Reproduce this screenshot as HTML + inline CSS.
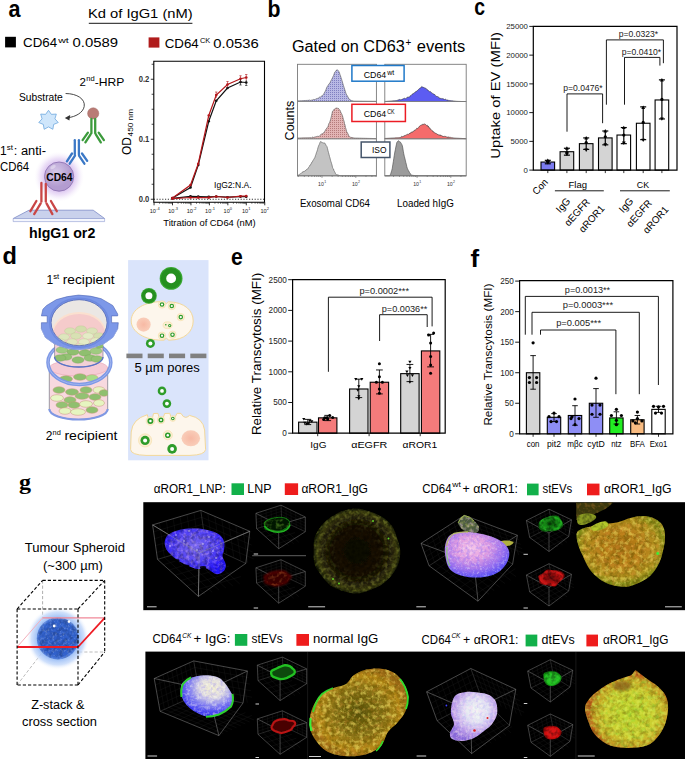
<!DOCTYPE html>
<html><head><meta charset="utf-8"><style>
html,body{margin:0;padding:0;background:#fff;}
svg{display:block;font-family:"Liberation Sans",sans-serif;}
</style></head><body>
<svg width="685" height="759" viewBox="0 0 685 759">
<defs>
<radialGradient id="glow"><stop offset="0.45" stop-color="#c7a2e6" stop-opacity="0.9"/><stop offset="0.75" stop-color="#d9c0f0" stop-opacity="0.45"/><stop offset="1" stop-color="#f4ecfb" stop-opacity="0"/></radialGradient>
<radialGradient id="cd64" cx="0.4" cy="0.35"><stop offset="0" stop-color="#d6c8e8"/><stop offset="1" stop-color="#b39cd0"/></radialGradient>
<pattern id="dotB" width="2" height="2" patternUnits="userSpaceOnUse"><rect width="2" height="2" fill="#b9b9e4"/><rect width="1" height="1" fill="#8080c0"/></pattern>
<pattern id="dotR" width="2" height="2" patternUnits="userSpaceOnUse"><rect width="2" height="2" fill="#e2b4b4"/><rect width="1" height="1" fill="#b57c7c"/></pattern>
<filter id="nzW" x="-5%" y="-5%" width="110%" height="110%"><feTurbulence type="fractalNoise" baseFrequency="0.4" numOctaves="3" seed="3" result="n"/><feColorMatrix in="n" type="matrix" values="0 0 0 0 1  0 0 0 0 1  0 0 0 0 1  0 0 0 3.0 -1.45" result="c"/><feGaussianBlur in="c" stdDeviation="0.35" result="cb"/><feComposite in="cb" in2="SourceAlpha" operator="in"/></filter><filter id="nzW2" x="-5%" y="-5%" width="110%" height="110%"><feTurbulence type="fractalNoise" baseFrequency="0.3" numOctaves="3" seed="8" result="n"/><feColorMatrix in="n" type="matrix" values="0 0 0 0 1  0 0 0 0 1  0 0 0 0 0.9  0 0 0 3.0 -1.3" result="c"/><feGaussianBlur in="c" stdDeviation="0.35" result="cb"/><feComposite in="cb" in2="SourceAlpha" operator="in"/></filter><filter id="nzK" x="-5%" y="-5%" width="110%" height="110%"><feTurbulence type="fractalNoise" baseFrequency="0.25" numOctaves="3" seed="5" result="n"/><feColorMatrix in="n" type="matrix" values="0 0 0 0 0  0 0 0 0 0  0 0 0 0 0  0 0 0 3.0 -1.2" result="c"/><feGaussianBlur in="c" stdDeviation="0.35" result="cb"/><feComposite in="cb" in2="SourceAlpha" operator="in"/></filter><filter id="nzK2" x="-5%" y="-5%" width="110%" height="110%"><feTurbulence type="fractalNoise" baseFrequency="0.2" numOctaves="3" seed="9" result="n"/><feColorMatrix in="n" type="matrix" values="0 0 0 0 0.12  0 0 0 0 0.08  0 0 0 0 0  0 0 0 3.0 -1.2" result="c"/><feGaussianBlur in="c" stdDeviation="0.35" result="cb"/><feComposite in="cb" in2="SourceAlpha" operator="in"/></filter><filter id="nzY" x="-5%" y="-5%" width="110%" height="110%"><feTurbulence type="fractalNoise" baseFrequency="0.22" numOctaves="3" seed="4" result="n"/><feColorMatrix in="n" type="matrix" values="0 0 0 0 0.95  0 0 0 0 0.82  0 0 0 0 0.15  0 0 0 3.4 -1.55" result="c"/><feGaussianBlur in="c" stdDeviation="0.35" result="cb"/><feComposite in="cb" in2="SourceAlpha" operator="in"/></filter><filter id="nzYG" x="-5%" y="-5%" width="110%" height="110%"><feTurbulence type="fractalNoise" baseFrequency="0.25" numOctaves="3" seed="14" result="n"/><feColorMatrix in="n" type="matrix" values="0 0 0 0 0.75  0 0 0 0 0.85  0 0 0 0 0.1  0 0 0 3.4 -1.5" result="c"/><feGaussianBlur in="c" stdDeviation="0.35" result="cb"/><feComposite in="cb" in2="SourceAlpha" operator="in"/></filter><filter id="nzG" x="-5%" y="-5%" width="110%" height="110%"><feTurbulence type="fractalNoise" baseFrequency="0.25" numOctaves="3" seed="12" result="n"/><feColorMatrix in="n" type="matrix" values="0 0 0 0 0.3  0 0 0 0 0.75  0 0 0 0 0.05  0 0 0 3.0 -1.35" result="c"/><feGaussianBlur in="c" stdDeviation="0.35" result="cb"/><feComposite in="cb" in2="SourceAlpha" operator="in"/></filter><filter id="nzR" x="-5%" y="-5%" width="110%" height="110%"><feTurbulence type="fractalNoise" baseFrequency="0.25" numOctaves="3" seed="15" result="n"/><feColorMatrix in="n" type="matrix" values="0 0 0 0 0.85  0 0 0 0 0.3  0 0 0 0 0.05  0 0 0 3.0 -1.45" result="c"/><feGaussianBlur in="c" stdDeviation="0.35" result="cb"/><feComposite in="cb" in2="SourceAlpha" operator="in"/></filter><filter id="nzB" x="-5%" y="-5%" width="110%" height="110%"><feTurbulence type="fractalNoise" baseFrequency="0.3" numOctaves="3" seed="21" result="n"/><feColorMatrix in="n" type="matrix" values="0 0 0 0 0.15  0 0 0 0 0.1  0 0 0 0 1.0  0 0 0 3.0 -1.3" result="c"/><feGaussianBlur in="c" stdDeviation="0.35" result="cb"/><feComposite in="cb" in2="SourceAlpha" operator="in"/></filter><filter id="nzP" x="-5%" y="-5%" width="110%" height="110%"><feTurbulence type="fractalNoise" baseFrequency="0.3" numOctaves="3" seed="23" result="n"/><feColorMatrix in="n" type="matrix" values="0 0 0 0 0.95  0 0 0 0 0.6  0 0 0 0 0.95  0 0 0 3.0 -1.3" result="c"/><feGaussianBlur in="c" stdDeviation="0.35" result="cb"/><feComposite in="cb" in2="SourceAlpha" operator="in"/></filter><filter id="blur1" x="-20%" y="-20%" width="140%" height="140%"><feGaussianBlur stdDeviation="1.0"/></filter><filter id="blur2" x="-30%" y="-30%" width="160%" height="160%"><feGaussianBlur stdDeviation="2.0"/></filter><filter id="blur05" x="-20%" y="-20%" width="140%" height="140%"><feGaussianBlur stdDeviation="0.5"/></filter><radialGradient id="rimG"><stop offset="0" stop-color="#000"/><stop offset="0.45" stop-color="#222"/><stop offset="0.8" stop-color="#fff"/><stop offset="1" stop-color="#fff"/></radialGradient><mask id="rimMask" maskUnits="userSpaceOnUse" x="300" y="500" width="115" height="110"><circle cx="356.4" cy="551" r="44" fill="url(#rimG)"/></mask>
<radialGradient id="lnpB" cx="0.5" cy="0.4" r="0.6"><stop offset="0" stop-color="#7868ee"/><stop offset="0.5" stop-color="#5444f2"/><stop offset="0.85" stop-color="#3020fa"/><stop offset="1" stop-color="#2414fc"/></radialGradient>
<radialGradient id="dimY" cx="0.5" cy="0.5"><stop offset="0" stop-color="#0e0902"/><stop offset="0.6" stop-color="#151004"/><stop offset="0.82" stop-color="#2a2608"/><stop offset="0.93" stop-color="#3a3c0e"/><stop offset="1" stop-color="#181c05"/></radialGradient>
<radialGradient id="pinkB" cx="0.42" cy="0.35" r="0.7"><stop offset="0" stop-color="#f4c2e8"/><stop offset="0.35" stop-color="#e29ee0"/><stop offset="0.7" stop-color="#9e72ec"/><stop offset="1" stop-color="#4444f4"/></radialGradient>
<radialGradient id="gB"><stop offset="0" stop-color="#0c500c"/><stop offset="0.55" stop-color="#148a14"/><stop offset="0.85" stop-color="#22b422"/><stop offset="1" stop-color="#0e6a0e"/></radialGradient>
<radialGradient id="rB"><stop offset="0" stop-color="#700808"/><stop offset="0.55" stop-color="#b01010"/><stop offset="0.85" stop-color="#d41616"/><stop offset="1" stop-color="#7a0808"/></radialGradient>
<radialGradient id="gB2"><stop offset="0" stop-color="#30d030"/><stop offset="0.8" stop-color="#22c022"/><stop offset="1" stop-color="#109010"/></radialGradient>
<radialGradient id="rB2"><stop offset="0" stop-color="#e01818"/><stop offset="0.8" stop-color="#d01010"/><stop offset="1" stop-color="#900808"/></radialGradient>
<radialGradient id="orB" cx="0.5" cy="0.45"><stop offset="0" stop-color="#a87014"/><stop offset="0.5" stop-color="#b8801a"/><stop offset="0.85" stop-color="#ac901c"/><stop offset="1" stop-color="#808a16"/></radialGradient>
<radialGradient id="orB2" cx="0.5" cy="0.5"><stop offset="0" stop-color="#545010"/><stop offset="0.5" stop-color="#847012"/><stop offset="0.85" stop-color="#b48816"/><stop offset="1" stop-color="#9c6a12"/></radialGradient>
<radialGradient id="ygB" cx="0.55" cy="0.55"><stop offset="0" stop-color="#bcd62e"/><stop offset="0.6" stop-color="#cece30"/><stop offset="0.88" stop-color="#c89c24"/><stop offset="1" stop-color="#bc581a"/></radialGradient>
<radialGradient id="wbB" cx="0.6" cy="0.3" r="0.78"><stop offset="0" stop-color="#f4f0d0"/><stop offset="0.3" stop-color="#e2dee0"/><stop offset="0.55" stop-color="#8886ee"/><stop offset="0.8" stop-color="#3c3af0"/><stop offset="1" stop-color="#2a2ae8"/></radialGradient>
<radialGradient id="wbB2" cx="0.55" cy="0.38" r="0.62"><stop offset="0" stop-color="#f2f8f2"/><stop offset="0.4" stop-color="#e0e2f2"/><stop offset="0.75" stop-color="#b89ae6"/><stop offset="1" stop-color="#8a6ad6"/></radialGradient>

<radialGradient id="nuc"><stop offset="0" stop-color="#f7b9a4"/><stop offset="1" stop-color="#f9cdb9"/></radialGradient>
<radialGradient id="sglow"><stop offset="0" stop-color="#9ec0f6"/><stop offset="0.66" stop-color="#9ec0f6"/><stop offset="0.84" stop-color="#c0d6fa" stop-opacity="0.75"/><stop offset="1" stop-color="#ffffff" stop-opacity="0"/></radialGradient>
<radialGradient id="sph" cx="0.5" cy="0.5"><stop offset="0" stop-color="#2e5cc8"/><stop offset="0.85" stop-color="#3262cc"/><stop offset="1" stop-color="#5a86e0"/></radialGradient>
<radialGradient id="blueblob"><stop offset="0" stop-color="#3b2cf2"/><stop offset="0.8" stop-color="#2a1fe0"/><stop offset="1" stop-color="#1a12a0" stop-opacity="0"/></radialGradient>
<radialGradient id="dimY"><stop offset="0" stop-color="#1c1a06"/><stop offset="0.75" stop-color="#2a2808"/><stop offset="0.92" stop-color="#4b4a12"/><stop offset="1" stop-color="#000" stop-opacity="0"/></radialGradient>
<radialGradient id="pinkblob" cx="0.45" cy="0.45"><stop offset="0" stop-color="#e4b8e8"/><stop offset="0.6" stop-color="#b48ae8"/><stop offset="0.95" stop-color="#6b58e8"/><stop offset="1" stop-color="#000" stop-opacity="0"/></radialGradient>
<radialGradient id="gblob"><stop offset="0" stop-color="#2a9a2a"/><stop offset="0.7" stop-color="#23b023"/><stop offset="1" stop-color="#000" stop-opacity="0"/></radialGradient>
<radialGradient id="rblob"><stop offset="0" stop-color="#a01010"/><stop offset="0.7" stop-color="#cc1818"/><stop offset="1" stop-color="#000" stop-opacity="0"/></radialGradient>
<radialGradient id="gblob2"><stop offset="0" stop-color="#2ccc2c"/><stop offset="0.8" stop-color="#20b020"/><stop offset="1" stop-color="#000" stop-opacity="0"/></radialGradient>
<radialGradient id="rblob2"><stop offset="0" stop-color="#c81818"/><stop offset="0.8" stop-color="#b01010"/><stop offset="1" stop-color="#000" stop-opacity="0"/></radialGradient>
<radialGradient id="orY" cx="0.5" cy="0.5"><stop offset="0" stop-color="#a27a18"/><stop offset="0.7" stop-color="#c49a1c"/><stop offset="1" stop-color="#8a8a10"/></radialGradient>
<radialGradient id="orY2" cx="0.5" cy="0.5"><stop offset="0" stop-color="#7a6a10"/><stop offset="0.6" stop-color="#b08c14"/><stop offset="1" stop-color="#c89a18"/></radialGradient>
<radialGradient id="yg" cx="0.5" cy="0.55"><stop offset="0" stop-color="#b8c428"/><stop offset="0.7" stop-color="#c8c030"/><stop offset="1" stop-color="#c88a20"/></radialGradient>
<radialGradient id="wblob" cx="0.5" cy="0.45"><stop offset="0" stop-color="#e8e8d8"/><stop offset="0.55" stop-color="#b8b8e8"/><stop offset="0.9" stop-color="#3535e0"/><stop offset="1" stop-color="#2d9a3a"/></radialGradient>
<radialGradient id="wblob2" cx="0.5" cy="0.45"><stop offset="0" stop-color="#e8eef0"/><stop offset="0.6" stop-color="#d0c8ec"/><stop offset="0.9" stop-color="#a890d8"/><stop offset="1" stop-color="#7060c0" stop-opacity="0.5"/></radialGradient>
</defs>
<text x="8.40" y="16.70" font-size="24" text-anchor="start" fill="#000" font-weight="bold" textLength="12.0" lengthAdjust="spacingAndGlyphs" >a</text>
<text x="87.90" y="18.10" font-size="13" text-anchor="start" fill="#000" textLength="104.8" lengthAdjust="spacingAndGlyphs" >Kd of IgG1 (nM)</text>
<line x1="88.80" y1="23.40" x2="192.40" y2="23.40" stroke="#444" stroke-width="1.2" />
<rect x="5.10" y="36.80" width="10.80" height="10.60" fill="#000" stroke="none" stroke-width="1" />
<text x="23.10" y="47.00" font-size="13.6" text-anchor="start" fill="#000" textLength="34.1" lengthAdjust="spacingAndGlyphs" >CD64</text>
<text x="58.20" y="42.60" font-size="7.8" text-anchor="start" fill="#000" textLength="10.6" lengthAdjust="spacingAndGlyphs" >wt</text>
<text x="72.60" y="47.00" font-size="13.6" text-anchor="start" fill="#000" textLength="45.5" lengthAdjust="spacingAndGlyphs" >0.0589</text>
<rect x="148.60" y="37.40" width="10.80" height="10.20" fill="#b01c1c" stroke="none" stroke-width="1" />
<text x="164.70" y="47.60" font-size="13.6" text-anchor="start" fill="#000" textLength="34.1" lengthAdjust="spacingAndGlyphs" >CD64</text>
<text x="200.00" y="43.20" font-size="7.6" text-anchor="start" fill="#000" textLength="10.3" lengthAdjust="spacingAndGlyphs" >CK</text>
<text x="213.30" y="47.60" font-size="13.6" text-anchor="start" fill="#000" textLength="45.4" lengthAdjust="spacingAndGlyphs" >0.0536</text>
<text x="79.60" y="86.10" font-size="11.5" text-anchor="start" fill="#000" >2</text>
<text x="86.20" y="81.30" font-size="7.5" text-anchor="start" fill="#000" textLength="8.4" lengthAdjust="spacingAndGlyphs" >nd</text>
<text x="94.80" y="86.10" font-size="11.5" text-anchor="start" fill="#000" textLength="29.6" lengthAdjust="spacingAndGlyphs" >-HRP</text>
<text x="19.00" y="101.40" font-size="10" text-anchor="start" fill="#000" textLength="43.8" lengthAdjust="spacingAndGlyphs" >Substrate</text>
<path d="M65.6 93.5 C77 93.6 85.5 99 84.2 106.5 C83 113 75 116.8 68.5 117.6" fill="none" stroke="#333" stroke-width="0.9" />
<path d="M64.8 117.9 L70.2 114.9 L69.4 120.4 Z" fill="#333" stroke="none" stroke-width="1" />
<polygon points="48.50,110.30 51.36,114.35 56.32,114.07 54.93,118.83 58.25,122.53 53.66,124.42 52.84,129.31 48.50,126.90 44.16,129.31 43.34,124.42 38.75,122.53 42.07,118.83 40.68,114.07 45.64,114.35" fill="#cfe6fb" stroke="#6fa8de" stroke-width="0.8"/>
<circle cx="59.10" cy="176.60" r="25.00" fill="url(#glow)" stroke="none" stroke-width="1" />
<circle cx="59.10" cy="176.60" r="14.60" fill="url(#cd64)" stroke="#8a6fb0" stroke-width="0.8" />
<ellipse cx="53" cy="167" rx="3" ry="1.6" fill="#fff" opacity="0.35" transform="rotate(-30 53 167)"/>
<text x="59.40" y="181.00" font-size="10.5" text-anchor="middle" fill="#000" font-weight="bold" textLength="26.3" lengthAdjust="spacingAndGlyphs" >CD64</text>
<circle cx="93.20" cy="113.40" r="5.60" fill="#b97b75" stroke="#a06862" stroke-width="0.5" />
<line x1="91.40" y1="119.00" x2="91.40" y2="133.20" stroke="#3c9b3c" stroke-width="2.3" stroke-linecap="round"/>
<line x1="95.20" y1="119.00" x2="95.20" y2="133.20" stroke="#3c9b3c" stroke-width="2.3" stroke-linecap="round"/>
<line x1="87.90" y1="132.70" x2="82.60" y2="140.10" stroke="#3c9b3c" stroke-width="2.3" stroke-linecap="round"/>
<line x1="90.60" y1="134.30" x2="85.40" y2="142.40" stroke="#3c9b3c" stroke-width="2.3" stroke-linecap="round"/>
<line x1="98.70" y1="132.70" x2="103.90" y2="140.10" stroke="#3c9b3c" stroke-width="2.3" stroke-linecap="round"/>
<line x1="95.80" y1="134.30" x2="100.80" y2="142.40" stroke="#3c9b3c" stroke-width="2.3" stroke-linecap="round"/>
<line x1="74.80" y1="140.20" x2="74.80" y2="154.40" stroke="#3b78c6" stroke-width="2.3" stroke-linecap="round"/>
<line x1="78.90" y1="140.20" x2="78.90" y2="154.40" stroke="#3b78c6" stroke-width="2.3" stroke-linecap="round"/>
<line x1="72.00" y1="153.50" x2="66.90" y2="161.30" stroke="#3b78c6" stroke-width="2.3" stroke-linecap="round"/>
<line x1="75.00" y1="155.60" x2="69.70" y2="163.70" stroke="#3b78c6" stroke-width="2.3" stroke-linecap="round"/>
<line x1="82.00" y1="153.50" x2="87.20" y2="160.90" stroke="#3b78c6" stroke-width="2.3" stroke-linecap="round"/>
<line x1="79.00" y1="155.60" x2="84.40" y2="163.70" stroke="#3b78c6" stroke-width="2.3" stroke-linecap="round"/>
<path d="M29.0 210.2 L93.2 210.2 L104.6 218.5 L13.2 218.5 Z" fill="#c9d1ec" stroke="#7d8cc6" stroke-width="0.8" />
<path d="M13.2 218.5 L104.6 218.5 L104.6 221.6 L13.2 221.6 Z" fill="#f4f6fd" stroke="#8d9bd0" stroke-width="0.6" />
<line x1="41.40" y1="183.00" x2="41.40" y2="201.70" stroke="#c94646" stroke-width="2.3" stroke-linecap="round"/>
<line x1="45.80" y1="184.00" x2="45.80" y2="201.70" stroke="#c94646" stroke-width="2.3" stroke-linecap="round"/>
<line x1="36.40" y1="201.00" x2="30.40" y2="211.20" stroke="#c94646" stroke-width="2.3" stroke-linecap="round"/>
<line x1="40.70" y1="203.40" x2="34.20" y2="214.10" stroke="#c94646" stroke-width="2.3" stroke-linecap="round"/>
<line x1="50.90" y1="201.00" x2="56.80" y2="211.20" stroke="#c94646" stroke-width="2.3" stroke-linecap="round"/>
<line x1="46.50" y1="203.40" x2="52.40" y2="214.10" stroke="#c94646" stroke-width="2.3" stroke-linecap="round"/>
<text x="0.00" y="154.70" font-size="12" text-anchor="start" fill="#000" >1</text>
<text x="6.80" y="149.60" font-size="7.5" text-anchor="start" fill="#000" textLength="6.2" lengthAdjust="spacingAndGlyphs" >st</text>
<text x="13.80" y="154.70" font-size="12" text-anchor="start" fill="#000" textLength="32.2" lengthAdjust="spacingAndGlyphs" >: anti-</text>
<text x="0.00" y="171.30" font-size="12" text-anchor="start" fill="#000" textLength="29.1" lengthAdjust="spacingAndGlyphs" >CD64</text>
<text x="29.10" y="238.10" font-size="14" text-anchor="start" fill="#000" font-weight="bold" textLength="66.2" lengthAdjust="spacingAndGlyphs" >hIgG1 or2</text>
<path d="M153.8 61.3 L264.5 61.3 L264.5 202.3 L153.8 202.3 Z" fill="none" stroke="#000" stroke-width="1.1" />
<line x1="150.80" y1="199.25" x2="153.80" y2="199.25" stroke="#000" stroke-width="0.8" />
<text x="149.30" y="202.15" font-size="8.2" text-anchor="end" fill="#333" font-weight="bold" textLength="10.6" lengthAdjust="spacingAndGlyphs" >0.0</text>
<line x1="150.80" y1="139.25" x2="153.80" y2="139.25" stroke="#000" stroke-width="0.8" />
<text x="149.30" y="142.15" font-size="8.2" text-anchor="end" fill="#333" font-weight="bold" textLength="10.6" lengthAdjust="spacingAndGlyphs" >0.1</text>
<line x1="150.80" y1="79.25" x2="153.80" y2="79.25" stroke="#000" stroke-width="0.8" />
<text x="149.30" y="82.15" font-size="8.2" text-anchor="end" fill="#333" font-weight="bold" textLength="10.6" lengthAdjust="spacingAndGlyphs" >0.2</text>
<line x1="151.60" y1="184.25" x2="153.80" y2="184.25" stroke="#000" stroke-width="0.7" />
<line x1="151.60" y1="169.25" x2="153.80" y2="169.25" stroke="#000" stroke-width="0.7" />
<line x1="151.60" y1="154.25" x2="153.80" y2="154.25" stroke="#000" stroke-width="0.7" />
<line x1="151.60" y1="124.25" x2="153.80" y2="124.25" stroke="#000" stroke-width="0.7" />
<line x1="151.60" y1="109.25" x2="153.80" y2="109.25" stroke="#000" stroke-width="0.7" />
<line x1="151.60" y1="94.25" x2="153.80" y2="94.25" stroke="#000" stroke-width="0.7" />
<line x1="151.60" y1="64.25" x2="153.80" y2="64.25" stroke="#000" stroke-width="0.7" />
<line x1="154.05" y1="202.30" x2="154.05" y2="205.30" stroke="#000" stroke-width="0.8" />
<text x="152.85" y="212.80" font-size="5.6" text-anchor="middle" fill="#222" >10</text>
<text x="156.05" y="209.80" font-size="4.0" text-anchor="start" fill="#222" >-4</text>
<line x1="159.60" y1="202.30" x2="159.60" y2="203.90" stroke="#000" stroke-width="0.5" />
<line x1="162.85" y1="202.30" x2="162.85" y2="203.90" stroke="#000" stroke-width="0.5" />
<line x1="165.16" y1="202.30" x2="165.16" y2="203.90" stroke="#000" stroke-width="0.5" />
<line x1="166.95" y1="202.30" x2="166.95" y2="203.90" stroke="#000" stroke-width="0.5" />
<line x1="168.41" y1="202.30" x2="168.41" y2="203.90" stroke="#000" stroke-width="0.5" />
<line x1="169.64" y1="202.30" x2="169.64" y2="203.90" stroke="#000" stroke-width="0.5" />
<line x1="170.71" y1="202.30" x2="170.71" y2="203.90" stroke="#000" stroke-width="0.5" />
<line x1="171.66" y1="202.30" x2="171.66" y2="203.90" stroke="#000" stroke-width="0.5" />
<line x1="172.50" y1="202.30" x2="172.50" y2="205.30" stroke="#000" stroke-width="0.8" />
<text x="171.30" y="212.80" font-size="5.6" text-anchor="middle" fill="#222" >10</text>
<text x="174.50" y="209.80" font-size="4.0" text-anchor="start" fill="#222" >-3</text>
<line x1="178.05" y1="202.30" x2="178.05" y2="203.90" stroke="#000" stroke-width="0.5" />
<line x1="181.30" y1="202.30" x2="181.30" y2="203.90" stroke="#000" stroke-width="0.5" />
<line x1="183.61" y1="202.30" x2="183.61" y2="203.90" stroke="#000" stroke-width="0.5" />
<line x1="185.40" y1="202.30" x2="185.40" y2="203.90" stroke="#000" stroke-width="0.5" />
<line x1="186.86" y1="202.30" x2="186.86" y2="203.90" stroke="#000" stroke-width="0.5" />
<line x1="188.09" y1="202.30" x2="188.09" y2="203.90" stroke="#000" stroke-width="0.5" />
<line x1="189.16" y1="202.30" x2="189.16" y2="203.90" stroke="#000" stroke-width="0.5" />
<line x1="190.11" y1="202.30" x2="190.11" y2="203.90" stroke="#000" stroke-width="0.5" />
<line x1="190.95" y1="202.30" x2="190.95" y2="205.30" stroke="#000" stroke-width="0.8" />
<text x="189.75" y="212.80" font-size="5.6" text-anchor="middle" fill="#222" >10</text>
<text x="192.95" y="209.80" font-size="4.0" text-anchor="start" fill="#222" >-2</text>
<line x1="196.50" y1="202.30" x2="196.50" y2="203.90" stroke="#000" stroke-width="0.5" />
<line x1="199.75" y1="202.30" x2="199.75" y2="203.90" stroke="#000" stroke-width="0.5" />
<line x1="202.06" y1="202.30" x2="202.06" y2="203.90" stroke="#000" stroke-width="0.5" />
<line x1="203.85" y1="202.30" x2="203.85" y2="203.90" stroke="#000" stroke-width="0.5" />
<line x1="205.31" y1="202.30" x2="205.31" y2="203.90" stroke="#000" stroke-width="0.5" />
<line x1="206.54" y1="202.30" x2="206.54" y2="203.90" stroke="#000" stroke-width="0.5" />
<line x1="207.61" y1="202.30" x2="207.61" y2="203.90" stroke="#000" stroke-width="0.5" />
<line x1="208.56" y1="202.30" x2="208.56" y2="203.90" stroke="#000" stroke-width="0.5" />
<line x1="209.40" y1="202.30" x2="209.40" y2="205.30" stroke="#000" stroke-width="0.8" />
<text x="208.20" y="212.80" font-size="5.6" text-anchor="middle" fill="#222" >10</text>
<text x="211.40" y="209.80" font-size="4.0" text-anchor="start" fill="#222" >-1</text>
<line x1="214.95" y1="202.30" x2="214.95" y2="203.90" stroke="#000" stroke-width="0.5" />
<line x1="218.20" y1="202.30" x2="218.20" y2="203.90" stroke="#000" stroke-width="0.5" />
<line x1="220.51" y1="202.30" x2="220.51" y2="203.90" stroke="#000" stroke-width="0.5" />
<line x1="222.30" y1="202.30" x2="222.30" y2="203.90" stroke="#000" stroke-width="0.5" />
<line x1="223.76" y1="202.30" x2="223.76" y2="203.90" stroke="#000" stroke-width="0.5" />
<line x1="224.99" y1="202.30" x2="224.99" y2="203.90" stroke="#000" stroke-width="0.5" />
<line x1="226.06" y1="202.30" x2="226.06" y2="203.90" stroke="#000" stroke-width="0.5" />
<line x1="227.01" y1="202.30" x2="227.01" y2="203.90" stroke="#000" stroke-width="0.5" />
<line x1="227.85" y1="202.30" x2="227.85" y2="205.30" stroke="#000" stroke-width="0.8" />
<text x="226.65" y="212.80" font-size="5.6" text-anchor="middle" fill="#222" >10</text>
<text x="229.85" y="209.80" font-size="4.0" text-anchor="start" fill="#222" >0</text>
<line x1="233.40" y1="202.30" x2="233.40" y2="203.90" stroke="#000" stroke-width="0.5" />
<line x1="236.65" y1="202.30" x2="236.65" y2="203.90" stroke="#000" stroke-width="0.5" />
<line x1="238.96" y1="202.30" x2="238.96" y2="203.90" stroke="#000" stroke-width="0.5" />
<line x1="240.75" y1="202.30" x2="240.75" y2="203.90" stroke="#000" stroke-width="0.5" />
<line x1="242.21" y1="202.30" x2="242.21" y2="203.90" stroke="#000" stroke-width="0.5" />
<line x1="243.44" y1="202.30" x2="243.44" y2="203.90" stroke="#000" stroke-width="0.5" />
<line x1="244.51" y1="202.30" x2="244.51" y2="203.90" stroke="#000" stroke-width="0.5" />
<line x1="245.46" y1="202.30" x2="245.46" y2="203.90" stroke="#000" stroke-width="0.5" />
<line x1="246.30" y1="202.30" x2="246.30" y2="205.30" stroke="#000" stroke-width="0.8" />
<text x="245.10" y="212.80" font-size="5.6" text-anchor="middle" fill="#222" >10</text>
<text x="248.30" y="209.80" font-size="4.0" text-anchor="start" fill="#222" >1</text>
<line x1="251.85" y1="202.30" x2="251.85" y2="203.90" stroke="#000" stroke-width="0.5" />
<line x1="255.10" y1="202.30" x2="255.10" y2="203.90" stroke="#000" stroke-width="0.5" />
<line x1="257.41" y1="202.30" x2="257.41" y2="203.90" stroke="#000" stroke-width="0.5" />
<line x1="259.20" y1="202.30" x2="259.20" y2="203.90" stroke="#000" stroke-width="0.5" />
<line x1="260.66" y1="202.30" x2="260.66" y2="203.90" stroke="#000" stroke-width="0.5" />
<line x1="261.89" y1="202.30" x2="261.89" y2="203.90" stroke="#000" stroke-width="0.5" />
<line x1="262.96" y1="202.30" x2="262.96" y2="203.90" stroke="#000" stroke-width="0.5" />
<line x1="263.91" y1="202.30" x2="263.91" y2="203.90" stroke="#000" stroke-width="0.5" />
<line x1="264.75" y1="202.30" x2="264.75" y2="205.30" stroke="#000" stroke-width="0.8" />
<text x="263.55" y="212.80" font-size="5.6" text-anchor="middle" fill="#222" >10</text>
<text x="266.75" y="209.80" font-size="4.0" text-anchor="start" fill="#222" >2</text>
<text x="209.50" y="226.30" font-size="8.8" text-anchor="middle" fill="#000" textLength="92.5" lengthAdjust="spacingAndGlyphs" >Titration of CD64 (nM)</text>
<text x="131.00" y="155.00" font-size="12" text-anchor="start" fill="#000" textLength="18" lengthAdjust="spacingAndGlyphs" transform="rotate(-90 131.00 155.00)" >OD</text>
<text x="132.90" y="136.40" font-size="8.0" text-anchor="start" fill="#000" textLength="27.4" lengthAdjust="spacingAndGlyphs" transform="rotate(-90 132.90 136.40)" >450 nm</text>
<line x1="153.80" y1="199.25" x2="264.50" y2="199.25" stroke="#000" stroke-width="0.8" stroke-dasharray="1.2 1.6"/>
<path d="M172.50 198.00 L190.50 187.50 L198.25 165.00 L208.75 121.25 L216.25 100.75 L227.50 88.00 L240.50 82.00 L246.25 82.50" fill="none" stroke="#111" stroke-width="1.2" />
<circle cx="172.50" cy="198.00" r="1.30" fill="#111" stroke="none" stroke-width="1" />
<circle cx="190.50" cy="187.50" r="1.30" fill="#111" stroke="none" stroke-width="1" />
<circle cx="198.25" cy="165.00" r="1.30" fill="#111" stroke="none" stroke-width="1" />
<circle cx="208.75" cy="121.25" r="1.30" fill="#111" stroke="none" stroke-width="1" />
<circle cx="216.25" cy="100.75" r="1.30" fill="#111" stroke="none" stroke-width="1" />
<circle cx="227.50" cy="88.00" r="1.30" fill="#111" stroke="none" stroke-width="1" />
<circle cx="240.50" cy="82.00" r="1.30" fill="#111" stroke="none" stroke-width="1" />
<circle cx="246.25" cy="82.50" r="1.30" fill="#111" stroke="none" stroke-width="1" />
<path d="M172.50 198.40 L190.50 196.40 L198.25 196.60 L208.75 196.90 L216.25 196.50 L227.50 197.20 L240.50 196.60 L246.25 196.70" fill="none" stroke="#111" stroke-width="1.2" />
<circle cx="172.50" cy="198.40" r="1.30" fill="#111" stroke="none" stroke-width="1" />
<circle cx="190.50" cy="196.40" r="1.30" fill="#111" stroke="none" stroke-width="1" />
<circle cx="198.25" cy="196.60" r="1.30" fill="#111" stroke="none" stroke-width="1" />
<circle cx="208.75" cy="196.90" r="1.30" fill="#111" stroke="none" stroke-width="1" />
<circle cx="216.25" cy="196.50" r="1.30" fill="#111" stroke="none" stroke-width="1" />
<circle cx="227.50" cy="197.20" r="1.30" fill="#111" stroke="none" stroke-width="1" />
<circle cx="240.50" cy="196.60" r="1.30" fill="#111" stroke="none" stroke-width="1" />
<circle cx="246.25" cy="196.70" r="1.30" fill="#111" stroke="none" stroke-width="1" />
<path d="M172.50 198.00 L190.50 185.00 L198.25 163.75 L208.75 115.50 L216.25 95.00 L227.50 84.50 L240.50 78.75 L246.25 77.50" fill="none" stroke="#b3161a" stroke-width="1.2" />
<circle cx="172.50" cy="198.00" r="1.30" fill="#b3161a" stroke="none" stroke-width="1" />
<circle cx="190.50" cy="185.00" r="1.30" fill="#b3161a" stroke="none" stroke-width="1" />
<circle cx="198.25" cy="163.75" r="1.30" fill="#b3161a" stroke="none" stroke-width="1" />
<circle cx="208.75" cy="115.50" r="1.30" fill="#b3161a" stroke="none" stroke-width="1" />
<circle cx="216.25" cy="95.00" r="1.30" fill="#b3161a" stroke="none" stroke-width="1" />
<circle cx="227.50" cy="84.50" r="1.30" fill="#b3161a" stroke="none" stroke-width="1" />
<circle cx="240.50" cy="78.75" r="1.30" fill="#b3161a" stroke="none" stroke-width="1" />
<circle cx="246.25" cy="77.50" r="1.30" fill="#b3161a" stroke="none" stroke-width="1" />
<path d="M172.50 198.60 L190.50 197.50 L198.25 197.60 L208.75 197.60 L216.25 196.50 L227.50 197.50 L240.50 196.20 L246.25 196.00" fill="none" stroke="#b3161a" stroke-width="1.2" />
<circle cx="172.50" cy="198.60" r="1.30" fill="#b3161a" stroke="none" stroke-width="1" />
<circle cx="190.50" cy="197.50" r="1.30" fill="#b3161a" stroke="none" stroke-width="1" />
<circle cx="198.25" cy="197.60" r="1.30" fill="#b3161a" stroke="none" stroke-width="1" />
<circle cx="208.75" cy="197.60" r="1.30" fill="#b3161a" stroke="none" stroke-width="1" />
<circle cx="216.25" cy="196.50" r="1.30" fill="#b3161a" stroke="none" stroke-width="1" />
<circle cx="227.50" cy="197.50" r="1.30" fill="#b3161a" stroke="none" stroke-width="1" />
<circle cx="240.50" cy="196.20" r="1.30" fill="#b3161a" stroke="none" stroke-width="1" />
<circle cx="246.25" cy="196.00" r="1.30" fill="#b3161a" stroke="none" stroke-width="1" />
<line x1="216.25" y1="92.00" x2="216.25" y2="98.00" stroke="#b3161a" stroke-width="0.6" />
<line x1="215.05" y1="92.00" x2="217.45" y2="92.00" stroke="#b3161a" stroke-width="0.6" />
<line x1="227.50" y1="81.50" x2="227.50" y2="87.50" stroke="#b3161a" stroke-width="0.6" />
<line x1="226.30" y1="81.50" x2="228.70" y2="81.50" stroke="#b3161a" stroke-width="0.6" />
<line x1="240.50" y1="75.75" x2="240.50" y2="81.75" stroke="#b3161a" stroke-width="0.6" />
<line x1="239.30" y1="75.75" x2="241.70" y2="75.75" stroke="#b3161a" stroke-width="0.6" />
<line x1="246.25" y1="74.50" x2="246.25" y2="80.50" stroke="#b3161a" stroke-width="0.6" />
<line x1="245.05" y1="74.50" x2="247.45" y2="74.50" stroke="#b3161a" stroke-width="0.6" />
<line x1="240.50" y1="79.50" x2="240.50" y2="85.00" stroke="#111" stroke-width="0.6" />
<line x1="239.30" y1="85.00" x2="241.70" y2="85.00" stroke="#111" stroke-width="0.6" />
<line x1="246.25" y1="80.00" x2="246.25" y2="85.50" stroke="#111" stroke-width="0.6" />
<line x1="245.05" y1="85.50" x2="247.45" y2="85.50" stroke="#111" stroke-width="0.6" />
<text x="214.00" y="188.00" font-size="9.2" text-anchor="start" fill="#000" textLength="37.6" lengthAdjust="spacingAndGlyphs" >IgG2:N.A.</text>
<text x="267.50" y="16.70" font-size="24" text-anchor="start" fill="#000" font-weight="bold" textLength="13.0" lengthAdjust="spacingAndGlyphs" >b</text>
<text x="291.90" y="51.60" font-size="15.6" text-anchor="start" fill="#000" textLength="112.9" lengthAdjust="spacingAndGlyphs" >Gated on CD63</text>
<text x="405.60" y="46.00" font-size="10" text-anchor="start" fill="#000" textLength="5.8" lengthAdjust="spacingAndGlyphs" >+</text>
<text x="416.80" y="51.60" font-size="15.6" text-anchor="start" fill="#000" textLength="48.5" lengthAdjust="spacingAndGlyphs" >events</text>
<path d="M297.50 101.50 L297.50 100.90 L298.00 100.87 L298.50 100.85 L299.00 100.82 L299.50 100.80 L300.00 100.77 L300.50 100.75 L301.00 100.72 L301.50 100.70 L302.00 100.67 L302.50 100.65 L303.00 100.62 L303.50 100.60 L304.00 100.57 L304.50 100.54 L305.00 100.52 L305.50 100.49 L306.00 100.47 L306.50 100.44 L307.00 100.42 L307.50 100.39 L308.00 100.37 L308.50 100.34 L309.00 100.32 L309.50 100.07 L310.00 100.47 L310.50 100.40 L311.00 100.07 L311.50 100.14 L312.00 99.99 L312.50 99.98 L313.00 99.93 L313.50 99.38 L314.00 99.21 L314.50 99.56 L315.00 99.19 L315.50 99.26 L316.00 98.67 L316.50 98.80 L317.00 98.84 L317.50 98.38 L318.00 98.53 L318.50 98.22 L319.00 97.41 L319.50 97.13 L320.00 97.15 L320.50 97.11 L321.00 96.49 L321.50 96.11 L322.00 95.95 L322.50 95.43 L323.00 94.94 L323.50 94.24 L324.00 93.45 L324.50 92.47 L325.00 91.64 L325.50 90.46 L326.00 89.43 L326.50 88.15 L327.00 86.82 L327.50 86.31 L328.00 85.42 L328.50 84.74 L329.00 83.74 L329.50 83.50 L330.00 82.70 L330.50 81.47 L331.00 80.56 L331.50 79.76 L332.00 78.72 L332.50 77.82 L333.00 76.48 L333.50 75.64 L334.00 74.28 L334.50 72.80 L335.00 71.84 L335.50 71.44 L336.00 70.84 L336.50 70.06 L337.00 69.74 L337.50 69.83 L338.00 70.37 L338.50 71.13 L339.00 71.70 L339.50 72.94 L340.00 74.56 L340.50 76.04 L341.00 77.40 L341.50 78.88 L342.00 80.57 L342.50 82.26 L343.00 84.08 L343.50 85.57 L344.00 87.15 L344.50 88.86 L345.00 90.24 L345.50 91.90 L346.00 93.41 L346.50 94.56 L347.00 95.31 L347.50 96.17 L348.00 97.02 L348.50 98.21 L349.00 99.09 L349.50 99.30 L350.00 99.49 L350.50 100.02 L351.00 99.97 L351.50 100.47 L352.00 100.67 L352.50 100.77 L353.00 100.88 L353.50 100.99 L354.00 101.10 L354.50 101.10 L355.00 101.11 L355.50 101.11 L356.00 101.12 L356.50 101.12 L357.00 101.13 L357.50 101.13 L358.00 101.14 L358.50 101.14 L359.00 101.14 L359.50 101.15 L360.00 101.15 L360.50 101.16 L361.00 101.16 L361.50 101.17 L362.00 101.17 L362.50 101.18 L363.00 101.18 L363.50 101.18 L364.00 101.19 L364.50 101.19 L365.00 101.20 L365.50 101.20 L366.00 101.21 L366.50 101.21 L367.00 101.22 L367.50 101.22 L368.00 101.22 L368.50 101.23 L369.00 101.23 L369.50 101.24 L370.00 101.24 L370.50 101.25 L371.00 101.25 L371.50 101.26 L372.00 101.26 L372.50 101.27 L373.00 101.27 L373.50 101.27 L374.00 101.28 L374.50 101.28 L375.00 101.29 L375.50 101.29 L376.00 101.30 L376.40 101.50 Z" fill="url(#dotB)" stroke="#555" stroke-width="0.6" />
<path d="M297.50 138.80 L297.50 138.00 L298.00 137.99 L298.50 137.97 L299.00 137.96 L299.50 137.94 L300.00 137.93 L300.50 137.91 L301.00 137.90 L301.50 137.88 L302.00 137.87 L302.50 137.86 L303.00 137.84 L303.50 137.83 L304.00 137.81 L304.50 137.80 L305.00 137.78 L305.50 137.77 L306.00 137.75 L306.50 137.74 L307.00 137.72 L307.50 137.71 L308.00 137.70 L308.50 137.68 L309.00 137.67 L309.50 137.65 L310.00 137.64 L310.50 137.62 L311.00 137.61 L311.50 137.97 L312.00 137.86 L312.50 136.96 L313.00 136.89 L313.50 137.47 L314.00 137.28 L314.50 137.12 L315.00 136.70 L315.50 136.87 L316.00 136.77 L316.50 136.65 L317.00 136.17 L317.50 136.31 L318.00 136.18 L318.50 136.38 L319.00 136.48 L319.50 136.10 L320.00 135.40 L320.50 134.97 L321.00 134.48 L321.50 133.93 L322.00 133.59 L322.50 133.64 L323.00 133.17 L323.50 132.89 L324.00 132.66 L324.50 131.63 L325.00 130.96 L325.50 129.97 L326.00 129.08 L326.50 128.66 L327.00 127.79 L327.50 127.21 L328.00 126.41 L328.50 124.88 L329.00 123.19 L329.50 122.59 L330.00 121.26 L330.50 119.80 L331.00 117.88 L331.50 115.69 L332.00 113.64 L332.50 111.18 L333.00 110.93 L333.50 110.42 L334.00 109.20 L334.50 109.23 L335.00 108.76 L335.50 108.36 L336.00 108.24 L336.50 108.03 L337.00 108.25 L337.50 108.00 L338.00 108.62 L338.50 108.52 L339.00 109.32 L339.50 109.66 L340.00 110.26 L340.50 111.36 L341.00 112.68 L341.50 113.50 L342.00 114.56 L342.50 115.99 L343.00 117.76 L343.50 119.77 L344.00 120.96 L344.50 123.55 L345.00 124.95 L345.50 127.51 L346.00 128.95 L346.50 131.31 L347.00 132.11 L347.50 132.94 L348.00 133.97 L348.50 135.11 L349.00 136.07 L349.50 136.66 L350.00 136.69 L350.50 137.10 L351.00 137.61 L351.50 137.46 L352.00 137.10 L352.50 137.61 L353.00 137.74 L353.50 137.87 L354.00 138.00 L354.50 138.01 L355.00 138.03 L355.50 138.04 L356.00 138.05 L356.50 138.07 L357.00 138.08 L357.50 138.09 L358.00 138.11 L358.50 138.12 L359.00 138.13 L359.50 138.15 L360.00 138.16 L360.50 138.17 L361.00 138.19 L361.50 138.20 L362.00 138.21 L362.50 138.23 L363.00 138.24 L363.50 138.25 L364.00 138.27 L364.50 138.28 L365.00 138.29 L365.50 138.31 L366.00 138.32 L366.50 138.33 L367.00 138.35 L367.50 138.36 L368.00 138.38 L368.50 138.39 L369.00 138.40 L369.50 138.42 L370.00 138.43 L370.50 138.44 L371.00 138.46 L371.50 138.47 L372.00 138.48 L372.50 138.50 L373.00 138.51 L373.50 138.52 L374.00 138.54 L374.50 138.55 L375.00 138.56 L375.50 138.58 L376.00 138.59 L376.40 138.80 Z" fill="url(#dotR)" stroke="#555" stroke-width="0.6" />
<path d="M297.50 175.80 L297.50 175.80 L298.00 175.46 L298.50 175.13 L299.00 174.79 L299.50 174.24 L300.00 174.15 L300.50 173.67 L301.00 173.52 L301.50 173.20 L302.00 172.42 L302.50 172.03 L303.00 172.34 L303.50 171.52 L304.00 171.15 L304.50 171.41 L305.00 170.64 L305.50 170.58 L306.00 169.94 L306.50 169.71 L307.00 168.97 L307.50 169.01 L308.00 168.48 L308.50 167.50 L309.00 166.96 L309.50 166.20 L310.00 165.00 L310.50 164.84 L311.00 164.00 L311.50 162.98 L312.00 161.87 L312.50 161.65 L313.00 160.44 L313.50 159.74 L314.00 158.97 L314.50 157.94 L315.00 157.22 L315.50 155.39 L316.00 154.18 L316.50 152.36 L317.00 151.22 L317.50 149.64 L318.00 147.48 L318.50 146.15 L319.00 144.89 L319.50 144.16 L320.00 142.41 L320.50 141.57 L321.00 141.63 L321.50 142.12 L322.00 142.35 L322.50 142.65 L323.00 142.97 L323.50 142.97 L324.00 143.22 L324.50 143.05 L325.00 143.24 L325.50 144.19 L326.00 145.29 L326.50 146.04 L327.00 146.63 L327.50 148.59 L328.00 150.67 L328.50 152.62 L329.00 154.36 L329.50 156.47 L330.00 157.90 L330.50 160.18 L331.00 161.75 L331.50 163.30 L332.00 164.91 L332.50 167.33 L333.00 168.67 L333.50 169.05 L334.00 170.71 L334.50 171.50 L335.00 172.39 L335.50 173.60 L336.00 174.52 L336.50 174.78 L337.00 174.65 L337.50 174.83 L338.00 175.00 L338.50 175.17 L339.00 175.35 L339.50 175.52 L340.00 175.70 L340.50 175.80 L341.00 175.80 L341.50 175.80 L342.00 175.80 L342.50 175.80 L343.00 175.80 L343.50 175.80 L344.00 175.80 L344.50 175.80 L345.00 175.80 L345.50 175.80 L346.00 175.80 L346.50 175.80 L347.00 175.80 L347.50 175.80 L348.00 175.80 L348.50 175.80 L349.00 175.80 L349.50 175.80 L350.00 175.80 L350.50 175.80 L351.00 175.80 L351.50 175.80 L352.00 175.80 L352.50 175.80 L353.00 175.80 L353.50 175.80 L354.00 175.80 L354.50 175.80 L355.00 175.80 L355.50 175.80 L356.00 175.80 L356.50 175.80 L357.00 175.80 L357.50 175.80 L358.00 175.80 L358.50 175.80 L359.00 175.80 L359.50 175.80 L360.00 175.80 L360.50 175.80 L361.00 175.80 L361.50 175.80 L362.00 175.80 L362.50 175.80 L363.00 175.80 L363.50 175.80 L364.00 175.80 L364.50 175.80 L365.00 175.80 L365.50 175.80 L366.00 175.80 L366.50 175.80 L367.00 175.80 L367.50 175.80 L368.00 175.80 L368.50 175.80 L369.00 175.80 L369.50 175.80 L370.00 175.80 L370.50 175.80 L371.00 175.80 L371.50 175.80 L372.00 175.80 L372.50 175.80 L373.00 175.80 L373.50 175.80 L374.00 175.80 L374.50 175.80 L375.00 175.80 L375.50 175.80 L376.00 175.80 L376.40 175.80 Z" fill="#c3c3c3" stroke="#555" stroke-width="0.6" />
<path d="M384.80 101.50 L384.80 101.40 L385.30 101.40 L385.80 101.40 L386.30 101.38 L386.80 101.34 L387.30 101.30 L387.80 101.26 L388.30 101.21 L388.80 101.17 L389.30 101.13 L389.80 101.09 L390.30 101.05 L390.80 101.00 L391.30 100.96 L391.80 100.92 L392.30 100.88 L392.80 100.84 L393.30 100.79 L393.80 100.75 L394.30 100.71 L394.80 100.67 L395.30 100.63 L395.80 100.58 L396.30 100.54 L396.80 100.50 L397.30 100.38 L397.80 100.03 L398.30 99.79 L398.80 99.93 L399.30 99.60 L399.80 99.40 L400.30 99.58 L400.80 99.93 L401.30 99.70 L401.80 99.55 L402.30 98.95 L402.80 99.11 L403.30 98.76 L403.80 98.55 L404.30 98.37 L404.80 98.27 L405.30 98.70 L405.80 98.40 L406.30 98.17 L406.80 97.95 L407.30 97.19 L407.80 97.08 L408.30 97.15 L408.80 97.03 L409.30 96.93 L409.80 96.74 L410.30 95.62 L410.80 95.68 L411.30 95.33 L411.80 94.77 L412.30 94.07 L412.80 93.93 L413.30 93.18 L413.80 93.53 L414.30 93.08 L414.80 92.40 L415.30 91.78 L415.80 91.93 L416.30 91.23 L416.80 91.12 L417.30 90.69 L417.80 90.00 L418.30 89.54 L418.80 89.32 L419.30 88.79 L419.80 88.17 L420.30 87.92 L420.80 87.99 L421.30 86.92 L421.80 86.54 L422.30 87.03 L422.80 86.92 L423.30 87.35 L423.80 87.49 L424.30 87.58 L424.80 88.37 L425.30 87.96 L425.80 88.54 L426.30 88.73 L426.80 89.50 L427.30 89.57 L427.80 90.02 L428.30 90.76 L428.80 90.76 L429.30 91.32 L429.80 91.97 L430.30 91.58 L430.80 91.89 L431.30 92.37 L431.80 93.19 L432.30 93.40 L432.80 93.39 L433.30 93.81 L433.80 94.00 L434.30 94.56 L434.80 94.50 L435.30 95.40 L435.80 95.89 L436.30 96.25 L436.80 96.37 L437.30 96.88 L437.80 96.35 L438.30 96.90 L438.80 97.82 L439.30 97.96 L439.80 97.88 L440.30 98.51 L440.80 98.37 L441.30 98.70 L441.80 98.38 L442.30 98.44 L442.80 98.82 L443.30 98.69 L443.80 99.06 L444.30 99.74 L444.80 99.32 L445.30 99.18 L445.80 99.37 L446.30 99.63 L446.80 100.33 L447.30 100.09 L447.80 100.08 L448.30 100.33 L448.80 100.39 L449.30 100.45 L449.80 100.51 L450.30 100.57 L450.80 100.63 L451.30 100.69 L451.80 100.75 L452.30 100.81 L452.80 100.87 L453.30 100.93 L453.80 100.99 L454.30 101.05 L454.80 101.11 L455.30 101.17 L455.80 101.23 L456.30 101.29 L456.80 101.32 L457.30 101.34 L457.80 101.36 L458.30 101.38 L458.80 101.40 L459.30 101.42 L459.80 101.44 L460.30 101.46 L460.80 101.48 L461.30 101.50 L461.80 101.50 L462.30 101.50 L462.80 101.50 L463.30 101.50 L463.80 101.50 L464.30 101.50 L464.80 101.50 L465.30 101.50 L465.80 101.50 L466.20 101.50 Z" fill="#5c5cf2" stroke="#333" stroke-width="0.6" />
<path d="M384.80 138.80 L384.80 138.40 L385.30 138.40 L385.80 138.40 L386.30 138.39 L386.80 138.36 L387.30 138.33 L387.80 138.30 L388.30 138.27 L388.80 138.25 L389.30 138.22 L389.80 138.19 L390.30 138.16 L390.80 138.13 L391.30 138.10 L391.80 138.07 L392.30 138.04 L392.80 138.02 L393.30 137.99 L393.80 137.96 L394.30 137.93 L394.80 137.90 L395.30 137.87 L395.80 137.84 L396.30 137.81 L396.80 137.79 L397.30 137.76 L397.80 137.73 L398.30 137.70 L398.80 137.67 L399.30 137.64 L399.80 137.54 L400.30 137.54 L400.80 137.18 L401.30 137.21 L401.80 136.17 L402.30 136.46 L402.80 136.78 L403.30 136.34 L403.80 136.44 L404.30 135.50 L404.80 135.70 L405.30 135.33 L405.80 135.47 L406.30 135.27 L406.80 134.46 L407.30 134.41 L407.80 134.21 L408.30 134.60 L408.80 134.19 L409.30 133.33 L409.80 133.72 L410.30 132.80 L410.80 133.03 L411.30 132.28 L411.80 131.90 L412.30 132.44 L412.80 131.39 L413.30 131.02 L413.80 131.40 L414.30 130.90 L414.80 129.94 L415.30 130.22 L415.80 129.42 L416.30 129.15 L416.80 128.27 L417.30 128.60 L417.80 127.94 L418.30 127.81 L418.80 127.33 L419.30 126.33 L419.80 126.01 L420.30 125.57 L420.80 125.30 L421.30 124.97 L421.80 124.95 L422.30 125.00 L422.80 124.15 L423.30 124.58 L423.80 123.99 L424.30 123.71 L424.80 124.52 L425.30 124.49 L425.80 124.62 L426.30 125.09 L426.80 125.62 L427.30 125.27 L427.80 126.49 L428.30 125.96 L428.80 127.30 L429.30 128.00 L429.80 127.78 L430.30 129.15 L430.80 129.33 L431.30 130.15 L431.80 130.19 L432.30 130.60 L432.80 131.04 L433.30 132.13 L433.80 131.68 L434.30 132.55 L434.80 133.04 L435.30 133.36 L435.80 133.07 L436.30 133.40 L436.80 133.88 L437.30 134.44 L437.80 134.08 L438.30 134.94 L438.80 135.14 L439.30 135.35 L439.80 134.67 L440.30 135.73 L440.80 135.03 L441.30 135.43 L441.80 135.85 L442.30 136.30 L442.80 135.87 L443.30 136.61 L443.80 136.38 L444.30 136.29 L444.80 136.45 L445.30 136.46 L445.80 136.49 L446.30 136.63 L446.80 137.23 L447.30 137.61 L447.80 136.84 L448.30 136.79 L448.80 137.79 L449.30 137.40 L449.80 137.34 L450.30 137.24 L450.80 137.66 L451.30 137.63 L451.80 137.70 L452.30 137.76 L452.80 137.83 L453.30 137.89 L453.80 137.96 L454.30 138.02 L454.80 138.09 L455.30 138.12 L455.80 138.15 L456.30 138.17 L456.80 138.20 L457.30 138.23 L457.80 138.25 L458.30 138.28 L458.80 138.31 L459.30 138.33 L459.80 138.36 L460.30 138.38 L460.80 138.41 L461.30 138.44 L461.80 138.46 L462.30 138.49 L462.80 138.52 L463.30 138.54 L463.80 138.57 L464.30 138.59 L464.80 138.62 L465.30 138.65 L465.80 138.67 L466.20 138.80 Z" fill="#f56b6b" stroke="#333" stroke-width="0.6" />
<path d="M384.80 175.80 L384.80 175.80 L385.30 175.80 L385.80 175.80 L386.30 175.80 L386.80 175.80 L387.30 175.80 L387.80 175.80 L388.30 175.80 L388.80 175.80 L389.30 175.80 L389.80 175.80 L390.30 174.70 L390.80 173.41 L391.30 171.93 L391.80 170.19 L392.30 168.17 L392.80 164.66 L393.30 161.80 L393.80 158.34 L394.30 155.21 L394.80 152.12 L395.30 149.92 L395.80 147.10 L396.30 144.99 L396.80 142.46 L397.30 141.71 L397.80 141.26 L398.30 140.83 L398.80 140.83 L399.30 141.43 L399.80 141.96 L400.30 141.93 L400.80 142.82 L401.30 143.50 L401.80 144.38 L402.30 145.55 L402.80 148.03 L403.30 151.18 L403.80 153.83 L404.30 156.23 L404.80 158.09 L405.30 160.13 L405.80 162.40 L406.30 164.13 L406.80 166.56 L407.30 168.27 L407.80 169.27 L408.30 170.39 L408.80 170.99 L409.30 172.19 L409.80 172.98 L410.30 173.50 L410.80 174.40 L411.30 175.10 L411.80 175.18 L412.30 175.25 L412.80 175.33 L413.30 175.40 L413.80 175.48 L414.30 175.55 L414.80 175.63 L415.30 175.70 L415.80 175.78 L416.30 175.80 L416.80 175.80 L417.30 175.80 L417.80 175.80 L418.30 175.80 L418.80 175.80 L419.30 175.80 L419.80 175.80 L420.30 175.80 L420.80 175.80 L421.30 175.80 L421.80 175.80 L422.30 175.80 L422.80 175.80 L423.30 175.80 L423.80 175.80 L424.30 175.80 L424.80 175.80 L425.30 175.80 L425.80 175.80 L426.30 175.80 L426.80 175.80 L427.30 175.80 L427.80 175.80 L428.30 175.80 L428.80 175.80 L429.30 175.80 L429.80 175.80 L430.30 175.80 L430.80 175.80 L431.30 175.80 L431.80 175.80 L432.30 175.80 L432.80 175.80 L433.30 175.80 L433.80 175.80 L434.30 175.80 L434.80 175.80 L435.30 175.80 L435.80 175.80 L436.30 175.80 L436.80 175.80 L437.30 175.80 L437.80 175.80 L438.30 175.80 L438.80 175.80 L439.30 175.80 L439.80 175.80 L440.30 175.80 L440.80 175.80 L441.30 175.80 L441.80 175.80 L442.30 175.80 L442.80 175.80 L443.30 175.80 L443.80 175.80 L444.30 175.80 L444.80 175.80 L445.30 175.80 L445.80 175.80 L446.30 175.80 L446.80 175.80 L447.30 175.80 L447.80 175.80 L448.30 175.80 L448.80 175.80 L449.30 175.80 L449.80 175.80 L450.30 175.80 L450.80 175.80 L451.30 175.80 L451.80 175.80 L452.30 175.80 L452.80 175.80 L453.30 175.80 L453.80 175.80 L454.30 175.80 L454.80 175.80 L455.30 175.80 L455.80 175.80 L456.30 175.80 L456.80 175.80 L457.30 175.80 L457.80 175.80 L458.30 175.80 L458.80 175.80 L459.30 175.80 L459.80 175.80 L460.30 175.80 L460.80 175.80 L461.30 175.80 L461.80 175.80 L462.30 175.80 L462.80 175.80 L463.30 175.80 L463.80 175.80 L464.30 175.80 L464.80 175.80 L465.30 175.80 L465.80 175.80 L466.20 175.80 Z" fill="#9b9b9b" stroke="#444" stroke-width="0.6" />
<rect x="297.50" y="64.30" width="78.90" height="111.50" fill="none" stroke="#7a7a7a" stroke-width="0.9" />
<line x1="297.50" y1="101.50" x2="376.40" y2="101.50" stroke="#8a8a8a" stroke-width="0.7" />
<line x1="297.50" y1="138.80" x2="376.40" y2="138.80" stroke="#8a8a8a" stroke-width="0.7" />
<rect x="384.80" y="64.30" width="81.40" height="111.50" fill="none" stroke="#7a7a7a" stroke-width="0.9" />
<line x1="384.80" y1="101.50" x2="466.20" y2="101.50" stroke="#8a8a8a" stroke-width="0.7" />
<line x1="384.80" y1="138.80" x2="466.20" y2="138.80" stroke="#8a8a8a" stroke-width="0.7" />
<line x1="298.37" y1="175.80" x2="298.37" y2="177.00" stroke="#555" stroke-width="0.5" />
<line x1="304.33" y1="175.80" x2="304.33" y2="177.00" stroke="#555" stroke-width="0.5" />
<line x1="308.55" y1="175.80" x2="308.55" y2="177.00" stroke="#555" stroke-width="0.5" />
<line x1="311.83" y1="175.80" x2="311.83" y2="177.00" stroke="#555" stroke-width="0.5" />
<line x1="314.50" y1="175.80" x2="314.50" y2="177.00" stroke="#555" stroke-width="0.5" />
<line x1="316.76" y1="175.80" x2="316.76" y2="177.00" stroke="#555" stroke-width="0.5" />
<line x1="318.72" y1="175.80" x2="318.72" y2="177.00" stroke="#555" stroke-width="0.5" />
<line x1="320.45" y1="175.80" x2="320.45" y2="177.00" stroke="#555" stroke-width="0.5" />
<line x1="322.00" y1="175.80" x2="322.00" y2="178.00" stroke="#555" stroke-width="0.5" />
<line x1="332.17" y1="175.80" x2="332.17" y2="177.00" stroke="#555" stroke-width="0.5" />
<line x1="338.13" y1="175.80" x2="338.13" y2="177.00" stroke="#555" stroke-width="0.5" />
<line x1="342.35" y1="175.80" x2="342.35" y2="177.00" stroke="#555" stroke-width="0.5" />
<line x1="345.63" y1="175.80" x2="345.63" y2="177.00" stroke="#555" stroke-width="0.5" />
<line x1="348.30" y1="175.80" x2="348.30" y2="177.00" stroke="#555" stroke-width="0.5" />
<line x1="350.56" y1="175.80" x2="350.56" y2="177.00" stroke="#555" stroke-width="0.5" />
<line x1="352.52" y1="175.80" x2="352.52" y2="177.00" stroke="#555" stroke-width="0.5" />
<line x1="354.25" y1="175.80" x2="354.25" y2="177.00" stroke="#555" stroke-width="0.5" />
<line x1="355.80" y1="175.80" x2="355.80" y2="178.00" stroke="#555" stroke-width="0.5" />
<line x1="365.97" y1="175.80" x2="365.97" y2="177.00" stroke="#555" stroke-width="0.5" />
<line x1="371.93" y1="175.80" x2="371.93" y2="177.00" stroke="#555" stroke-width="0.5" />
<line x1="376.15" y1="175.80" x2="376.15" y2="177.00" stroke="#555" stroke-width="0.5" />
<text x="321.00" y="185.60" font-size="5.2" text-anchor="middle" fill="#333" >10</text>
<text x="324.20" y="183.20" font-size="3.6" text-anchor="start" fill="#333" >1</text>
<text x="354.80" y="185.60" font-size="5.2" text-anchor="middle" fill="#333" >10</text>
<text x="358.00" y="183.20" font-size="3.6" text-anchor="start" fill="#333" >2</text>
<line x1="393.54" y1="175.80" x2="393.54" y2="177.00" stroke="#555" stroke-width="0.5" />
<line x1="399.48" y1="175.80" x2="399.48" y2="177.00" stroke="#555" stroke-width="0.5" />
<line x1="403.69" y1="175.80" x2="403.69" y2="177.00" stroke="#555" stroke-width="0.5" />
<line x1="406.96" y1="175.80" x2="406.96" y2="177.00" stroke="#555" stroke-width="0.5" />
<line x1="409.62" y1="175.80" x2="409.62" y2="177.00" stroke="#555" stroke-width="0.5" />
<line x1="411.88" y1="175.80" x2="411.88" y2="177.00" stroke="#555" stroke-width="0.5" />
<line x1="413.83" y1="175.80" x2="413.83" y2="177.00" stroke="#555" stroke-width="0.5" />
<line x1="415.56" y1="175.80" x2="415.56" y2="177.00" stroke="#555" stroke-width="0.5" />
<line x1="417.10" y1="175.80" x2="417.10" y2="178.00" stroke="#555" stroke-width="0.5" />
<line x1="427.24" y1="175.80" x2="427.24" y2="177.00" stroke="#555" stroke-width="0.5" />
<line x1="433.18" y1="175.80" x2="433.18" y2="177.00" stroke="#555" stroke-width="0.5" />
<line x1="437.39" y1="175.80" x2="437.39" y2="177.00" stroke="#555" stroke-width="0.5" />
<line x1="440.66" y1="175.80" x2="440.66" y2="177.00" stroke="#555" stroke-width="0.5" />
<line x1="443.32" y1="175.80" x2="443.32" y2="177.00" stroke="#555" stroke-width="0.5" />
<line x1="445.58" y1="175.80" x2="445.58" y2="177.00" stroke="#555" stroke-width="0.5" />
<line x1="447.53" y1="175.80" x2="447.53" y2="177.00" stroke="#555" stroke-width="0.5" />
<line x1="449.26" y1="175.80" x2="449.26" y2="177.00" stroke="#555" stroke-width="0.5" />
<line x1="450.80" y1="175.80" x2="450.80" y2="178.00" stroke="#555" stroke-width="0.5" />
<line x1="460.94" y1="175.80" x2="460.94" y2="177.00" stroke="#555" stroke-width="0.5" />
<text x="416.10" y="185.60" font-size="5.2" text-anchor="middle" fill="#333" >10</text>
<text x="419.30" y="183.20" font-size="3.6" text-anchor="start" fill="#333" >1</text>
<text x="449.80" y="185.60" font-size="5.2" text-anchor="middle" fill="#333" >10</text>
<text x="453.00" y="183.20" font-size="3.6" text-anchor="start" fill="#333" >2</text>
<rect x="351.90" y="65.50" width="52.20" height="15.70" fill="#fff" stroke="#1f79c9" stroke-width="1.5" />
<text x="363.70" y="78.30" font-size="9.3" text-anchor="start" fill="#000" textLength="22.5" lengthAdjust="spacingAndGlyphs" >CD64</text>
<text x="387.20" y="74.80" font-size="6.6" text-anchor="start" fill="#000" textLength="7.0" lengthAdjust="spacingAndGlyphs" >wt</text>
<rect x="351.90" y="104.30" width="53.50" height="17.20" fill="#fff" stroke="#ec1c24" stroke-width="1.5" />
<text x="363.70" y="117.40" font-size="9.3" text-anchor="start" fill="#000" textLength="22.5" lengthAdjust="spacingAndGlyphs" >CD64</text>
<text x="387.20" y="114.00" font-size="6.6" text-anchor="start" fill="#000" textLength="7.4" lengthAdjust="spacingAndGlyphs" >CK</text>
<rect x="361.20" y="142.00" width="28.70" height="15.50" fill="#fff" stroke="#44546a" stroke-width="1.5" />
<text x="372.00" y="153.40" font-size="9.3" text-anchor="start" fill="#000" textLength="14.5" lengthAdjust="spacingAndGlyphs" >ISO</text>
<text x="293.80" y="140.40" font-size="13.5" text-anchor="start" fill="#000" textLength="39.7" lengthAdjust="spacingAndGlyphs" transform="rotate(-90 293.80 140.40)" >Counts</text>
<text x="299.90" y="206.50" font-size="11" text-anchor="start" fill="#000" textLength="70.1" lengthAdjust="spacingAndGlyphs" >Exosomal CD64</text>
<text x="397.00" y="206.50" font-size="11" text-anchor="start" fill="#000" textLength="56.8" lengthAdjust="spacingAndGlyphs" >Loaded hIgG</text>
<text x="474.20" y="15.10" font-size="24" text-anchor="start" fill="#000" font-weight="bold" textLength="10.8" lengthAdjust="spacingAndGlyphs" >c</text>
<rect x="541.00" y="162.05" width="13.60" height="8.05" fill="#7b7bf0" stroke="#000" stroke-width="1.1" />
<line x1="547.80" y1="160.33" x2="547.80" y2="163.78" stroke="#000" stroke-width="1.2" />
<line x1="544.80" y1="160.33" x2="550.80" y2="160.33" stroke="#000" stroke-width="1.2" />
<line x1="544.80" y1="163.78" x2="550.80" y2="163.78" stroke="#000" stroke-width="1.2" />
<path d="M545.90 161.85 L549.70 161.85 L547.80 158.43 Z" fill="#000" stroke="none" stroke-width="1" />
<circle cx="547.80" cy="161.48" r="1.60" fill="#000" stroke="none" stroke-width="1" />
<path d="M545.90 161.11 L549.70 161.11 L547.80 164.53 Z" fill="#000" stroke="none" stroke-width="1" />
<rect x="560.10" y="151.71" width="13.60" height="18.39" fill="#d4d4d4" stroke="#000" stroke-width="1.1" />
<line x1="566.90" y1="148.26" x2="566.90" y2="155.16" stroke="#000" stroke-width="1.2" />
<line x1="563.90" y1="148.26" x2="569.90" y2="148.26" stroke="#000" stroke-width="1.2" />
<line x1="563.90" y1="155.16" x2="569.90" y2="155.16" stroke="#000" stroke-width="1.2" />
<path d="M565.00 149.78 L568.80 149.78 L566.90 146.36 Z" fill="#000" stroke="none" stroke-width="1" />
<circle cx="566.90" cy="152.86" r="1.60" fill="#000" stroke="none" stroke-width="1" />
<path d="M565.00 152.49 L568.80 152.49 L566.90 155.91 Z" fill="#000" stroke="none" stroke-width="1" />
<rect x="579.40" y="143.66" width="13.60" height="26.44" fill="#d4d4d4" stroke="#000" stroke-width="1.1" />
<line x1="586.20" y1="137.91" x2="586.20" y2="149.41" stroke="#000" stroke-width="1.2" />
<line x1="583.20" y1="137.91" x2="589.20" y2="137.91" stroke="#000" stroke-width="1.2" />
<line x1="583.20" y1="149.41" x2="589.20" y2="149.41" stroke="#000" stroke-width="1.2" />
<path d="M584.30 139.43 L588.10 139.43 L586.20 136.01 Z" fill="#000" stroke="none" stroke-width="1" />
<circle cx="586.20" cy="142.51" r="1.60" fill="#000" stroke="none" stroke-width="1" />
<path d="M584.30 148.46 L588.10 148.46 L586.20 151.88 Z" fill="#000" stroke="none" stroke-width="1" />
<rect x="598.50" y="137.91" width="13.60" height="32.19" fill="#d4d4d4" stroke="#000" stroke-width="1.1" />
<line x1="605.30" y1="131.01" x2="605.30" y2="144.81" stroke="#000" stroke-width="1.2" />
<line x1="602.30" y1="131.01" x2="608.30" y2="131.01" stroke="#000" stroke-width="1.2" />
<line x1="602.30" y1="144.81" x2="608.30" y2="144.81" stroke="#000" stroke-width="1.2" />
<path d="M603.40 132.53 L607.20 132.53 L605.30 129.11 Z" fill="#000" stroke="none" stroke-width="1" />
<circle cx="605.30" cy="136.76" r="1.60" fill="#000" stroke="none" stroke-width="1" />
<path d="M603.40 143.29 L607.20 143.29 L605.30 146.71 Z" fill="#000" stroke="none" stroke-width="1" />
<rect x="617.00" y="135.04" width="13.60" height="35.06" fill="#ffffff" stroke="#000" stroke-width="1.1" />
<line x1="623.80" y1="127.56" x2="623.80" y2="143.66" stroke="#000" stroke-width="1.2" />
<line x1="620.80" y1="127.56" x2="626.80" y2="127.56" stroke="#000" stroke-width="1.2" />
<line x1="620.80" y1="143.66" x2="626.80" y2="143.66" stroke="#000" stroke-width="1.2" />
<path d="M621.90 129.08 L625.70 129.08 L623.80 125.66 Z" fill="#000" stroke="none" stroke-width="1" />
<circle cx="623.80" cy="135.04" r="1.60" fill="#000" stroke="none" stroke-width="1" />
<path d="M621.90 141.56 L625.70 141.56 L623.80 144.98 Z" fill="#000" stroke="none" stroke-width="1" />
<rect x="636.40" y="123.25" width="13.60" height="46.85" fill="#ffffff" stroke="#000" stroke-width="1.1" />
<line x1="643.20" y1="106.87" x2="643.20" y2="139.64" stroke="#000" stroke-width="1.2" />
<line x1="640.20" y1="106.87" x2="646.20" y2="106.87" stroke="#000" stroke-width="1.2" />
<line x1="640.20" y1="139.64" x2="646.20" y2="139.64" stroke="#000" stroke-width="1.2" />
<path d="M641.30 108.97 L645.10 108.97 L643.20 105.55 Z" fill="#000" stroke="none" stroke-width="1" />
<circle cx="643.20" cy="122.39" r="1.60" fill="#000" stroke="none" stroke-width="1" />
<path d="M641.30 138.69 L645.10 138.69 L643.20 142.11 Z" fill="#000" stroke="none" stroke-width="1" />
<rect x="655.10" y="99.97" width="13.60" height="70.13" fill="#ffffff" stroke="#000" stroke-width="1.1" />
<line x1="661.90" y1="79.86" x2="661.90" y2="118.94" stroke="#000" stroke-width="1.2" />
<line x1="658.90" y1="79.86" x2="664.90" y2="79.86" stroke="#000" stroke-width="1.2" />
<line x1="658.90" y1="118.94" x2="664.90" y2="118.94" stroke="#000" stroke-width="1.2" />
<path d="M660.00 81.38 L663.80 81.38 L661.90 77.96 Z" fill="#000" stroke="none" stroke-width="1" />
<circle cx="661.90" cy="99.40" r="1.60" fill="#000" stroke="none" stroke-width="1" />
<path d="M660.00 117.42 L663.80 117.42 L661.90 120.84 Z" fill="#000" stroke="none" stroke-width="1" />
<path d="M533.3 26.4 L677.0 26.4 L677.0 170.1 L533.3 170.1 Z" fill="none" stroke="#000" stroke-width="1.2"/>
<line x1="529.30" y1="170.10" x2="533.30" y2="170.10" stroke="#000" stroke-width="0.9" />
<text x="527.90" y="172.90" font-size="7.8" text-anchor="end" fill="#222" >0</text>
<line x1="529.30" y1="141.36" x2="533.30" y2="141.36" stroke="#000" stroke-width="0.9" />
<text x="527.90" y="144.16" font-size="7.8" text-anchor="end" fill="#222" >5000</text>
<line x1="529.30" y1="112.62" x2="533.30" y2="112.62" stroke="#000" stroke-width="0.9" />
<text x="527.90" y="115.42" font-size="7.8" text-anchor="end" fill="#222" >10000</text>
<line x1="529.30" y1="83.88" x2="533.30" y2="83.88" stroke="#000" stroke-width="0.9" />
<text x="527.90" y="86.68" font-size="7.8" text-anchor="end" fill="#222" >15000</text>
<line x1="529.30" y1="55.14" x2="533.30" y2="55.14" stroke="#000" stroke-width="0.9" />
<text x="527.90" y="57.94" font-size="7.8" text-anchor="end" fill="#222" >20000</text>
<line x1="529.30" y1="26.40" x2="533.30" y2="26.40" stroke="#000" stroke-width="0.9" />
<text x="527.90" y="29.20" font-size="7.8" text-anchor="end" fill="#222" >25000</text>
<line x1="547.80" y1="170.10" x2="547.80" y2="173.10" stroke="#000" stroke-width="0.8" />
<line x1="566.90" y1="170.10" x2="566.90" y2="173.10" stroke="#000" stroke-width="0.8" />
<line x1="586.20" y1="170.10" x2="586.20" y2="173.10" stroke="#000" stroke-width="0.8" />
<line x1="605.30" y1="170.10" x2="605.30" y2="173.10" stroke="#000" stroke-width="0.8" />
<line x1="623.80" y1="170.10" x2="623.80" y2="173.10" stroke="#000" stroke-width="0.8" />
<line x1="643.20" y1="170.10" x2="643.20" y2="173.10" stroke="#000" stroke-width="0.8" />
<line x1="661.90" y1="170.10" x2="661.90" y2="173.10" stroke="#000" stroke-width="0.8" />
<path d="M567.0 131.7 L567.0 93.9 L602.6 93.9 L602.6 123.2" fill="none" stroke="#000" stroke-width="0.9" />
<text x="582.90" y="91.20" font-size="8.6" text-anchor="middle" fill="#222" textLength="39.4" lengthAdjust="spacingAndGlyphs" >p=0.0476*</text>
<path d="M624.5 104.7 L624.5 57.4 L659.9 57.4 L659.9 65.6" fill="none" stroke="#000" stroke-width="0.9" />
<text x="641.50" y="55.10" font-size="8.6" text-anchor="middle" fill="#222" textLength="39.4" lengthAdjust="spacingAndGlyphs" >p=0.0410*</text>
<path d="M606.4 104.7 L606.4 39.9 L663.4 39.9 L663.4 63.2" fill="none" stroke="#000" stroke-width="0.9" />
<text x="638.40" y="36.90" font-size="8.6" text-anchor="middle" fill="#222" textLength="39.4" lengthAdjust="spacingAndGlyphs" >p=0.0323*</text>
<text x="500.50" y="158.80" font-size="13.5" text-anchor="start" fill="#000" textLength="126.8" lengthAdjust="spacingAndGlyphs" transform="rotate(-90 500.50 158.80)" >Uptake of EV (MFI)</text>
<text x="548.50" y="182.50" font-size="10" text-anchor="end" fill="#000" textLength="17.5" lengthAdjust="spacingAndGlyphs" transform="rotate(-48 548.50 182.50)" >Con</text>
<text x="577.80" y="187.70" font-size="9" text-anchor="middle" fill="#000" textLength="18.5" lengthAdjust="spacingAndGlyphs" >Flag</text>
<line x1="554.90" y1="190.80" x2="603.80" y2="190.80" stroke="#000" stroke-width="0.9" />
<text x="642.90" y="187.70" font-size="9" text-anchor="middle" fill="#000" textLength="12.3" lengthAdjust="spacingAndGlyphs" >CK</text>
<line x1="620.00" y1="190.80" x2="669.80" y2="190.80" stroke="#000" stroke-width="0.9" />
<text x="571.00" y="201.50" font-size="10" text-anchor="end" fill="#000" textLength="16.0" lengthAdjust="spacingAndGlyphs" transform="rotate(-48 571.00 201.50)" >IgG</text>
<text x="590.50" y="202.50" font-size="10" text-anchor="end" fill="#000" textLength="32.5" lengthAdjust="spacingAndGlyphs" transform="rotate(-48 590.50 202.50)" >αEGFR</text>
<text x="605.00" y="209.00" font-size="10" text-anchor="end" fill="#000" textLength="32.5" lengthAdjust="spacingAndGlyphs" transform="rotate(-48 605.00 209.00)" >αROR1</text>
<text x="634.00" y="201.50" font-size="10" text-anchor="end" fill="#000" textLength="16.0" lengthAdjust="spacingAndGlyphs" transform="rotate(-48 634.00 201.50)" >IgG</text>
<text x="652.50" y="203.50" font-size="10" text-anchor="end" fill="#000" textLength="32.5" lengthAdjust="spacingAndGlyphs" transform="rotate(-48 652.50 203.50)" >αEGFR</text>
<text x="669.00" y="210.00" font-size="10" text-anchor="end" fill="#000" textLength="32.5" lengthAdjust="spacingAndGlyphs" transform="rotate(-48 669.00 210.00)" >αROR1</text>
<text x="2.40" y="263.60" font-size="24" text-anchor="start" fill="#000" font-weight="bold" textLength="14.4" lengthAdjust="spacingAndGlyphs" >d</text>
<text x="46.40" y="284.20" font-size="12" text-anchor="start" fill="#000" >1</text>
<text x="53.20" y="279.00" font-size="7.5" text-anchor="start" fill="#000" textLength="6.0" lengthAdjust="spacingAndGlyphs" >st</text>
<text x="62.80" y="284.20" font-size="12" text-anchor="start" fill="#000" textLength="51.8" lengthAdjust="spacingAndGlyphs" >recipient</text>
<text x="45.80" y="439.90" font-size="12" text-anchor="start" fill="#000" >2</text>
<text x="52.60" y="434.70" font-size="7.5" text-anchor="start" fill="#000" textLength="8.2" lengthAdjust="spacingAndGlyphs" >nd</text>
<text x="64.40" y="439.90" font-size="12" text-anchor="start" fill="#000" textLength="53.1" lengthAdjust="spacingAndGlyphs" >recipient</text>
<path d="M49.3 368 L49.3 409 A29.2 10.5 0 0 0 107.7 409 L107.7 368 Z" fill="#f8d9df" stroke="#5a6070" stroke-width="0.6" />
<ellipse cx="78.5" cy="368" rx="29.2" ry="8" fill="#f5cbd5" stroke="#e7a3b4" stroke-width="0.6"/>
<clipPath id="dishclip"><path d="M49.3 368 L49.3 409 A29.2 10.5 0 0 0 107.7 409 L107.7 368 Z"/></clipPath>
<g clip-path="url(#dishclip)">
<ellipse cx="66" cy="379" rx="6.5" ry="3.3" fill="#8fbf6f" stroke="#c39a78" stroke-width="0.5"/>
<ellipse cx="80" cy="377" rx="6.5" ry="3.3" fill="#8fbf6f" stroke="#c39a78" stroke-width="0.5"/>
<ellipse cx="92" cy="378" rx="6" ry="3.3" fill="#a8dc88" stroke="#c39a78" stroke-width="0.5"/>
<ellipse cx="59" cy="390" rx="6" ry="3.3" fill="#8fbf6f" stroke="#c39a78" stroke-width="0.5"/>
<ellipse cx="72" cy="392" rx="6.5" ry="3.3" fill="#8fbf6f" stroke="#c39a78" stroke-width="0.5"/>
<ellipse cx="86" cy="390" rx="6" ry="3.3" fill="#8fbf6f" stroke="#c39a78" stroke-width="0.5"/>
<ellipse cx="99" cy="390" rx="6" ry="3.3" fill="#e7f4c2" stroke="#c39a78" stroke-width="0.5"/>
<ellipse cx="104" cy="393" rx="5" ry="3.3" fill="#8fbf6f" stroke="#c39a78" stroke-width="0.5"/>
<ellipse cx="57" cy="398" rx="6.5" ry="3.3" fill="#e8f6c6" stroke="#c39a78" stroke-width="0.5"/>
<ellipse cx="70" cy="400" rx="6" ry="3.3" fill="#93c273" stroke="#c39a78" stroke-width="0.5"/>
<ellipse cx="82" cy="396" rx="7" ry="3.3" fill="#93c273" stroke="#c39a78" stroke-width="0.5"/>
<ellipse cx="95" cy="397" rx="6" ry="3.3" fill="#8fbf6f" stroke="#c39a78" stroke-width="0.5"/>
<ellipse cx="62" cy="405" rx="6" ry="3.3" fill="#93c273" stroke="#c39a78" stroke-width="0.5"/>
<ellipse cx="74" cy="405" rx="6" ry="3.3" fill="#8fbf6f" stroke="#c39a78" stroke-width="0.5"/>
<ellipse cx="86" cy="404" rx="6.5" ry="3.3" fill="#e6f5c0" stroke="#c39a78" stroke-width="0.5"/>
<ellipse cx="99" cy="403" rx="5.5" ry="3.3" fill="#e6f5c0" stroke="#c39a78" stroke-width="0.5"/>
<ellipse cx="65" cy="411" rx="6" ry="3.3" fill="#e6f5c0" stroke="#c39a78" stroke-width="0.5"/>
<ellipse cx="78" cy="412" rx="7.5" ry="3.3" fill="#e6f5c0" stroke="#c39a78" stroke-width="0.5"/>
<ellipse cx="92" cy="410" rx="6" ry="3.3" fill="#8fbf6f" stroke="#c39a78" stroke-width="0.5"/>
</g>
<path d="M49.3 409 A29.2 10.5 0 0 0 107.7 409" fill="none" stroke="#7f98e3" stroke-width="2.2" />
<ellipse cx="79.4" cy="362.5" rx="31.4" ry="22" fill="none" stroke="#7d98e6" stroke-width="3.6"/>
<ellipse cx="79.4" cy="362.5" rx="31.4" ry="22" fill="none" stroke="#a9bcf0" stroke-width="0.8"/>
<path d="M54.6 336 L54.6 357 A24.2 10 0 0 0 103 357 L103 336 Z" fill="#f3d0d6" stroke="#6a6f8a" stroke-width="0.6" />
<clipPath id="insclip"><path d="M54.6 336 L54.6 357 A24.2 10 0 0 0 103 357 L103 336 Z"/></clipPath>
<g clip-path="url(#insclip)">
<ellipse cx="62" cy="350" rx="6" ry="3.3" fill="#9fcb80" stroke="#6e9c52" stroke-width="0.3"/>
<ellipse cx="73" cy="352" rx="6" ry="3.3" fill="#8fbf6f" stroke="#6e9c52" stroke-width="0.3"/>
<ellipse cx="85" cy="353" rx="6" ry="3.3" fill="#8fbf6f" stroke="#6e9c52" stroke-width="0.3"/>
<ellipse cx="96" cy="351" rx="6" ry="3.3" fill="#9fcb80" stroke="#6e9c52" stroke-width="0.3"/>
<ellipse cx="100" cy="345" rx="6" ry="3.3" fill="#8fbf6f" stroke="#6e9c52" stroke-width="0.3"/>
<ellipse cx="66" cy="357" rx="6" ry="3.3" fill="#93c273" stroke="#6e9c52" stroke-width="0.3"/>
<ellipse cx="78" cy="360" rx="6" ry="3.3" fill="#8fbf6f" stroke="#6e9c52" stroke-width="0.3"/>
<ellipse cx="90" cy="358" rx="6" ry="3.3" fill="#93c273" stroke="#6e9c52" stroke-width="0.3"/>
<ellipse cx="70" cy="344" rx="6" ry="3.3" fill="#8fbf6f" stroke="#6e9c52" stroke-width="0.3"/>
<ellipse cx="86" cy="346" rx="6" ry="3.3" fill="#93c273" stroke="#6e9c52" stroke-width="0.3"/>
<ellipse cx="60" cy="358" rx="6" ry="3.3" fill="#8fbf6f" stroke="#6e9c52" stroke-width="0.3"/>
<ellipse cx="97" cy="359" rx="6" ry="3.3" fill="#93c273" stroke="#6e9c52" stroke-width="0.3"/>
</g>
<path d="M54.6 357 A24.2 10 0 0 0 103 357" fill="none" stroke="#5a73c9" stroke-width="1.4" />
<path d="M56.4 299.6 Q67 296 78.5 295.1 Q91 295.5 101.2 298.7 L112.8 305.5 L117.7 314.1 L117.7 315.9 L111.6 315.9 L111.6 322.7 L118.3 322.7 L117.7 328.8 L112.8 337.4 L104.2 343.5 Q92 349.2 78.5 349.6 Q65 349.2 53.9 343.5 L45.4 337.4 L41.4 328.8 L41.4 322.7 L47.2 322.7 L47.2 315.9 L41.4 315.9 L42.9 309.2 L46.6 305.5 Z" fill="#7d98e8" stroke="#4d64b4" stroke-width="0.6" />
<path d="M41.4 328.8 L45.4 337.4 L53.9 343.5 Q65 349.2 78.5 349.6 Q92 349.2 104.2 343.5 L112.8 337.4 L117.7 328.8" fill="none" stroke="#9fb4f0" stroke-width="0.7" />
<clipPath id="openclip"><ellipse cx="79.1" cy="322.7" rx="28" ry="23"/></clipPath>
<g clip-path="url(#openclip)">
<rect x="50.00" y="299.00" width="60.00" height="48.00" fill="#ebe7e4" stroke="none" stroke-width="1" />
<ellipse cx="79.1" cy="333" rx="27" ry="21" fill="#fbe0cf"/>
<ellipse cx="79.1" cy="334.5" rx="26" ry="20.5" fill="#f5cbcb"/>
<ellipse cx="70" cy="331" rx="5.5" ry="3.2" fill="#d8e1b3" stroke="#b8c38f" stroke-width="0.3"/>
<ellipse cx="81" cy="329" rx="5.5" ry="3.2" fill="#d3ddac" stroke="#b8c38f" stroke-width="0.3"/>
<ellipse cx="92" cy="331" rx="5.5" ry="3.2" fill="#dbe3b8" stroke="#b8c38f" stroke-width="0.3"/>
<ellipse cx="99" cy="336" rx="5.5" ry="3.2" fill="#d6dfb0" stroke="#b8c38f" stroke-width="0.3"/>
<ellipse cx="64" cy="337" rx="5.5" ry="3.2" fill="#dde6bd" stroke="#b8c38f" stroke-width="0.3"/>
<ellipse cx="76" cy="336" rx="5.5" ry="3.2" fill="#d8e1b3" stroke="#b8c38f" stroke-width="0.3"/>
<ellipse cx="88" cy="336" rx="5.5" ry="3.2" fill="#e4ebc6" stroke="#b8c38f" stroke-width="0.3"/>
<ellipse cx="96" cy="341" rx="5.5" ry="3.2" fill="#e3eac4" stroke="#b8c38f" stroke-width="0.3"/>
<ellipse cx="60" cy="342" rx="5.5" ry="3.2" fill="#e1e8c1" stroke="#b8c38f" stroke-width="0.3"/>
<ellipse cx="72" cy="342" rx="5.5" ry="3.2" fill="#e0e7bf" stroke="#b8c38f" stroke-width="0.3"/>
<ellipse cx="84" cy="342" rx="5.5" ry="3.2" fill="#e4ebc6" stroke="#b8c38f" stroke-width="0.3"/>
<ellipse cx="66" cy="346" rx="5.5" ry="3.2" fill="#dde6bd" stroke="#b8c38f" stroke-width="0.3"/>
<ellipse cx="80" cy="347" rx="5.5" ry="3.2" fill="#e0e7bf" stroke="#b8c38f" stroke-width="0.3"/>
<ellipse cx="92" cy="346" rx="5.5" ry="3.2" fill="#dde6bd" stroke="#b8c38f" stroke-width="0.3"/>
</g>
<ellipse cx="79.1" cy="322.7" rx="28" ry="23" fill="none" stroke="#4a5fae" stroke-width="0.8"/>
<ellipse cx="79.1" cy="322.7" rx="29.5" ry="24.5" fill="none" stroke="#6d89df" stroke-width="1.4"/>
<rect x="128.10" y="260.10" width="80.40" height="200.20" fill="#dae4fb" stroke="none" stroke-width="1" />
<path d="M131.2 320.9 C131.2 309 145 301.6 162 301.6 L164.5 301.7 Q166.3 305.5 168.2 301.8 L170 301.9 C184 302.5 193.2 310 193.2 320.9 C193.2 332 184 340 170 340.1 L168.3 340.1 Q166.3 336.3 164.4 340.1 L162 340.2 C145 340.2 131.2 332 131.2 320.9 Z" fill="#fdf6ec" stroke="#f3d89a" stroke-width="1.0" />
<path d="M130.6 449.5 L131.2 432 Q132.5 419 147.3 414.7 Q149 421.5 150.4 421.5 Q152 421 153.5 413.5 L158 413.4 Q159.5 420.5 161 420.5 Q163 420 164.7 413.5 L169.8 413.3 Q171.5 419.5 172.8 419.3 Q174.5 419 177.1 413.3 L181 413.4 Q183 417.5 185.8 417.4 Q188 417 189.5 415.4 Q203 418 204.6 430 L205.6 449.5 Q205 455 190 455.4 L146 455.4 Q131 455 130.6 449.5 Z" fill="#fdf6ec" stroke="#f3d89a" stroke-width="1.0" />
<circle cx="143.60" cy="324.60" r="7.10" fill="url(#nuc)" stroke="none" stroke-width="1" />
<ellipse cx="190.8" cy="438.3" rx="9.3" ry="8.0" fill="url(#nuc)"/>
<circle cx="171.10" cy="278.40" r="11.40" fill="#3aa834" stroke="none" stroke-width="1" />
<circle cx="171.10" cy="278.40" r="10.40" fill="#25901f" stroke="none" stroke-width="1" />
<circle cx="171.10" cy="278.40" r="4.90" fill="#ffffff" stroke="none" stroke-width="1" />
<circle cx="148.90" cy="295.80" r="7.90" fill="#3aa834" stroke="none" stroke-width="1" />
<circle cx="148.90" cy="295.80" r="7.10" fill="#25901f" stroke="none" stroke-width="1" />
<circle cx="148.90" cy="295.80" r="3.50" fill="#ffffff" stroke="none" stroke-width="1" />
<circle cx="162.00" cy="304.50" r="3.70" fill="#fbeed2" stroke="#f3d89a" stroke-width="0.5" />
<circle cx="162.00" cy="304.50" r="2.30" fill="#2e9c2a" stroke="none" stroke-width="1" />
<circle cx="162.00" cy="304.50" r="1.10" fill="#ffffff" stroke="none" stroke-width="1" />
<circle cx="171.80" cy="306.00" r="3.70" fill="#fbeed2" stroke="#f3d89a" stroke-width="0.5" />
<circle cx="171.80" cy="306.00" r="2.30" fill="#2e9c2a" stroke="none" stroke-width="1" />
<circle cx="171.80" cy="306.00" r="1.10" fill="#ffffff" stroke="none" stroke-width="1" />
<circle cx="180.80" cy="317.10" r="3.70" fill="#fbeed2" stroke="#f3d89a" stroke-width="0.5" />
<circle cx="180.80" cy="317.10" r="2.30" fill="#2e9c2a" stroke="none" stroke-width="1" />
<circle cx="180.80" cy="317.10" r="1.10" fill="#ffffff" stroke="none" stroke-width="1" />
<ellipse cx="167.6" cy="325.2" rx="4.6" ry="3.4" fill="#fbeed2" stroke="#f3d89a" stroke-width="0.5"/>
<circle cx="165.80" cy="324.80" r="0.80" fill="#2e9c2a" stroke="none" stroke-width="1" />
<circle cx="169.70" cy="325.60" r="1.60" fill="#2e9c2a" stroke="none" stroke-width="1" />
<circle cx="169.70" cy="325.60" r="0.70" fill="#ffffff" stroke="none" stroke-width="1" />
<circle cx="162.00" cy="335.70" r="3.70" fill="#fbeed2" stroke="#f3d89a" stroke-width="0.5" />
<circle cx="162.00" cy="335.70" r="2.30" fill="#2e9c2a" stroke="none" stroke-width="1" />
<circle cx="162.00" cy="335.70" r="1.10" fill="#ffffff" stroke="none" stroke-width="1" />
<circle cx="172.50" cy="334.70" r="3.70" fill="#fbeed2" stroke="#f3d89a" stroke-width="0.5" />
<circle cx="172.50" cy="334.70" r="2.30" fill="#2e9c2a" stroke="none" stroke-width="1" />
<circle cx="172.50" cy="334.70" r="1.10" fill="#ffffff" stroke="none" stroke-width="1" />
<circle cx="150.40" cy="343.40" r="4.50" fill="#2e9c2a" stroke="none" stroke-width="1" />
<circle cx="150.40" cy="343.40" r="2.00" fill="#ffffff" stroke="none" stroke-width="1" />
<circle cx="162.00" cy="390.90" r="4.30" fill="#2e9c2a" stroke="none" stroke-width="1" />
<circle cx="162.00" cy="390.90" r="1.90" fill="#ffffff" stroke="none" stroke-width="1" />
<circle cx="166.90" cy="403.60" r="4.30" fill="#2e9c2a" stroke="none" stroke-width="1" />
<circle cx="166.90" cy="403.60" r="1.90" fill="#ffffff" stroke="none" stroke-width="1" />
<circle cx="150.40" cy="421.00" r="4.30" fill="#fbeed2" stroke="#f3d89a" stroke-width="0.5" />
<circle cx="150.40" cy="421.00" r="3.00" fill="#2e9c2a" stroke="none" stroke-width="1" />
<circle cx="150.40" cy="421.00" r="1.30" fill="#ffffff" stroke="none" stroke-width="1" />
<circle cx="161.00" cy="420.00" r="3.70" fill="#fbeed2" stroke="#f3d89a" stroke-width="0.5" />
<circle cx="161.00" cy="420.00" r="2.50" fill="#2e9c2a" stroke="none" stroke-width="1" />
<circle cx="161.00" cy="420.00" r="1.10" fill="#ffffff" stroke="none" stroke-width="1" />
<circle cx="172.80" cy="418.50" r="2.90" fill="#fbeed2" stroke="#f3d89a" stroke-width="0.5" />
<circle cx="172.80" cy="418.50" r="1.80" fill="#2e9c2a" stroke="none" stroke-width="1" />
<circle cx="172.80" cy="418.50" r="0.80" fill="#ffffff" stroke="none" stroke-width="1" />
<circle cx="167.80" cy="435.20" r="4.60" fill="#fbeed2" stroke="#f3d89a" stroke-width="0.5" />
<circle cx="167.80" cy="435.20" r="2.80" fill="#2e9c2a" stroke="none" stroke-width="1" />
<circle cx="167.80" cy="435.20" r="1.20" fill="#ffffff" stroke="none" stroke-width="1" />
<circle cx="145.10" cy="440.40" r="6.60" fill="#fbeed2" stroke="#f3d89a" stroke-width="0.5" />
<circle cx="145.10" cy="440.40" r="4.60" fill="#2e9c2a" stroke="none" stroke-width="1" />
<circle cx="145.10" cy="440.40" r="2.00" fill="#ffffff" stroke="none" stroke-width="1" />
<circle cx="172.10" cy="448.90" r="4.80" fill="#2e9c2a" stroke="none" stroke-width="1" />
<circle cx="172.10" cy="448.90" r="2.00" fill="#ffffff" stroke="none" stroke-width="1" />
<rect x="126.40" y="353.60" width="16.10" height="4.60" fill="#808080" stroke="none" stroke-width="1" />
<rect x="147.70" y="353.60" width="16.10" height="4.60" fill="#808080" stroke="none" stroke-width="1" />
<rect x="169.00" y="353.60" width="16.10" height="4.60" fill="#808080" stroke="none" stroke-width="1" />
<rect x="190.30" y="353.60" width="16.10" height="4.60" fill="#808080" stroke="none" stroke-width="1" />
<text x="134.50" y="372.10" font-size="12" text-anchor="start" fill="#000" textLength="65.3" lengthAdjust="spacingAndGlyphs" >5 µm pores</text>
<text x="231.00" y="264.50" font-size="24" text-anchor="start" fill="#000" font-weight="bold" textLength="11.8" lengthAdjust="spacingAndGlyphs" >e</text>
<rect x="298.60" y="422.15" width="18.40" height="11.05" fill="#d4d4d4" stroke="#000" stroke-width="1.1" />
<line x1="307.80" y1="419.38" x2="307.80" y2="424.60" stroke="#000" stroke-width="0.9" />
<line x1="304.40" y1="419.38" x2="311.20" y2="419.38" stroke="#000" stroke-width="0.9" />
<line x1="304.40" y1="424.60" x2="311.20" y2="424.60" stroke="#000" stroke-width="0.9" />
<path d="M302.20 417.88 L305.40 417.88 L303.80 420.58 Z" fill="#000" stroke="none" stroke-width="1" />
<path d="M305.20 422.79 L308.40 422.79 L306.80 425.49 Z" fill="#000" stroke="none" stroke-width="1" />
<path d="M308.20 419.72 L311.40 419.72 L309.80 422.42 Z" fill="#000" stroke="none" stroke-width="1" />
<path d="M310.20 420.33 L313.40 420.33 L311.80 423.03 Z" fill="#000" stroke="none" stroke-width="1" />
<path d="M303.20 421.87 L306.40 421.87 L304.80 424.57 Z" fill="#000" stroke="none" stroke-width="1" />
<path d="M307.20 422.18 L310.40 422.18 L308.80 424.88 Z" fill="#000" stroke="none" stroke-width="1" />
<rect x="318.50" y="417.85" width="18.40" height="15.35" fill="#f47b7b" stroke="#000" stroke-width="1.1" />
<line x1="327.70" y1="415.39" x2="327.70" y2="420.61" stroke="#000" stroke-width="0.9" />
<line x1="324.30" y1="415.39" x2="331.10" y2="415.39" stroke="#000" stroke-width="0.9" />
<line x1="324.30" y1="420.61" x2="331.10" y2="420.61" stroke="#000" stroke-width="0.9" />
<circle cx="323.70" cy="419.38" r="1.50" fill="#000" stroke="none" stroke-width="1" />
<circle cx="326.70" cy="417.85" r="1.50" fill="#000" stroke="none" stroke-width="1" />
<circle cx="329.70" cy="415.39" r="1.50" fill="#000" stroke="none" stroke-width="1" />
<circle cx="332.70" cy="417.54" r="1.50" fill="#000" stroke="none" stroke-width="1" />
<circle cx="327.70" cy="419.08" r="1.50" fill="#000" stroke="none" stroke-width="1" />
<circle cx="324.70" cy="417.85" r="1.50" fill="#000" stroke="none" stroke-width="1" />
<rect x="349.60" y="388.99" width="18.40" height="44.21" fill="#d4d4d4" stroke="#000" stroke-width="1.1" />
<line x1="358.80" y1="379.17" x2="358.80" y2="397.59" stroke="#000" stroke-width="0.9" />
<line x1="355.40" y1="379.17" x2="362.20" y2="379.17" stroke="#000" stroke-width="0.9" />
<line x1="355.40" y1="397.59" x2="362.20" y2="397.59" stroke="#000" stroke-width="0.9" />
<path d="M354.20 377.97 L357.40 377.97 L355.80 380.67 Z" fill="#000" stroke="none" stroke-width="1" />
<path d="M360.20 377.97 L363.40 377.97 L361.80 380.67 Z" fill="#000" stroke="none" stroke-width="1" />
<path d="M357.20 385.34 L360.40 385.34 L358.80 388.04 Z" fill="#000" stroke="none" stroke-width="1" />
<path d="M357.20 395.16 L360.40 395.16 L358.80 397.86 Z" fill="#000" stroke="none" stroke-width="1" />
<path d="M357.20 397.62 L360.40 397.62 L358.80 400.32 Z" fill="#000" stroke="none" stroke-width="1" />
<path d="M356.20 389.02 L359.40 389.02 L357.80 391.72 Z" fill="#000" stroke="none" stroke-width="1" />
<rect x="370.20" y="382.24" width="18.40" height="50.96" fill="#f47b7b" stroke="#000" stroke-width="1.1" />
<line x1="379.40" y1="369.96" x2="379.40" y2="393.90" stroke="#000" stroke-width="0.9" />
<line x1="376.00" y1="369.96" x2="382.80" y2="369.96" stroke="#000" stroke-width="0.9" />
<line x1="376.00" y1="393.90" x2="382.80" y2="393.90" stroke="#000" stroke-width="0.9" />
<circle cx="379.40" cy="363.82" r="1.50" fill="#000" stroke="none" stroke-width="1" />
<circle cx="379.40" cy="376.71" r="1.50" fill="#000" stroke="none" stroke-width="1" />
<circle cx="376.40" cy="382.24" r="1.50" fill="#000" stroke="none" stroke-width="1" />
<circle cx="382.40" cy="382.24" r="1.50" fill="#000" stroke="none" stroke-width="1" />
<circle cx="379.40" cy="393.29" r="1.50" fill="#000" stroke="none" stroke-width="1" />
<circle cx="379.40" cy="388.99" r="1.50" fill="#000" stroke="none" stroke-width="1" />
<rect x="400.70" y="373.64" width="18.40" height="59.56" fill="#d4d4d4" stroke="#000" stroke-width="1.1" />
<line x1="409.90" y1="364.43" x2="409.90" y2="381.62" stroke="#000" stroke-width="0.9" />
<line x1="406.50" y1="364.43" x2="413.30" y2="364.43" stroke="#000" stroke-width="0.9" />
<line x1="406.50" y1="381.62" x2="413.30" y2="381.62" stroke="#000" stroke-width="0.9" />
<path d="M408.30 360.78 L411.50 360.78 L409.90 363.48 Z" fill="#000" stroke="none" stroke-width="1" />
<path d="M408.30 366.92 L411.50 366.92 L409.90 369.62 Z" fill="#000" stroke="none" stroke-width="1" />
<path d="M405.80 374.28 L409.00 374.28 L407.40 376.98 Z" fill="#000" stroke="none" stroke-width="1" />
<path d="M410.80 374.28 L414.00 374.28 L412.40 376.98 Z" fill="#000" stroke="none" stroke-width="1" />
<path d="M408.30 381.04 L411.50 381.04 L409.90 383.74 Z" fill="#000" stroke="none" stroke-width="1" />
<path d="M405.30 370.60 L408.50 370.60 L406.90 373.30 Z" fill="#000" stroke="none" stroke-width="1" />
<rect x="421.40" y="350.92" width="18.40" height="82.28" fill="#f47b7b" stroke="#000" stroke-width="1.1" />
<line x1="430.60" y1="334.35" x2="430.60" y2="366.89" stroke="#000" stroke-width="0.9" />
<line x1="427.20" y1="334.35" x2="434.00" y2="334.35" stroke="#000" stroke-width="0.9" />
<line x1="427.20" y1="366.89" x2="434.00" y2="366.89" stroke="#000" stroke-width="0.9" />
<circle cx="428.60" cy="334.96" r="1.50" fill="#000" stroke="none" stroke-width="1" />
<circle cx="433.60" cy="333.12" r="1.50" fill="#000" stroke="none" stroke-width="1" />
<circle cx="430.60" cy="342.94" r="1.50" fill="#000" stroke="none" stroke-width="1" />
<circle cx="430.60" cy="356.45" r="1.50" fill="#000" stroke="none" stroke-width="1" />
<circle cx="430.60" cy="365.05" r="1.50" fill="#000" stroke="none" stroke-width="1" />
<circle cx="430.60" cy="373.33" r="1.50" fill="#000" stroke="none" stroke-width="1" />
<path d="M292.6 279.6 L445.2 279.6 L445.2 433.2 L292.6 433.2 Z" fill="none" stroke="#000" stroke-width="1.2" />
<line x1="288.20" y1="433.20" x2="292.60" y2="433.20" stroke="#000" stroke-width="0.9" />
<text x="286.80" y="436.10" font-size="8.2" text-anchor="end" fill="#222" >0</text>
<line x1="288.20" y1="402.50" x2="292.60" y2="402.50" stroke="#000" stroke-width="0.9" />
<text x="286.80" y="405.40" font-size="8.2" text-anchor="end" fill="#222" >500</text>
<line x1="288.20" y1="371.80" x2="292.60" y2="371.80" stroke="#000" stroke-width="0.9" />
<text x="286.80" y="374.70" font-size="8.2" text-anchor="end" fill="#222" >1000</text>
<line x1="288.20" y1="341.10" x2="292.60" y2="341.10" stroke="#000" stroke-width="0.9" />
<text x="286.80" y="344.00" font-size="8.2" text-anchor="end" fill="#222" >1500</text>
<line x1="288.20" y1="310.40" x2="292.60" y2="310.40" stroke="#000" stroke-width="0.9" />
<text x="286.80" y="313.30" font-size="8.2" text-anchor="end" fill="#222" >2000</text>
<line x1="288.20" y1="279.70" x2="292.60" y2="279.70" stroke="#000" stroke-width="0.9" />
<text x="286.80" y="282.60" font-size="8.2" text-anchor="end" fill="#222" >2500</text>
<line x1="317.70" y1="433.20" x2="317.70" y2="436.20" stroke="#000" stroke-width="0.8" />
<line x1="369.10" y1="433.20" x2="369.10" y2="436.20" stroke="#000" stroke-width="0.8" />
<line x1="420.20" y1="433.20" x2="420.20" y2="436.20" stroke="#000" stroke-width="0.8" />
<path d="M328.4 371.8 L328.4 297.2 L432.1 297.2 L432.1 326.4" fill="none" stroke="#000" stroke-width="0.9" />
<text x="384.20" y="293.70" font-size="9.2" text-anchor="middle" fill="#222" textLength="49.6" lengthAdjust="spacingAndGlyphs" >p=0.0002***</text>
<path d="M379.6 341.0 L379.6 314.7 L427.2 314.7 L427.2 327.0" fill="none" stroke="#000" stroke-width="0.9" />
<text x="404.50" y="311.50" font-size="9.2" text-anchor="middle" fill="#222" textLength="45.5" lengthAdjust="spacingAndGlyphs" >p=0.0036**</text>
<text x="318.40" y="448.20" font-size="9.5" text-anchor="middle" fill="#000" textLength="16.1" lengthAdjust="spacingAndGlyphs" >IgG</text>
<text x="369.30" y="448.20" font-size="9.5" text-anchor="middle" fill="#000" textLength="36.2" lengthAdjust="spacingAndGlyphs" >αEGFR</text>
<text x="419.90" y="448.20" font-size="9.5" text-anchor="middle" fill="#000" textLength="34.7" lengthAdjust="spacingAndGlyphs" >αROR1</text>
<text x="260.80" y="435.10" font-size="12.8" text-anchor="start" fill="#000" textLength="162.3" lengthAdjust="spacingAndGlyphs" transform="rotate(-90 260.80 435.10)" >Relative Transcytosis (MFI)</text>
<text x="470.50" y="266.70" font-size="24" text-anchor="start" fill="#000" font-weight="bold" textLength="8.6" lengthAdjust="spacingAndGlyphs" >f</text>
<rect x="526.40" y="372.72" width="13.40" height="61.08" fill="#d4d4d4" stroke="#000" stroke-width="1.1" />
<line x1="533.10" y1="355.62" x2="533.10" y2="389.21" stroke="#000" stroke-width="0.9" />
<line x1="530.30" y1="355.62" x2="535.90" y2="355.62" stroke="#000" stroke-width="0.9" />
<line x1="530.30" y1="389.21" x2="535.90" y2="389.21" stroke="#000" stroke-width="0.9" />
<circle cx="533.10" cy="342.79" r="1.60" fill="#000" stroke="none" stroke-width="1" />
<circle cx="529.40" cy="377.61" r="1.60" fill="#000" stroke="none" stroke-width="1" />
<circle cx="536.60" cy="377.61" r="1.60" fill="#000" stroke="none" stroke-width="1" />
<circle cx="529.40" cy="382.49" r="1.60" fill="#000" stroke="none" stroke-width="1" />
<circle cx="536.60" cy="382.49" r="1.60" fill="#000" stroke="none" stroke-width="1" />
<rect x="547.30" y="417.31" width="13.40" height="16.49" fill="#8e8ef5" stroke="#000" stroke-width="1.1" />
<line x1="554.00" y1="413.64" x2="554.00" y2="421.58" stroke="#000" stroke-width="0.9" />
<line x1="551.20" y1="413.64" x2="556.80" y2="413.64" stroke="#000" stroke-width="0.9" />
<line x1="551.20" y1="421.58" x2="556.80" y2="421.58" stroke="#000" stroke-width="0.9" />
<circle cx="554.00" cy="413.03" r="1.60" fill="#000" stroke="none" stroke-width="1" />
<circle cx="549.00" cy="416.70" r="1.60" fill="#000" stroke="none" stroke-width="1" />
<circle cx="559.00" cy="416.70" r="1.60" fill="#000" stroke="none" stroke-width="1" />
<circle cx="551.00" cy="421.58" r="1.60" fill="#000" stroke="none" stroke-width="1" />
<circle cx="556.50" cy="421.58" r="1.60" fill="#000" stroke="none" stroke-width="1" />
<rect x="568.30" y="415.48" width="13.40" height="18.32" fill="#8e8ef5" stroke="#000" stroke-width="1.1" />
<line x1="575.00" y1="405.70" x2="575.00" y2="425.25" stroke="#000" stroke-width="0.9" />
<line x1="572.20" y1="405.70" x2="577.80" y2="405.70" stroke="#000" stroke-width="0.9" />
<line x1="572.20" y1="425.25" x2="577.80" y2="425.25" stroke="#000" stroke-width="0.9" />
<circle cx="575.00" cy="398.98" r="1.60" fill="#000" stroke="none" stroke-width="1" />
<circle cx="571.00" cy="418.53" r="1.60" fill="#000" stroke="none" stroke-width="1" />
<circle cx="579.00" cy="418.53" r="1.60" fill="#000" stroke="none" stroke-width="1" />
<circle cx="575.00" cy="424.64" r="1.60" fill="#000" stroke="none" stroke-width="1" />
<circle cx="572.00" cy="416.70" r="1.60" fill="#000" stroke="none" stroke-width="1" />
<rect x="589.30" y="403.26" width="13.40" height="30.54" fill="#8e8ef5" stroke="#000" stroke-width="1.1" />
<line x1="596.00" y1="388.60" x2="596.00" y2="417.31" stroke="#000" stroke-width="0.9" />
<line x1="593.20" y1="388.60" x2="598.80" y2="388.60" stroke="#000" stroke-width="0.9" />
<line x1="593.20" y1="417.31" x2="598.80" y2="417.31" stroke="#000" stroke-width="0.9" />
<circle cx="596.00" cy="378.22" r="1.60" fill="#000" stroke="none" stroke-width="1" />
<circle cx="592.00" cy="405.09" r="1.60" fill="#000" stroke="none" stroke-width="1" />
<circle cx="600.00" cy="405.09" r="1.60" fill="#000" stroke="none" stroke-width="1" />
<circle cx="592.00" cy="414.25" r="1.60" fill="#000" stroke="none" stroke-width="1" />
<circle cx="600.00" cy="414.25" r="1.60" fill="#000" stroke="none" stroke-width="1" />
<rect x="609.70" y="417.92" width="13.40" height="15.88" fill="#22ee22" stroke="#000" stroke-width="1.1" />
<line x1="616.40" y1="411.81" x2="616.40" y2="424.03" stroke="#000" stroke-width="0.9" />
<line x1="613.60" y1="411.81" x2="619.20" y2="411.81" stroke="#000" stroke-width="0.9" />
<line x1="613.60" y1="424.03" x2="619.20" y2="424.03" stroke="#000" stroke-width="0.9" />
<circle cx="616.40" cy="409.37" r="1.60" fill="#000" stroke="none" stroke-width="1" />
<circle cx="611.40" cy="415.48" r="1.60" fill="#000" stroke="none" stroke-width="1" />
<circle cx="621.40" cy="415.48" r="1.60" fill="#000" stroke="none" stroke-width="1" />
<circle cx="616.40" cy="420.36" r="1.60" fill="#000" stroke="none" stroke-width="1" />
<circle cx="616.40" cy="424.64" r="1.60" fill="#000" stroke="none" stroke-width="1" />
<rect x="630.70" y="419.75" width="13.40" height="14.05" fill="#f9bc82" stroke="#000" stroke-width="1.1" />
<line x1="637.40" y1="415.48" x2="637.40" y2="424.03" stroke="#000" stroke-width="0.9" />
<line x1="634.60" y1="415.48" x2="640.20" y2="415.48" stroke="#000" stroke-width="0.9" />
<line x1="634.60" y1="424.03" x2="640.20" y2="424.03" stroke="#000" stroke-width="0.9" />
<circle cx="637.40" cy="412.12" r="1.60" fill="#000" stroke="none" stroke-width="1" />
<circle cx="632.90" cy="420.97" r="1.60" fill="#000" stroke="none" stroke-width="1" />
<circle cx="641.90" cy="420.97" r="1.60" fill="#000" stroke="none" stroke-width="1" />
<circle cx="637.40" cy="418.53" r="1.60" fill="#000" stroke="none" stroke-width="1" />
<circle cx="635.40" cy="422.81" r="1.60" fill="#000" stroke="none" stroke-width="1" />
<rect x="651.80" y="409.37" width="13.40" height="24.43" fill="#ffffff" stroke="#000" stroke-width="1.1" />
<line x1="658.50" y1="406.31" x2="658.50" y2="412.42" stroke="#000" stroke-width="0.9" />
<line x1="655.70" y1="406.31" x2="661.30" y2="406.31" stroke="#000" stroke-width="0.9" />
<line x1="655.70" y1="412.42" x2="661.30" y2="412.42" stroke="#000" stroke-width="0.9" />
<circle cx="653.50" cy="406.31" r="1.60" fill="#000" stroke="none" stroke-width="1" />
<circle cx="663.50" cy="406.31" r="1.60" fill="#000" stroke="none" stroke-width="1" />
<circle cx="658.50" cy="406.92" r="1.60" fill="#000" stroke="none" stroke-width="1" />
<circle cx="655.50" cy="413.03" r="1.60" fill="#000" stroke="none" stroke-width="1" />
<circle cx="661.50" cy="413.03" r="1.60" fill="#000" stroke="none" stroke-width="1" />
<path d="M519.6 280.7 L672.9 280.7 L672.9 433.8 L519.6 433.8 Z" fill="none" stroke="#000" stroke-width="1.2" />
<line x1="515.20" y1="433.80" x2="519.60" y2="433.80" stroke="#000" stroke-width="0.9" />
<text x="513.90" y="436.70" font-size="8.2" text-anchor="end" fill="#222" >0</text>
<line x1="515.20" y1="403.26" x2="519.60" y2="403.26" stroke="#000" stroke-width="0.9" />
<text x="513.90" y="406.16" font-size="8.2" text-anchor="end" fill="#222" >50</text>
<line x1="515.20" y1="372.72" x2="519.60" y2="372.72" stroke="#000" stroke-width="0.9" />
<text x="513.90" y="375.62" font-size="8.2" text-anchor="end" fill="#222" >100</text>
<line x1="515.20" y1="342.18" x2="519.60" y2="342.18" stroke="#000" stroke-width="0.9" />
<text x="513.90" y="345.08" font-size="8.2" text-anchor="end" fill="#222" >150</text>
<line x1="515.20" y1="311.64" x2="519.60" y2="311.64" stroke="#000" stroke-width="0.9" />
<text x="513.90" y="314.54" font-size="8.2" text-anchor="end" fill="#222" >200</text>
<line x1="515.20" y1="281.10" x2="519.60" y2="281.10" stroke="#000" stroke-width="0.9" />
<text x="513.90" y="284.00" font-size="8.2" text-anchor="end" fill="#222" >250</text>
<line x1="533.10" y1="433.80" x2="533.10" y2="436.80" stroke="#000" stroke-width="0.8" />
<line x1="554.00" y1="433.80" x2="554.00" y2="436.80" stroke="#000" stroke-width="0.8" />
<line x1="575.00" y1="433.80" x2="575.00" y2="436.80" stroke="#000" stroke-width="0.8" />
<line x1="596.00" y1="433.80" x2="596.00" y2="436.80" stroke="#000" stroke-width="0.8" />
<line x1="616.40" y1="433.80" x2="616.40" y2="436.80" stroke="#000" stroke-width="0.8" />
<line x1="637.40" y1="433.80" x2="637.40" y2="436.80" stroke="#000" stroke-width="0.8" />
<line x1="658.50" y1="433.80" x2="658.50" y2="436.80" stroke="#000" stroke-width="0.8" />
<path d="M525.3 334.7 L525.3 296.4 L658.4 296.4 L658.4 385.0" fill="none" stroke="#000" stroke-width="0.9" />
<text x="587.50" y="292.90" font-size="9.2" text-anchor="middle" fill="#222" textLength="45.3" lengthAdjust="spacingAndGlyphs" >p=0.0013**</text>
<path d="M532.0 334.7 L532.0 312.3 L639.3 312.3 L639.3 394.2" fill="none" stroke="#000" stroke-width="0.9" />
<text x="587.90" y="307.90" font-size="9.2" text-anchor="middle" fill="#222" textLength="50.4" lengthAdjust="spacingAndGlyphs" >p=0.0003***</text>
<path d="M540.5 334.7 L540.5 330.0 L615.9 330.0 L615.9 394.2" fill="none" stroke="#000" stroke-width="0.9" />
<text x="578.60" y="325.90" font-size="9.2" text-anchor="middle" fill="#222" textLength="44.9" lengthAdjust="spacingAndGlyphs" >p=0.005***</text>
<text x="533.10" y="446.60" font-size="8.9" text-anchor="middle" fill="#000" textLength="12.8" lengthAdjust="spacingAndGlyphs" >con</text>
<text x="554.00" y="446.60" font-size="8.9" text-anchor="middle" fill="#000" textLength="13.8" lengthAdjust="spacingAndGlyphs" >pit2</text>
<text x="575.00" y="446.60" font-size="8.9" text-anchor="middle" fill="#000" textLength="15.4" lengthAdjust="spacingAndGlyphs" >mβc</text>
<text x="596.00" y="446.60" font-size="8.9" text-anchor="middle" fill="#000" textLength="17.4" lengthAdjust="spacingAndGlyphs" >cytD</text>
<text x="616.40" y="446.60" font-size="8.9" text-anchor="middle" fill="#000" textLength="10.5" lengthAdjust="spacingAndGlyphs" >ntz</text>
<text x="637.40" y="446.60" font-size="8.9" text-anchor="middle" fill="#000" textLength="15.0" lengthAdjust="spacingAndGlyphs" >BFA</text>
<text x="658.50" y="446.60" font-size="8.9" text-anchor="middle" fill="#000" textLength="17.6" lengthAdjust="spacingAndGlyphs" >Exo1</text>
<text x="492.30" y="425.60" font-size="11.8" text-anchor="start" fill="#000" textLength="142.1" lengthAdjust="spacingAndGlyphs" transform="rotate(-90 492.30 425.60)" >Relative Transcytosis (MFI)</text>
<text x="18.90" y="488.50" font-size="21" text-anchor="start" fill="#000" font-weight="bold" textLength="12.0" lengthAdjust="spacingAndGlyphs" font-family="Liberation Serif" >g</text>
<text x="24.70" y="551.80" font-size="12" text-anchor="start" fill="#000" textLength="100.2" lengthAdjust="spacingAndGlyphs" >Tumour Spheroid</text>
<text x="43.00" y="569.70" font-size="12" text-anchor="start" fill="#000" textLength="59.8" lengthAdjust="spacingAndGlyphs" >(~300 µm)</text>
<text x="31.20" y="709.00" font-size="12" text-anchor="start" fill="#000" textLength="53.3" lengthAdjust="spacingAndGlyphs" >Z-stack &amp;</text>
<text x="22.00" y="725.80" font-size="12" text-anchor="start" fill="#000" textLength="75.0" lengthAdjust="spacingAndGlyphs" >cross section</text>
<line x1="42.60" y1="580.40" x2="42.60" y2="652.00" stroke="#999" stroke-width="0.8" stroke-dasharray="3.2 2.0"/>
<line x1="42.60" y1="652.00" x2="104.70" y2="652.00" stroke="#aaa" stroke-width="0.8" stroke-dasharray="3.2 2.0"/>
<line x1="17.10" y1="685.00" x2="42.60" y2="652.00" stroke="#aaa" stroke-width="0.8" stroke-dasharray="3.2 2.0"/>
<circle cx="57.80" cy="638.40" r="31.50" fill="url(#sglow)" stroke="none" stroke-width="1" />
<circle cx="57.80" cy="638.40" r="21.00" fill="url(#sph)" stroke="none" stroke-width="1" />
<circle cx="57.8" cy="638.4" r="21" fill="#fff" filter="url(#nzW)" opacity="0.22"/>
<circle cx="57.8" cy="638.4" r="21" fill="#fff" filter="url(#nzK)" opacity="0.18"/>
<circle cx="54.20" cy="626.00" r="1.40" fill="#ffffff" stroke="none" stroke-width="1" />
<circle cx="69.00" cy="621.60" r="1.30" fill="#ffffff" stroke="none" stroke-width="1" />
<line x1="42.60" y1="617.90" x2="104.70" y2="617.90" stroke="#f08898" stroke-width="1.2" />
<line x1="17.10" y1="647.00" x2="42.60" y2="617.90" stroke="#f4b0bc" stroke-width="1.0" />
<line x1="17.10" y1="647.00" x2="78.00" y2="647.00" stroke="#ee1c24" stroke-width="1.8" />
<line x1="78.00" y1="647.00" x2="104.70" y2="617.90" stroke="#ee1c24" stroke-width="1.8" />
<line x1="17.10" y1="609.00" x2="78.00" y2="609.00" stroke="#000" stroke-width="1.1" stroke-dasharray="3.2 2.0"/>
<line x1="78.00" y1="609.00" x2="78.00" y2="685.00" stroke="#000" stroke-width="1.1" stroke-dasharray="3.2 2.0"/>
<line x1="78.00" y1="685.00" x2="17.10" y2="685.00" stroke="#000" stroke-width="1.1" stroke-dasharray="3.2 2.0"/>
<line x1="17.10" y1="685.00" x2="17.10" y2="609.00" stroke="#000" stroke-width="1.1" stroke-dasharray="3.2 2.0"/>
<line x1="42.60" y1="580.40" x2="104.70" y2="580.40" stroke="#000" stroke-width="1.1" stroke-dasharray="3.2 2.0"/>
<line x1="104.70" y1="580.40" x2="104.70" y2="652.00" stroke="#000" stroke-width="1.1" stroke-dasharray="3.2 2.0"/>
<line x1="17.10" y1="609.00" x2="42.60" y2="580.40" stroke="#000" stroke-width="1.1" stroke-dasharray="3.2 2.0"/>
<line x1="78.00" y1="609.00" x2="104.70" y2="580.40" stroke="#000" stroke-width="1.1" stroke-dasharray="3.2 2.0"/>
<line x1="78.00" y1="685.00" x2="104.70" y2="652.00" stroke="#000" stroke-width="1.1" stroke-dasharray="3.2 2.0"/>
<rect x="143.30" y="502.20" width="541.70" height="108.00" fill="#000" stroke="none" stroke-width="1" />
<rect x="145.40" y="651.60" width="539.60" height="107.40" fill="#000" stroke="none" stroke-width="1" />
<line x1="143.30" y1="610.60" x2="685.00" y2="610.60" stroke="#d8d8d8" stroke-width="0.6" />
<text x="153.70" y="492.90" font-size="12" text-anchor="start" fill="#000" textLength="72.0" lengthAdjust="spacingAndGlyphs" >αROR1_LNP:</text>
<rect x="231.50" y="483.30" width="12.50" height="11.70" fill="#12b04a" stroke="none" stroke-width="1" />
<text x="247.30" y="492.90" font-size="12" text-anchor="start" fill="#000" textLength="24.2" lengthAdjust="spacingAndGlyphs" >LNP</text>
<rect x="284.80" y="483.30" width="13.30" height="11.70" fill="#ee1c1c" stroke="none" stroke-width="1" />
<text x="301.40" y="492.90" font-size="12" text-anchor="start" fill="#000" textLength="66.6" lengthAdjust="spacingAndGlyphs" >αROR1_IgG</text>
<text x="422.30" y="493.20" font-size="12" text-anchor="start" fill="#000" textLength="29.3" lengthAdjust="spacingAndGlyphs" >CD64</text>
<text x="452.30" y="487.40" font-size="7.5" text-anchor="start" fill="#000" textLength="8.5" lengthAdjust="spacingAndGlyphs" >wt</text>
<text x="462.50" y="493.20" font-size="12" text-anchor="start" fill="#000" textLength="55.5" lengthAdjust="spacingAndGlyphs" >+ αROR1:</text>
<rect x="527.00" y="483.60" width="11.60" height="11.70" fill="#12b04a" stroke="none" stroke-width="1" />
<text x="542.50" y="493.20" font-size="12" text-anchor="start" fill="#000" textLength="29.8" lengthAdjust="spacingAndGlyphs" >stEVs</text>
<rect x="587.00" y="483.60" width="12.50" height="11.70" fill="#ee1c1c" stroke="none" stroke-width="1" />
<text x="604.00" y="493.20" font-size="12" text-anchor="start" fill="#000" textLength="67.6" lengthAdjust="spacingAndGlyphs" >αROR1_IgG</text>
<text x="152.50" y="643.30" font-size="12" text-anchor="start" fill="#000" textLength="29.3" lengthAdjust="spacingAndGlyphs" >CD64</text>
<text x="182.30" y="637.50" font-size="7.5" text-anchor="start" fill="#000" font-style="italic" textLength="9.0" lengthAdjust="spacingAndGlyphs" >CK</text>
<text x="193.50" y="643.30" font-size="12" text-anchor="start" fill="#000" textLength="37.0" lengthAdjust="spacingAndGlyphs" >+ IgG:</text>
<rect x="234.90" y="634.00" width="12.40" height="11.80" fill="#12b04a" stroke="none" stroke-width="1" />
<text x="251.50" y="643.30" font-size="12" text-anchor="start" fill="#000" textLength="31.2" lengthAdjust="spacingAndGlyphs" >stEVs</text>
<rect x="296.40" y="634.00" width="12.60" height="11.80" fill="#ee1c1c" stroke="none" stroke-width="1" />
<text x="313.00" y="643.30" font-size="12" text-anchor="start" fill="#000" textLength="65.4" lengthAdjust="spacingAndGlyphs" >normal IgG</text>
<text x="421.60" y="644.10" font-size="12" text-anchor="start" fill="#000" textLength="29.3" lengthAdjust="spacingAndGlyphs" >CD64</text>
<text x="451.40" y="638.30" font-size="7.5" text-anchor="start" fill="#000" font-style="italic" textLength="9.0" lengthAdjust="spacingAndGlyphs" >CK</text>
<text x="463.00" y="644.10" font-size="12" text-anchor="start" fill="#000" textLength="55.5" lengthAdjust="spacingAndGlyphs" >+ αROR1:</text>
<rect x="525.60" y="634.60" width="11.70" height="11.80" fill="#12b04a" stroke="none" stroke-width="1" />
<text x="541.50" y="644.10" font-size="12" text-anchor="start" fill="#000" textLength="33.2" lengthAdjust="spacingAndGlyphs" >dtEVs</text>
<rect x="586.40" y="634.60" width="11.60" height="11.80" fill="#ee1c1c" stroke="none" stroke-width="1" />
<text x="603.00" y="644.10" font-size="12" text-anchor="start" fill="#000" textLength="65.4" lengthAdjust="spacingAndGlyphs" >αROR1_IgG</text>
<line x1="164.39" y1="557.33" x2="205.29" y2="594.33" stroke="#1e1e1e" stroke-width="0.35" />
<line x1="171.27" y1="555.26" x2="212.17" y2="592.26" stroke="#1e1e1e" stroke-width="0.35" />
<line x1="178.16" y1="553.19" x2="219.06" y2="590.19" stroke="#1e1e1e" stroke-width="0.35" />
<line x1="185.04" y1="551.11" x2="225.94" y2="588.11" stroke="#1e1e1e" stroke-width="0.35" />
<line x1="191.93" y1="549.04" x2="232.83" y2="586.04" stroke="#1e1e1e" stroke-width="0.35" />
<line x1="198.81" y1="546.97" x2="239.71" y2="583.97" stroke="#1e1e1e" stroke-width="0.35" />
<line x1="163.34" y1="564.69" x2="211.54" y2="550.19" stroke="#1e1e1e" stroke-width="0.35" />
<line x1="169.19" y1="569.97" x2="217.39" y2="555.47" stroke="#1e1e1e" stroke-width="0.35" />
<line x1="175.03" y1="575.26" x2="223.23" y2="560.76" stroke="#1e1e1e" stroke-width="0.35" />
<line x1="180.87" y1="580.54" x2="229.07" y2="566.04" stroke="#1e1e1e" stroke-width="0.35" />
<line x1="186.71" y1="585.83" x2="234.91" y2="571.33" stroke="#1e1e1e" stroke-width="0.35" />
<line x1="192.56" y1="591.11" x2="240.76" y2="576.61" stroke="#1e1e1e" stroke-width="0.35" />
<line x1="159.49" y1="522.83" x2="164.39" y2="557.33" stroke="#1e1e1e" stroke-width="0.35" />
<line x1="166.37" y1="520.76" x2="171.27" y2="555.26" stroke="#1e1e1e" stroke-width="0.35" />
<line x1="173.26" y1="518.69" x2="178.16" y2="553.19" stroke="#1e1e1e" stroke-width="0.35" />
<line x1="180.14" y1="516.61" x2="185.04" y2="551.11" stroke="#1e1e1e" stroke-width="0.35" />
<line x1="187.03" y1="514.54" x2="191.93" y2="549.04" stroke="#1e1e1e" stroke-width="0.35" />
<line x1="193.91" y1="512.47" x2="198.81" y2="546.97" stroke="#1e1e1e" stroke-width="0.35" />
<line x1="153.58" y1="531.80" x2="201.78" y2="517.30" stroke="#1e1e1e" stroke-width="0.35" />
<line x1="154.56" y1="538.70" x2="202.76" y2="524.20" stroke="#1e1e1e" stroke-width="0.35" />
<line x1="155.54" y1="545.60" x2="203.74" y2="531.10" stroke="#1e1e1e" stroke-width="0.35" />
<line x1="156.52" y1="552.50" x2="204.72" y2="538.00" stroke="#1e1e1e" stroke-width="0.35" />
<line x1="207.80" y1="513.39" x2="212.70" y2="547.89" stroke="#1e1e1e" stroke-width="0.35" />
<line x1="214.80" y1="516.37" x2="219.70" y2="550.87" stroke="#1e1e1e" stroke-width="0.35" />
<line x1="221.80" y1="519.36" x2="226.70" y2="553.86" stroke="#1e1e1e" stroke-width="0.35" />
<line x1="228.80" y1="522.34" x2="233.70" y2="556.84" stroke="#1e1e1e" stroke-width="0.35" />
<line x1="235.80" y1="525.33" x2="240.70" y2="559.83" stroke="#1e1e1e" stroke-width="0.35" />
<line x1="242.80" y1="528.31" x2="247.70" y2="562.81" stroke="#1e1e1e" stroke-width="0.35" />
<line x1="201.78" y1="517.30" x2="250.78" y2="538.20" stroke="#1e1e1e" stroke-width="0.35" />
<line x1="202.76" y1="524.20" x2="251.76" y2="545.10" stroke="#1e1e1e" stroke-width="0.35" />
<line x1="203.74" y1="531.10" x2="252.74" y2="552.00" stroke="#1e1e1e" stroke-width="0.35" />
<line x1="204.72" y1="538.00" x2="253.72" y2="558.90" stroke="#1e1e1e" stroke-width="0.35" />
<polyline points="157.5,559.4 205.7,544.9 245.8,563.4" fill="none" stroke="#8c8c8c" stroke-width="0.4" opacity="0.7"/>
<polyline points="200.8,510.4 205.7,544.9" fill="none" stroke="#8c8c8c" stroke-width="0.4" opacity="0.7"/>
<polyline points="152.6,524.9 200.8,510.4 249.8,531.3 199.2,553.0 152.6,524.9" fill="none" stroke="#8c8c8c" stroke-width="0.5" opacity="1"/>
<polyline points="152.6,524.9 157.5,559.4 198.4,596.4 245.8,563.4 249.8,531.3" fill="none" stroke="#8c8c8c" stroke-width="0.5" opacity="1"/>
<polyline points="199.2,553.0 198.4,596.4" fill="none" stroke="#8c8c8c" stroke-width="0.5" opacity="1"/>
<path d="M164.70 543.40 C164.57 541.12 165.23 538.65 166.30 536.90 C167.37 535.15 168.83 534.10 171.10 532.90 C173.37 531.70 176.55 530.42 179.90 529.70 C183.25 528.98 187.45 528.73 191.20 528.60 C194.95 528.47 198.92 528.45 202.40 528.90 C205.88 529.35 209.15 530.23 212.10 531.30 C215.05 532.37 218.10 533.55 220.10 535.30 C222.10 537.05 223.43 539.38 224.10 541.80 C224.77 544.22 224.37 547.40 224.10 549.80 C223.83 552.20 222.23 553.80 222.50 556.20 C222.77 558.60 225.43 561.78 225.70 564.20 C225.97 566.62 225.57 569.03 224.10 570.70 C222.63 572.37 219.18 574.20 216.90 574.20 C214.62 574.20 212.55 571.83 210.40 570.70 C208.25 569.57 206.13 567.67 204.00 567.40 C201.87 567.13 200.00 569.23 197.60 569.10 C195.20 568.97 192.28 567.68 189.60 566.60 C186.92 565.52 184.18 564.22 181.50 562.60 C178.82 560.98 175.90 558.90 173.50 556.90 C171.10 554.90 168.57 552.85 167.10 550.60 C165.63 548.35 164.83 545.68 164.70 543.40 Z" fill="url(#lnpB)" filter="url(#blur05)" />
<path d="M164.70 543.40 C164.57 541.12 165.23 538.65 166.30 536.90 C167.37 535.15 168.83 534.10 171.10 532.90 C173.37 531.70 176.55 530.42 179.90 529.70 C183.25 528.98 187.45 528.73 191.20 528.60 C194.95 528.47 198.92 528.45 202.40 528.90 C205.88 529.35 209.15 530.23 212.10 531.30 C215.05 532.37 218.10 533.55 220.10 535.30 C222.10 537.05 223.43 539.38 224.10 541.80 C224.77 544.22 224.37 547.40 224.10 549.80 C223.83 552.20 222.23 553.80 222.50 556.20 C222.77 558.60 225.43 561.78 225.70 564.20 C225.97 566.62 225.57 569.03 224.10 570.70 C222.63 572.37 219.18 574.20 216.90 574.20 C214.62 574.20 212.55 571.83 210.40 570.70 C208.25 569.57 206.13 567.67 204.00 567.40 C201.87 567.13 200.00 569.23 197.60 569.10 C195.20 568.97 192.28 567.68 189.60 566.60 C186.92 565.52 184.18 564.22 181.50 562.60 C178.82 560.98 175.90 558.90 173.50 556.90 C171.10 554.90 168.57 552.85 167.10 550.60 C165.63 548.35 164.83 545.68 164.70 543.40 Z" fill="#fff" filter="url(#nzP)" opacity="0.3"/>
<path d="M164.70 543.40 C164.57 541.12 165.23 538.65 166.30 536.90 C167.37 535.15 168.83 534.10 171.10 532.90 C173.37 531.70 176.55 530.42 179.90 529.70 C183.25 528.98 187.45 528.73 191.20 528.60 C194.95 528.47 198.92 528.45 202.40 528.90 C205.88 529.35 209.15 530.23 212.10 531.30 C215.05 532.37 218.10 533.55 220.10 535.30 C222.10 537.05 223.43 539.38 224.10 541.80 C224.77 544.22 224.37 547.40 224.10 549.80 C223.83 552.20 222.23 553.80 222.50 556.20 C222.77 558.60 225.43 561.78 225.70 564.20 C225.97 566.62 225.57 569.03 224.10 570.70 C222.63 572.37 219.18 574.20 216.90 574.20 C214.62 574.20 212.55 571.83 210.40 570.70 C208.25 569.57 206.13 567.67 204.00 567.40 C201.87 567.13 200.00 569.23 197.60 569.10 C195.20 568.97 192.28 567.68 189.60 566.60 C186.92 565.52 184.18 564.22 181.50 562.60 C178.82 560.98 175.90 558.90 173.50 556.90 C171.10 554.90 168.57 552.85 167.10 550.60 C165.63 548.35 164.83 545.68 164.70 543.40 Z" fill="#fff" filter="url(#nzK)" opacity="0.25"/>
<ellipse cx="186" cy="566" rx="3.5" ry="1.6" fill="#000" opacity="0.85" filter="url(#blur05)"/>
<ellipse cx="203" cy="567.5" rx="3.2" ry="1.4" fill="#000" opacity="0.85" filter="url(#blur05)"/>
<ellipse cx="177" cy="560.5" rx="2.6" ry="1.2" fill="#000" opacity="0.85" filter="url(#blur05)"/>
<circle cx="176.00" cy="535.00" r="0.70" fill="#f4f0ff" stroke="none" stroke-width="1" opacity="0.9"/>
<circle cx="189.00" cy="531.00" r="0.70" fill="#f4f0ff" stroke="none" stroke-width="1" opacity="0.9"/>
<circle cx="209.00" cy="537.00" r="0.70" fill="#f4f0ff" stroke="none" stroke-width="1" opacity="0.9"/>
<circle cx="197.00" cy="550.00" r="0.70" fill="#f4f0ff" stroke="none" stroke-width="1" opacity="0.9"/>
<circle cx="213.00" cy="551.00" r="0.70" fill="#f4f0ff" stroke="none" stroke-width="1" opacity="0.9"/>
<circle cx="216.00" cy="558.00" r="0.70" fill="#f4f0ff" stroke="none" stroke-width="1" opacity="0.9"/>
<circle cx="184.00" cy="541.00" r="0.70" fill="#f4f0ff" stroke="none" stroke-width="1" opacity="0.9"/>
<circle cx="203.00" cy="544.00" r="0.70" fill="#f4f0ff" stroke="none" stroke-width="1" opacity="0.9"/>
<circle cx="170.00" cy="546.00" r="0.70" fill="#f4f0ff" stroke="none" stroke-width="1" opacity="0.9"/>
<line x1="147.00" y1="606.80" x2="156.60" y2="606.80" stroke="#e8e8e8" stroke-width="0.9" />
<polyline points="199.2,553.0 198.4,596.4" fill="none" stroke="#a0a0a0" stroke-width="0.5" opacity="0.8"/>
<polyline points="152.6,524.9 199.2,553.0 249.8,531.3" fill="none" stroke="#a0a0a0" stroke-width="0.5" opacity="0.8"/>
<line x1="261.62" y1="527.08" x2="283.72" y2="547.08" stroke="#1e1e1e" stroke-width="0.35" />
<line x1="266.64" y1="525.46" x2="288.74" y2="545.46" stroke="#1e1e1e" stroke-width="0.35" />
<line x1="271.66" y1="523.84" x2="293.76" y2="543.84" stroke="#1e1e1e" stroke-width="0.35" />
<line x1="276.68" y1="522.22" x2="298.78" y2="542.22" stroke="#1e1e1e" stroke-width="0.35" />
<line x1="261.02" y1="532.70" x2="286.12" y2="524.60" stroke="#1e1e1e" stroke-width="0.35" />
<line x1="265.44" y1="536.70" x2="290.54" y2="528.60" stroke="#1e1e1e" stroke-width="0.35" />
<line x1="269.86" y1="540.70" x2="294.96" y2="532.60" stroke="#1e1e1e" stroke-width="0.35" />
<line x1="274.28" y1="544.70" x2="299.38" y2="536.60" stroke="#1e1e1e" stroke-width="0.35" />
<line x1="260.92" y1="511.68" x2="261.62" y2="527.08" stroke="#1e1e1e" stroke-width="0.35" />
<line x1="265.94" y1="510.06" x2="266.64" y2="525.46" stroke="#1e1e1e" stroke-width="0.35" />
<line x1="270.96" y1="508.44" x2="271.66" y2="523.84" stroke="#1e1e1e" stroke-width="0.35" />
<line x1="275.98" y1="506.82" x2="276.68" y2="522.22" stroke="#1e1e1e" stroke-width="0.35" />
<line x1="256.04" y1="516.38" x2="281.14" y2="508.28" stroke="#1e1e1e" stroke-width="0.35" />
<line x1="256.18" y1="519.46" x2="281.28" y2="511.36" stroke="#1e1e1e" stroke-width="0.35" />
<line x1="256.32" y1="522.54" x2="281.42" y2="514.44" stroke="#1e1e1e" stroke-width="0.35" />
<line x1="256.46" y1="525.62" x2="281.56" y2="517.52" stroke="#1e1e1e" stroke-width="0.35" />
<line x1="285.86" y1="507.56" x2="286.56" y2="522.96" stroke="#1e1e1e" stroke-width="0.35" />
<line x1="290.72" y1="509.92" x2="291.42" y2="525.32" stroke="#1e1e1e" stroke-width="0.35" />
<line x1="295.58" y1="512.28" x2="296.28" y2="527.68" stroke="#1e1e1e" stroke-width="0.35" />
<line x1="300.44" y1="514.64" x2="301.14" y2="530.04" stroke="#1e1e1e" stroke-width="0.35" />
<line x1="281.14" y1="508.28" x2="305.44" y2="520.08" stroke="#1e1e1e" stroke-width="0.35" />
<line x1="281.28" y1="511.36" x2="305.58" y2="523.16" stroke="#1e1e1e" stroke-width="0.35" />
<line x1="281.42" y1="514.44" x2="305.72" y2="526.24" stroke="#1e1e1e" stroke-width="0.35" />
<line x1="281.56" y1="517.52" x2="305.86" y2="529.32" stroke="#1e1e1e" stroke-width="0.35" />
<polyline points="256.6,528.7 281.7,520.6 305.3,531.7" fill="none" stroke="#8a8a8a" stroke-width="0.36000000000000004" opacity="0.7"/>
<polyline points="281.0,505.2 281.7,520.6" fill="none" stroke="#8a8a8a" stroke-width="0.36000000000000004" opacity="0.7"/>
<polyline points="255.9,513.3 281.0,505.2 305.3,517.0 278.7,525.0 255.9,513.3" fill="none" stroke="#8a8a8a" stroke-width="0.45" opacity="1"/>
<polyline points="255.9,513.3 256.6,528.7 278.7,548.7 305.3,531.7 305.3,517.0" fill="none" stroke="#8a8a8a" stroke-width="0.45" opacity="1"/>
<polyline points="278.7,525.0 278.7,548.7" fill="none" stroke="#8a8a8a" stroke-width="0.45" opacity="1"/>
<path d="M289.70 523.00 C289.84 523.96 289.97 525.09 289.26 526.01 C288.55 526.93 286.82 527.68 285.45 528.50 C284.08 529.32 282.76 530.51 281.05 530.91 C279.35 531.31 277.10 530.97 275.21 530.90 C273.32 530.83 271.40 530.85 269.73 530.49 C268.06 530.13 266.04 529.55 265.19 528.74 C264.33 527.93 264.71 526.68 264.58 525.64 C264.46 524.59 263.82 523.45 264.45 522.46 C265.08 521.47 266.82 520.45 268.36 519.70 C269.91 518.95 271.84 518.37 273.70 517.96 C275.56 517.56 277.66 517.24 279.53 517.26 C281.40 517.28 283.43 517.59 284.91 518.08 C286.38 518.58 287.59 519.42 288.39 520.23 C289.18 521.05 289.55 522.03 289.70 523.00 Z" fill="#021202" stroke="#0e700e" stroke-width="1.1" filter="url(#blur05)"/>
<path d="M289.70 523.00 C289.84 523.96 289.97 525.09 289.26 526.01 C288.55 526.93 286.82 527.68 285.45 528.50 C284.08 529.32 282.76 530.51 281.05 530.91 C279.35 531.31 277.10 530.97 275.21 530.90 C273.32 530.83 271.40 530.85 269.73 530.49 C268.06 530.13 266.04 529.55 265.19 528.74 C264.33 527.93 264.71 526.68 264.58 525.64 C264.46 524.59 263.82 523.45 264.45 522.46 C265.08 521.47 266.82 520.45 268.36 519.70 C269.91 518.95 271.84 518.37 273.70 517.96 C275.56 517.56 277.66 517.24 279.53 517.26 C281.40 517.28 283.43 517.59 284.91 518.08 C286.38 518.58 287.59 519.42 288.39 520.23 C289.18 521.05 289.55 522.03 289.70 523.00 Z" fill="#fff" filter="url(#nzG)" opacity="0.35"/>
<path d="M264.5 526 Q270 533 280 532 Q288 531 290 525" fill="none" stroke="#20b020" stroke-width="1.6" filter="url(#blur05)"/>
<line x1="252.20" y1="555.70" x2="306.00" y2="555.70" stroke="#6a6a6a" stroke-width="0.9" />
<line x1="253.70" y1="554.00" x2="258.10" y2="554.00" stroke="#e8e8e8" stroke-width="0.9" />
<line x1="261.62" y1="581.58" x2="283.72" y2="601.58" stroke="#1e1e1e" stroke-width="0.35" />
<line x1="266.64" y1="579.96" x2="288.74" y2="599.96" stroke="#1e1e1e" stroke-width="0.35" />
<line x1="271.66" y1="578.34" x2="293.76" y2="598.34" stroke="#1e1e1e" stroke-width="0.35" />
<line x1="276.68" y1="576.72" x2="298.78" y2="596.72" stroke="#1e1e1e" stroke-width="0.35" />
<line x1="261.02" y1="587.20" x2="286.12" y2="579.10" stroke="#1e1e1e" stroke-width="0.35" />
<line x1="265.44" y1="591.20" x2="290.54" y2="583.10" stroke="#1e1e1e" stroke-width="0.35" />
<line x1="269.86" y1="595.20" x2="294.96" y2="587.10" stroke="#1e1e1e" stroke-width="0.35" />
<line x1="274.28" y1="599.20" x2="299.38" y2="591.10" stroke="#1e1e1e" stroke-width="0.35" />
<line x1="260.92" y1="566.18" x2="261.62" y2="581.58" stroke="#1e1e1e" stroke-width="0.35" />
<line x1="265.94" y1="564.56" x2="266.64" y2="579.96" stroke="#1e1e1e" stroke-width="0.35" />
<line x1="270.96" y1="562.94" x2="271.66" y2="578.34" stroke="#1e1e1e" stroke-width="0.35" />
<line x1="275.98" y1="561.32" x2="276.68" y2="576.72" stroke="#1e1e1e" stroke-width="0.35" />
<line x1="256.04" y1="570.88" x2="281.14" y2="562.78" stroke="#1e1e1e" stroke-width="0.35" />
<line x1="256.18" y1="573.96" x2="281.28" y2="565.86" stroke="#1e1e1e" stroke-width="0.35" />
<line x1="256.32" y1="577.04" x2="281.42" y2="568.94" stroke="#1e1e1e" stroke-width="0.35" />
<line x1="256.46" y1="580.12" x2="281.56" y2="572.02" stroke="#1e1e1e" stroke-width="0.35" />
<line x1="285.86" y1="562.06" x2="286.56" y2="577.46" stroke="#1e1e1e" stroke-width="0.35" />
<line x1="290.72" y1="564.42" x2="291.42" y2="579.82" stroke="#1e1e1e" stroke-width="0.35" />
<line x1="295.58" y1="566.78" x2="296.28" y2="582.18" stroke="#1e1e1e" stroke-width="0.35" />
<line x1="300.44" y1="569.14" x2="301.14" y2="584.54" stroke="#1e1e1e" stroke-width="0.35" />
<line x1="281.14" y1="562.78" x2="305.44" y2="574.58" stroke="#1e1e1e" stroke-width="0.35" />
<line x1="281.28" y1="565.86" x2="305.58" y2="577.66" stroke="#1e1e1e" stroke-width="0.35" />
<line x1="281.42" y1="568.94" x2="305.72" y2="580.74" stroke="#1e1e1e" stroke-width="0.35" />
<line x1="281.56" y1="572.02" x2="305.86" y2="583.82" stroke="#1e1e1e" stroke-width="0.35" />
<polyline points="256.6,583.2 281.7,575.1 305.3,586.2" fill="none" stroke="#8a8a8a" stroke-width="0.36000000000000004" opacity="0.7"/>
<polyline points="281.0,559.7 281.7,575.1" fill="none" stroke="#8a8a8a" stroke-width="0.36000000000000004" opacity="0.7"/>
<polyline points="255.9,567.8 281.0,559.7 305.3,571.5 278.7,579.5 255.9,567.8" fill="none" stroke="#8a8a8a" stroke-width="0.45" opacity="1"/>
<polyline points="255.9,567.8 256.6,583.2 278.7,603.2 305.3,586.2 305.3,571.5" fill="none" stroke="#8a8a8a" stroke-width="0.45" opacity="1"/>
<polyline points="278.7,579.5 278.7,603.2" fill="none" stroke="#8a8a8a" stroke-width="0.45" opacity="1"/>
<path d="M291.22 576.64 C291.32 577.57 289.24 578.73 288.41 579.77 C287.58 580.81 287.50 582.06 286.24 582.86 C284.99 583.66 282.76 584.10 280.88 584.57 C279.00 585.04 276.81 585.74 274.98 585.69 C273.16 585.65 271.55 584.81 269.92 584.30 C268.29 583.79 266.02 583.45 265.21 582.63 C264.40 581.81 265.21 580.46 265.08 579.38 C264.94 578.31 263.77 577.13 264.39 576.16 C265.01 575.19 267.20 574.27 268.79 573.57 C270.37 572.87 272.12 572.34 273.89 571.94 C275.66 571.55 277.57 571.23 279.41 571.19 C281.25 571.14 283.55 571.18 284.95 571.68 C286.34 572.18 286.74 573.35 287.79 574.17 C288.83 575.00 291.11 575.70 291.22 576.64 Z" fill="#380404" stroke="#6a0808" stroke-width="1.2" filter="url(#blur1)"/>
<path d="M291.22 576.64 C291.32 577.57 289.24 578.73 288.41 579.77 C287.58 580.81 287.50 582.06 286.24 582.86 C284.99 583.66 282.76 584.10 280.88 584.57 C279.00 585.04 276.81 585.74 274.98 585.69 C273.16 585.65 271.55 584.81 269.92 584.30 C268.29 583.79 266.02 583.45 265.21 582.63 C264.40 581.81 265.21 580.46 265.08 579.38 C264.94 578.31 263.77 577.13 264.39 576.16 C265.01 575.19 267.20 574.27 268.79 573.57 C270.37 572.87 272.12 572.34 273.89 571.94 C275.66 571.55 277.57 571.23 279.41 571.19 C281.25 571.14 283.55 571.18 284.95 571.68 C286.34 572.18 286.74 573.35 287.79 574.17 C288.83 575.00 291.11 575.70 291.22 576.64 Z" fill="#fff" filter="url(#nzR)" opacity="0.3"/>
<line x1="253.70" y1="608.00" x2="258.10" y2="608.00" stroke="#e8e8e8" stroke-width="0.9" />
<path d="M400.34 551.00 C400.53 555.36 399.73 560.12 398.24 564.25 C396.76 568.38 394.19 572.37 391.40 575.79 C388.62 579.20 385.21 582.34 381.55 584.73 C377.89 587.12 373.64 588.66 369.45 590.13 C365.25 591.60 360.80 593.39 356.40 593.54 C352.00 593.70 347.34 592.40 343.04 591.07 C338.74 589.75 334.19 588.16 330.62 585.58 C327.04 583.01 324.25 579.21 321.59 575.65 C318.93 572.09 316.00 568.32 314.66 564.22 C313.33 560.11 313.60 555.41 313.59 551.00 C313.58 546.59 313.37 541.94 314.60 537.76 C315.83 533.58 318.22 529.37 320.97 525.91 C323.71 522.45 327.39 519.53 331.06 517.01 C334.73 514.49 338.77 512.22 342.99 510.79 C347.22 509.36 351.97 508.30 356.40 508.42 C360.83 508.53 365.32 510.09 369.58 511.48 C373.83 512.87 378.19 514.38 381.92 516.77 C385.65 519.16 389.44 522.26 391.96 525.82 C394.49 529.37 395.70 533.92 397.10 538.11 C398.49 542.31 400.14 546.64 400.34 551.00 Z" fill="url(#dimY)" filter="url(#blur05)" />
<path d="M400.34 551.00 C400.53 555.36 399.73 560.12 398.24 564.25 C396.76 568.38 394.19 572.37 391.40 575.79 C388.62 579.20 385.21 582.34 381.55 584.73 C377.89 587.12 373.64 588.66 369.45 590.13 C365.25 591.60 360.80 593.39 356.40 593.54 C352.00 593.70 347.34 592.40 343.04 591.07 C338.74 589.75 334.19 588.16 330.62 585.58 C327.04 583.01 324.25 579.21 321.59 575.65 C318.93 572.09 316.00 568.32 314.66 564.22 C313.33 560.11 313.60 555.41 313.59 551.00 C313.58 546.59 313.37 541.94 314.60 537.76 C315.83 533.58 318.22 529.37 320.97 525.91 C323.71 522.45 327.39 519.53 331.06 517.01 C334.73 514.49 338.77 512.22 342.99 510.79 C347.22 509.36 351.97 508.30 356.40 508.42 C360.83 508.53 365.32 510.09 369.58 511.48 C373.83 512.87 378.19 514.38 381.92 516.77 C385.65 519.16 389.44 522.26 391.96 525.82 C394.49 529.37 395.70 533.92 397.10 538.11 C398.49 542.31 400.14 546.64 400.34 551.00 Z" fill="#fff" filter="url(#nzK)" opacity="0.35"/>
<g mask="url(#rimMask)"><path d="M400.34 551.00 C400.53 555.36 399.73 560.12 398.24 564.25 C396.76 568.38 394.19 572.37 391.40 575.79 C388.62 579.20 385.21 582.34 381.55 584.73 C377.89 587.12 373.64 588.66 369.45 590.13 C365.25 591.60 360.80 593.39 356.40 593.54 C352.00 593.70 347.34 592.40 343.04 591.07 C338.74 589.75 334.19 588.16 330.62 585.58 C327.04 583.01 324.25 579.21 321.59 575.65 C318.93 572.09 316.00 568.32 314.66 564.22 C313.33 560.11 313.60 555.41 313.59 551.00 C313.58 546.59 313.37 541.94 314.60 537.76 C315.83 533.58 318.22 529.37 320.97 525.91 C323.71 522.45 327.39 519.53 331.06 517.01 C334.73 514.49 338.77 512.22 342.99 510.79 C347.22 509.36 351.97 508.30 356.40 508.42 C360.83 508.53 365.32 510.09 369.58 511.48 C373.83 512.87 378.19 514.38 381.92 516.77 C385.65 519.16 389.44 522.26 391.96 525.82 C394.49 529.37 395.70 533.92 397.10 538.11 C398.49 542.31 400.14 546.64 400.34 551.00 Z" fill="#fff" filter="url(#nzYG)" opacity="0.22"/></g>
<circle cx="333.00" cy="579.00" r="1.00" fill="#6ae62a" stroke="none" stroke-width="1" opacity="0.9"/>
<circle cx="339.00" cy="583.50" r="1.00" fill="#6ae62a" stroke="none" stroke-width="1" opacity="0.9"/>
<circle cx="388.50" cy="538.50" r="1.00" fill="#6ae62a" stroke="none" stroke-width="1" opacity="0.9"/>
<circle cx="373.00" cy="521.00" r="1.00" fill="#6ae62a" stroke="none" stroke-width="1" opacity="0.9"/>
<line x1="308.20" y1="606.80" x2="325.10" y2="606.80" stroke="#e8e8e8" stroke-width="0.9" />
<line x1="434.53" y1="562.29" x2="483.43" y2="597.69" stroke="#1e1e1e" stroke-width="0.35" />
<line x1="439.95" y1="558.77" x2="488.85" y2="594.17" stroke="#1e1e1e" stroke-width="0.35" />
<line x1="445.38" y1="555.26" x2="494.27" y2="590.66" stroke="#1e1e1e" stroke-width="0.35" />
<line x1="450.80" y1="551.75" x2="499.70" y2="587.15" stroke="#1e1e1e" stroke-width="0.35" />
<line x1="456.23" y1="548.24" x2="505.12" y2="583.64" stroke="#1e1e1e" stroke-width="0.35" />
<line x1="461.65" y1="544.72" x2="510.55" y2="580.12" stroke="#1e1e1e" stroke-width="0.35" />
<line x1="467.07" y1="541.21" x2="515.98" y2="576.61" stroke="#1e1e1e" stroke-width="0.35" />
<line x1="435.21" y1="570.22" x2="478.61" y2="542.12" stroke="#1e1e1e" stroke-width="0.35" />
<line x1="441.33" y1="574.65" x2="484.73" y2="546.55" stroke="#1e1e1e" stroke-width="0.35" />
<line x1="447.44" y1="579.08" x2="490.84" y2="550.98" stroke="#1e1e1e" stroke-width="0.35" />
<line x1="453.55" y1="583.50" x2="496.95" y2="555.40" stroke="#1e1e1e" stroke-width="0.35" />
<line x1="459.66" y1="587.92" x2="503.06" y2="559.83" stroke="#1e1e1e" stroke-width="0.35" />
<line x1="465.77" y1="592.35" x2="509.17" y2="564.25" stroke="#1e1e1e" stroke-width="0.35" />
<line x1="471.89" y1="596.78" x2="515.29" y2="568.67" stroke="#1e1e1e" stroke-width="0.35" />
<line x1="426.43" y1="539.89" x2="434.53" y2="562.29" stroke="#1e1e1e" stroke-width="0.35" />
<line x1="431.85" y1="536.38" x2="439.95" y2="558.77" stroke="#1e1e1e" stroke-width="0.35" />
<line x1="437.27" y1="532.86" x2="445.38" y2="555.26" stroke="#1e1e1e" stroke-width="0.35" />
<line x1="442.70" y1="529.35" x2="450.80" y2="551.75" stroke="#1e1e1e" stroke-width="0.35" />
<line x1="448.12" y1="525.84" x2="456.23" y2="548.24" stroke="#1e1e1e" stroke-width="0.35" />
<line x1="453.55" y1="522.32" x2="461.65" y2="544.73" stroke="#1e1e1e" stroke-width="0.35" />
<line x1="458.97" y1="518.81" x2="467.08" y2="541.21" stroke="#1e1e1e" stroke-width="0.35" />
<line x1="422.62" y1="547.88" x2="466.02" y2="519.78" stroke="#1e1e1e" stroke-width="0.35" />
<line x1="424.24" y1="552.36" x2="467.64" y2="524.26" stroke="#1e1e1e" stroke-width="0.35" />
<line x1="425.86" y1="556.84" x2="469.26" y2="528.74" stroke="#1e1e1e" stroke-width="0.35" />
<line x1="427.48" y1="561.32" x2="470.88" y2="533.22" stroke="#1e1e1e" stroke-width="0.35" />
<line x1="471.02" y1="517.80" x2="479.12" y2="540.20" stroke="#1e1e1e" stroke-width="0.35" />
<line x1="477.65" y1="520.30" x2="485.75" y2="542.70" stroke="#1e1e1e" stroke-width="0.35" />
<line x1="484.27" y1="522.80" x2="492.38" y2="545.20" stroke="#1e1e1e" stroke-width="0.35" />
<line x1="490.90" y1="525.30" x2="499.00" y2="547.70" stroke="#1e1e1e" stroke-width="0.35" />
<line x1="497.52" y1="527.80" x2="505.62" y2="550.20" stroke="#1e1e1e" stroke-width="0.35" />
<line x1="504.15" y1="530.30" x2="512.25" y2="552.70" stroke="#1e1e1e" stroke-width="0.35" />
<line x1="510.77" y1="532.80" x2="518.88" y2="555.20" stroke="#1e1e1e" stroke-width="0.35" />
<line x1="466.02" y1="519.78" x2="519.02" y2="539.78" stroke="#1e1e1e" stroke-width="0.35" />
<line x1="467.64" y1="524.26" x2="520.64" y2="544.26" stroke="#1e1e1e" stroke-width="0.35" />
<line x1="469.26" y1="528.74" x2="522.26" y2="548.74" stroke="#1e1e1e" stroke-width="0.35" />
<line x1="470.88" y1="533.22" x2="523.88" y2="553.22" stroke="#1e1e1e" stroke-width="0.35" />
<polyline points="429.1,565.8 472.5,537.7 512.6,564.2" fill="none" stroke="#8c8c8c" stroke-width="0.4" opacity="0.7"/>
<polyline points="464.4,515.3 472.5,537.7" fill="none" stroke="#8c8c8c" stroke-width="0.4" opacity="0.7"/>
<polyline points="421.0,543.4 464.4,515.3 517.4,535.3 474.0,563.0 421.0,543.4" fill="none" stroke="#8c8c8c" stroke-width="0.5" opacity="1"/>
<polyline points="421.0,543.4 429.1,565.8 478.0,601.2 512.6,564.2 517.4,535.3" fill="none" stroke="#8c8c8c" stroke-width="0.5" opacity="1"/>
<polyline points="474.0,563.0 478.0,601.2" fill="none" stroke="#8c8c8c" stroke-width="0.5" opacity="1"/>
<path d="M458.00 523.00 C457.67 520.25 461.67 516.17 464.00 515.50 C466.33 514.83 469.50 517.08 472.00 519.00 C474.50 520.92 478.33 524.67 479.00 527.00 C479.67 529.33 478.17 532.17 476.00 533.00 C473.83 533.83 469.00 533.67 466.00 532.00 C463.00 530.33 458.33 525.75 458.00 523.00 Z" fill="#4c5a40" filter="url(#blur05)" />
<path d="M458.00 523.00 C457.67 520.25 461.67 516.17 464.00 515.50 C466.33 514.83 469.50 517.08 472.00 519.00 C474.50 520.92 478.33 524.67 479.00 527.00 C479.67 529.33 478.17 532.17 476.00 533.00 C473.83 533.83 469.00 533.67 466.00 532.00 C463.00 530.33 458.33 525.75 458.00 523.00 Z" fill="#fff" filter="url(#nzP)" opacity="0.4"/>
<path d="M458.00 523.00 C457.67 520.25 461.67 516.17 464.00 515.50 C466.33 514.83 469.50 517.08 472.00 519.00 C474.50 520.92 478.33 524.67 479.00 527.00 C479.67 529.33 478.17 532.17 476.00 533.00 C473.83 533.83 469.00 533.67 466.00 532.00 C463.00 530.33 458.33 525.75 458.00 523.00 Z" fill="#fff" filter="url(#nzYG)" opacity="0.3"/>
<path d="M458 523 Q461 517 464 515.5 Q470 516 474 521" fill="none" stroke="#a8c048" stroke-width="1" opacity="0.8"/>
<path d="M499.00 542.00 C499.67 541.17 503.58 540.50 506.00 540.50 C508.42 540.50 512.83 541.17 513.50 542.00 C514.17 542.83 511.92 544.92 510.00 545.50 C508.08 546.08 503.83 546.08 502.00 545.50 C500.17 544.92 498.33 542.83 499.00 542.00 Z" fill="#b0b040" filter="url(#blur05)" />
<path d="M444.80 551.60 C444.48 546.97 445.48 542.67 446.80 539.70 C448.12 536.73 449.73 535.12 452.70 533.80 C455.67 532.48 459.97 531.80 464.60 531.80 C469.23 531.80 475.53 532.82 480.50 533.80 C485.47 534.78 490.43 536.05 494.40 537.70 C498.37 539.35 501.85 541.38 504.30 543.70 C506.75 546.02 508.57 548.62 509.10 551.60 C509.63 554.58 508.95 558.42 507.50 561.60 C506.05 564.78 503.57 568.25 500.40 570.70 C497.23 573.15 493.13 575.18 488.50 576.30 C483.87 577.42 477.57 577.67 472.60 577.40 C467.63 577.13 462.68 576.35 458.70 574.70 C454.72 573.05 451.02 571.35 448.70 567.50 C446.38 563.65 445.12 556.23 444.80 551.60 Z" fill="url(#pinkB)" filter="url(#blur05)" />
<path d="M444.80 551.60 C444.48 546.97 445.48 542.67 446.80 539.70 C448.12 536.73 449.73 535.12 452.70 533.80 C455.67 532.48 459.97 531.80 464.60 531.80 C469.23 531.80 475.53 532.82 480.50 533.80 C485.47 534.78 490.43 536.05 494.40 537.70 C498.37 539.35 501.85 541.38 504.30 543.70 C506.75 546.02 508.57 548.62 509.10 551.60 C509.63 554.58 508.95 558.42 507.50 561.60 C506.05 564.78 503.57 568.25 500.40 570.70 C497.23 573.15 493.13 575.18 488.50 576.30 C483.87 577.42 477.57 577.67 472.60 577.40 C467.63 577.13 462.68 576.35 458.70 574.70 C454.72 573.05 451.02 571.35 448.70 567.50 C446.38 563.65 445.12 556.23 444.80 551.60 Z" fill="#fff" filter="url(#nzW)" opacity="0.35"/>
<path d="M444.80 551.60 C444.48 546.97 445.48 542.67 446.80 539.70 C448.12 536.73 449.73 535.12 452.70 533.80 C455.67 532.48 459.97 531.80 464.60 531.80 C469.23 531.80 475.53 532.82 480.50 533.80 C485.47 534.78 490.43 536.05 494.40 537.70 C498.37 539.35 501.85 541.38 504.30 543.70 C506.75 546.02 508.57 548.62 509.10 551.60 C509.63 554.58 508.95 558.42 507.50 561.60 C506.05 564.78 503.57 568.25 500.40 570.70 C497.23 573.15 493.13 575.18 488.50 576.30 C483.87 577.42 477.57 577.67 472.60 577.40 C467.63 577.13 462.68 576.35 458.70 574.70 C454.72 573.05 451.02 571.35 448.70 567.50 C446.38 563.65 445.12 556.23 444.80 551.60 Z" fill="#fff" filter="url(#nzB)" opacity="0.3"/>
<path d="M446.5 546 Q448 537 454 533.5 Q462 531.5 468 532" fill="none" stroke="#b8c850" stroke-width="1.3" opacity="0.8" filter="url(#blur05)"/>
<path d="M447 547 Q446 560 450 566" stroke="#8ae060" stroke-width="1.2" fill="none" opacity="0.8"/>
<line x1="416.30" y1="606.80" x2="425.90" y2="606.80" stroke="#e8e8e8" stroke-width="0.9" />
<line x1="534.22" y1="535.24" x2="553.52" y2="549.24" stroke="#1e1e1e" stroke-width="0.35" />
<line x1="538.74" y1="532.98" x2="558.04" y2="546.98" stroke="#1e1e1e" stroke-width="0.35" />
<line x1="543.26" y1="530.72" x2="562.56" y2="544.72" stroke="#1e1e1e" stroke-width="0.35" />
<line x1="547.78" y1="528.46" x2="567.08" y2="542.46" stroke="#1e1e1e" stroke-width="0.35" />
<line x1="533.56" y1="540.30" x2="556.16" y2="529.00" stroke="#1e1e1e" stroke-width="0.35" />
<line x1="537.42" y1="543.10" x2="560.02" y2="531.80" stroke="#1e1e1e" stroke-width="0.35" />
<line x1="541.28" y1="545.90" x2="563.88" y2="534.60" stroke="#1e1e1e" stroke-width="0.35" />
<line x1="545.14" y1="548.70" x2="567.74" y2="537.40" stroke="#1e1e1e" stroke-width="0.35" />
<line x1="530.92" y1="518.24" x2="534.22" y2="535.24" stroke="#1e1e1e" stroke-width="0.35" />
<line x1="535.44" y1="515.98" x2="538.74" y2="532.98" stroke="#1e1e1e" stroke-width="0.35" />
<line x1="539.96" y1="513.72" x2="543.26" y2="530.72" stroke="#1e1e1e" stroke-width="0.35" />
<line x1="544.48" y1="511.46" x2="547.78" y2="528.46" stroke="#1e1e1e" stroke-width="0.35" />
<line x1="527.06" y1="523.90" x2="549.66" y2="512.60" stroke="#1e1e1e" stroke-width="0.35" />
<line x1="527.72" y1="527.30" x2="550.32" y2="516.00" stroke="#1e1e1e" stroke-width="0.35" />
<line x1="528.38" y1="530.70" x2="550.98" y2="519.40" stroke="#1e1e1e" stroke-width="0.35" />
<line x1="529.04" y1="534.10" x2="551.64" y2="522.80" stroke="#1e1e1e" stroke-width="0.35" />
<line x1="553.50" y1="511.32" x2="556.80" y2="528.32" stroke="#1e1e1e" stroke-width="0.35" />
<line x1="558.00" y1="513.44" x2="561.30" y2="530.44" stroke="#1e1e1e" stroke-width="0.35" />
<line x1="562.50" y1="515.56" x2="565.80" y2="532.56" stroke="#1e1e1e" stroke-width="0.35" />
<line x1="567.00" y1="517.68" x2="570.30" y2="534.68" stroke="#1e1e1e" stroke-width="0.35" />
<line x1="549.66" y1="512.60" x2="572.16" y2="523.20" stroke="#1e1e1e" stroke-width="0.35" />
<line x1="550.32" y1="516.00" x2="572.82" y2="526.60" stroke="#1e1e1e" stroke-width="0.35" />
<line x1="550.98" y1="519.40" x2="573.48" y2="530.00" stroke="#1e1e1e" stroke-width="0.35" />
<line x1="551.64" y1="522.80" x2="574.14" y2="533.40" stroke="#1e1e1e" stroke-width="0.35" />
<polyline points="529.7,537.5 552.3,526.2 568.7,536.5" fill="none" stroke="#8a8a8a" stroke-width="0.36000000000000004" opacity="0.7"/>
<polyline points="549.0,509.2 552.3,526.2" fill="none" stroke="#8a8a8a" stroke-width="0.36000000000000004" opacity="0.7"/>
<polyline points="526.4,520.5 549.0,509.2 571.5,519.8 549.0,533.0 526.4,520.5" fill="none" stroke="#8a8a8a" stroke-width="0.45" opacity="1"/>
<polyline points="526.4,520.5 529.7,537.5 549.0,551.5 568.7,536.5 571.5,519.8" fill="none" stroke="#8a8a8a" stroke-width="0.45" opacity="1"/>
<polyline points="549.0,533.0 549.0,551.5" fill="none" stroke="#8a8a8a" stroke-width="0.45" opacity="1"/>
<path d="M562.38 522.00 C562.82 523.10 563.59 524.47 563.18 525.64 C562.76 526.82 561.28 528.13 559.89 529.03 C558.50 529.94 556.58 530.71 554.85 531.09 C553.11 531.48 551.33 531.26 549.47 531.34 C547.61 531.42 545.35 531.93 543.70 531.56 C542.04 531.18 540.41 530.10 539.56 529.07 C538.70 528.03 538.62 526.58 538.58 525.34 C538.55 524.11 538.61 522.75 539.34 521.64 C540.06 520.53 541.56 519.45 542.94 518.67 C544.31 517.89 545.98 517.49 547.59 516.97 C549.20 516.45 550.86 515.71 552.59 515.55 C554.32 515.39 556.64 515.43 557.97 516.01 C559.29 516.59 559.82 518.04 560.56 519.04 C561.29 520.03 561.95 520.90 562.38 522.00 Z" fill="url(#gB)" filter="url(#blur05)" />
<path d="M562.38 522.00 C562.82 523.10 563.59 524.47 563.18 525.64 C562.76 526.82 561.28 528.13 559.89 529.03 C558.50 529.94 556.58 530.71 554.85 531.09 C553.11 531.48 551.33 531.26 549.47 531.34 C547.61 531.42 545.35 531.93 543.70 531.56 C542.04 531.18 540.41 530.10 539.56 529.07 C538.70 528.03 538.62 526.58 538.58 525.34 C538.55 524.11 538.61 522.75 539.34 521.64 C540.06 520.53 541.56 519.45 542.94 518.67 C544.31 517.89 545.98 517.49 547.59 516.97 C549.20 516.45 550.86 515.71 552.59 515.55 C554.32 515.39 556.64 515.43 557.97 516.01 C559.29 516.59 559.82 518.04 560.56 519.04 C561.29 520.03 561.95 520.90 562.38 522.00 Z" fill="#fff" filter="url(#nzK)" opacity="0.45"/>
<line x1="523.50" y1="554.30" x2="527.90" y2="554.30" stroke="#e8e8e8" stroke-width="0.9" />
<line x1="534.22" y1="589.74" x2="553.52" y2="603.74" stroke="#1e1e1e" stroke-width="0.35" />
<line x1="538.74" y1="587.48" x2="558.04" y2="601.48" stroke="#1e1e1e" stroke-width="0.35" />
<line x1="543.26" y1="585.22" x2="562.56" y2="599.22" stroke="#1e1e1e" stroke-width="0.35" />
<line x1="547.78" y1="582.96" x2="567.08" y2="596.96" stroke="#1e1e1e" stroke-width="0.35" />
<line x1="533.56" y1="594.80" x2="556.16" y2="583.50" stroke="#1e1e1e" stroke-width="0.35" />
<line x1="537.42" y1="597.60" x2="560.02" y2="586.30" stroke="#1e1e1e" stroke-width="0.35" />
<line x1="541.28" y1="600.40" x2="563.88" y2="589.10" stroke="#1e1e1e" stroke-width="0.35" />
<line x1="545.14" y1="603.20" x2="567.74" y2="591.90" stroke="#1e1e1e" stroke-width="0.35" />
<line x1="530.92" y1="572.74" x2="534.22" y2="589.74" stroke="#1e1e1e" stroke-width="0.35" />
<line x1="535.44" y1="570.48" x2="538.74" y2="587.48" stroke="#1e1e1e" stroke-width="0.35" />
<line x1="539.96" y1="568.22" x2="543.26" y2="585.22" stroke="#1e1e1e" stroke-width="0.35" />
<line x1="544.48" y1="565.96" x2="547.78" y2="582.96" stroke="#1e1e1e" stroke-width="0.35" />
<line x1="527.06" y1="578.40" x2="549.66" y2="567.10" stroke="#1e1e1e" stroke-width="0.35" />
<line x1="527.72" y1="581.80" x2="550.32" y2="570.50" stroke="#1e1e1e" stroke-width="0.35" />
<line x1="528.38" y1="585.20" x2="550.98" y2="573.90" stroke="#1e1e1e" stroke-width="0.35" />
<line x1="529.04" y1="588.60" x2="551.64" y2="577.30" stroke="#1e1e1e" stroke-width="0.35" />
<line x1="553.50" y1="565.82" x2="556.80" y2="582.82" stroke="#1e1e1e" stroke-width="0.35" />
<line x1="558.00" y1="567.94" x2="561.30" y2="584.94" stroke="#1e1e1e" stroke-width="0.35" />
<line x1="562.50" y1="570.06" x2="565.80" y2="587.06" stroke="#1e1e1e" stroke-width="0.35" />
<line x1="567.00" y1="572.18" x2="570.30" y2="589.18" stroke="#1e1e1e" stroke-width="0.35" />
<line x1="549.66" y1="567.10" x2="572.16" y2="577.70" stroke="#1e1e1e" stroke-width="0.35" />
<line x1="550.32" y1="570.50" x2="572.82" y2="581.10" stroke="#1e1e1e" stroke-width="0.35" />
<line x1="550.98" y1="573.90" x2="573.48" y2="584.50" stroke="#1e1e1e" stroke-width="0.35" />
<line x1="551.64" y1="577.30" x2="574.14" y2="587.90" stroke="#1e1e1e" stroke-width="0.35" />
<polyline points="529.7,592.0 552.3,580.7 568.7,591.0" fill="none" stroke="#8a8a8a" stroke-width="0.36000000000000004" opacity="0.7"/>
<polyline points="549.0,563.7 552.3,580.7" fill="none" stroke="#8a8a8a" stroke-width="0.36000000000000004" opacity="0.7"/>
<polyline points="526.4,575.0 549.0,563.7 571.5,574.3 549.0,587.5 526.4,575.0" fill="none" stroke="#8a8a8a" stroke-width="0.45" opacity="1"/>
<polyline points="526.4,575.0 529.7,592.0 549.0,606.0 568.7,591.0 571.5,574.3" fill="none" stroke="#8a8a8a" stroke-width="0.45" opacity="1"/>
<polyline points="549.0,587.5 549.0,606.0" fill="none" stroke="#8a8a8a" stroke-width="0.45" opacity="1"/>
<path d="M564.74 576.17 C564.55 577.40 562.66 578.79 561.64 579.89 C560.62 580.99 559.68 581.65 558.63 582.76 C557.57 583.87 556.85 586.03 555.33 586.53 C553.81 587.03 551.24 586.05 549.48 585.77 C547.73 585.50 546.38 585.26 544.80 584.86 C543.21 584.46 540.91 584.22 539.96 583.38 C539.00 582.53 539.36 581.01 539.08 579.78 C538.80 578.54 537.62 577.06 538.26 575.96 C538.91 574.86 541.54 574.21 542.94 573.17 C544.35 572.14 545.10 570.24 546.71 569.74 C548.31 569.24 550.69 570.03 552.57 570.16 C554.45 570.28 556.29 570.10 557.99 570.49 C559.69 570.87 561.64 571.53 562.76 572.48 C563.89 573.43 564.93 574.93 564.74 576.17 Z" fill="url(#rB)" filter="url(#blur05)" />
<path d="M564.74 576.17 C564.55 577.40 562.66 578.79 561.64 579.89 C560.62 580.99 559.68 581.65 558.63 582.76 C557.57 583.87 556.85 586.03 555.33 586.53 C553.81 587.03 551.24 586.05 549.48 585.77 C547.73 585.50 546.38 585.26 544.80 584.86 C543.21 584.46 540.91 584.22 539.96 583.38 C539.00 582.53 539.36 581.01 539.08 579.78 C538.80 578.54 537.62 577.06 538.26 575.96 C538.91 574.86 541.54 574.21 542.94 573.17 C544.35 572.14 545.10 570.24 546.71 569.74 C548.31 569.24 550.69 570.03 552.57 570.16 C554.45 570.28 556.29 570.10 557.99 570.49 C559.69 570.87 561.64 571.53 562.76 572.48 C563.89 573.43 564.93 574.93 564.74 576.17 Z" fill="#fff" filter="url(#nzK)" opacity="0.45"/>
<line x1="523.50" y1="608.00" x2="527.90" y2="608.00" stroke="#e8e8e8" stroke-width="0.9" />
<path d="M576.60 533.70 C577.13 531.02 578.98 530.10 581.40 528.90 C583.82 527.70 587.62 527.30 591.10 526.50 C594.58 525.70 598.02 524.77 602.30 524.10 C606.58 523.43 611.98 523.57 616.80 522.50 C621.62 521.43 626.38 518.77 631.20 517.70 C636.02 516.63 641.15 515.57 645.70 516.10 C650.25 516.63 655.43 518.77 658.50 520.90 C661.57 523.03 663.03 525.70 664.10 528.90 C665.17 532.10 665.17 536.08 664.90 540.10 C664.63 544.12 663.57 548.98 662.50 553.00 C661.43 557.02 660.50 560.45 658.50 564.20 C656.50 567.95 653.72 572.42 650.50 575.50 C647.28 578.58 643.22 580.83 639.20 582.70 C635.18 584.57 630.95 586.30 626.40 586.70 C621.85 587.10 616.45 586.43 611.90 585.10 C607.35 583.77 602.83 581.37 599.10 578.70 C595.37 576.03 592.18 572.85 589.50 569.10 C586.82 565.35 584.88 560.22 583.00 556.20 C581.12 552.18 579.27 548.75 578.20 545.00 C577.13 541.25 576.07 536.38 576.60 533.70 Z" fill="url(#orB)" filter="url(#blur05)" />
<path d="M576.60 533.70 C577.13 531.02 578.98 530.10 581.40 528.90 C583.82 527.70 587.62 527.30 591.10 526.50 C594.58 525.70 598.02 524.77 602.30 524.10 C606.58 523.43 611.98 523.57 616.80 522.50 C621.62 521.43 626.38 518.77 631.20 517.70 C636.02 516.63 641.15 515.57 645.70 516.10 C650.25 516.63 655.43 518.77 658.50 520.90 C661.57 523.03 663.03 525.70 664.10 528.90 C665.17 532.10 665.17 536.08 664.90 540.10 C664.63 544.12 663.57 548.98 662.50 553.00 C661.43 557.02 660.50 560.45 658.50 564.20 C656.50 567.95 653.72 572.42 650.50 575.50 C647.28 578.58 643.22 580.83 639.20 582.70 C635.18 584.57 630.95 586.30 626.40 586.70 C621.85 587.10 616.45 586.43 611.90 585.10 C607.35 583.77 602.83 581.37 599.10 578.70 C595.37 576.03 592.18 572.85 589.50 569.10 C586.82 565.35 584.88 560.22 583.00 556.20 C581.12 552.18 579.27 548.75 578.20 545.00 C577.13 541.25 576.07 536.38 576.60 533.70 Z" fill="#fff" filter="url(#nzK2)" opacity="0.5"/>
<path d="M576.60 533.70 C577.13 531.02 578.98 530.10 581.40 528.90 C583.82 527.70 587.62 527.30 591.10 526.50 C594.58 525.70 598.02 524.77 602.30 524.10 C606.58 523.43 611.98 523.57 616.80 522.50 C621.62 521.43 626.38 518.77 631.20 517.70 C636.02 516.63 641.15 515.57 645.70 516.10 C650.25 516.63 655.43 518.77 658.50 520.90 C661.57 523.03 663.03 525.70 664.10 528.90 C665.17 532.10 665.17 536.08 664.90 540.10 C664.63 544.12 663.57 548.98 662.50 553.00 C661.43 557.02 660.50 560.45 658.50 564.20 C656.50 567.95 653.72 572.42 650.50 575.50 C647.28 578.58 643.22 580.83 639.20 582.70 C635.18 584.57 630.95 586.30 626.40 586.70 C621.85 587.10 616.45 586.43 611.90 585.10 C607.35 583.77 602.83 581.37 599.10 578.70 C595.37 576.03 592.18 572.85 589.50 569.10 C586.82 565.35 584.88 560.22 583.00 556.20 C581.12 552.18 579.27 548.75 578.20 545.00 C577.13 541.25 576.07 536.38 576.60 533.70 Z" fill="#fff" filter="url(#nzY)" opacity="0.5"/>
<path d="M576.60 533.70 C577.13 531.02 578.98 530.10 581.40 528.90 C583.82 527.70 587.62 527.30 591.10 526.50 C594.58 525.70 598.02 524.77 602.30 524.10 C606.58 523.43 611.98 523.57 616.80 522.50 C621.62 521.43 626.38 518.77 631.20 517.70 C636.02 516.63 641.15 515.57 645.70 516.10 C650.25 516.63 655.43 518.77 658.50 520.90 C661.57 523.03 663.03 525.70 664.10 528.90 C665.17 532.10 665.17 536.08 664.90 540.10 C664.63 544.12 663.57 548.98 662.50 553.00 C661.43 557.02 660.50 560.45 658.50 564.20 C656.50 567.95 653.72 572.42 650.50 575.50 C647.28 578.58 643.22 580.83 639.20 582.70 C635.18 584.57 630.95 586.30 626.40 586.70 C621.85 587.10 616.45 586.43 611.90 585.10 C607.35 583.77 602.83 581.37 599.10 578.70 C595.37 576.03 592.18 572.85 589.50 569.10 C586.82 565.35 584.88 560.22 583.00 556.20 C581.12 552.18 579.27 548.75 578.20 545.00 C577.13 541.25 576.07 536.38 576.60 533.70 Z" fill="#fff" filter="url(#nzR)" opacity="0.3"/>
<path d="M576.2 502.6 L613 502.6 Q609 508 598 512.5 Q586 517 576.2 520 Z" fill="#3a3810" filter="url(#blur05)"/>
<path d="M576.2 502.6 L613 502.6 Q609 508 598 512.5 Q586 517 576.2 520 Z" fill="#fff" filter="url(#nzR)" opacity="0.3"/>
<path d="M578.00 516.00 C579.42 514.42 583.33 513.75 586.00 513.50 C588.67 513.25 592.33 513.75 594.00 514.50 C595.67 515.25 596.67 516.67 596.00 518.00 C595.33 519.33 592.33 521.33 590.00 522.50 C587.67 523.67 584.08 524.92 582.00 525.00 C579.92 525.08 578.17 524.50 577.50 523.00 C576.83 521.50 576.58 517.58 578.00 516.00 Z" fill="#8a9a22" filter="url(#blur05)" />
<path d="M578.00 516.00 C579.42 514.42 583.33 513.75 586.00 513.50 C588.67 513.25 592.33 513.75 594.00 514.50 C595.67 515.25 596.67 516.67 596.00 518.00 C595.33 519.33 592.33 521.33 590.00 522.50 C587.67 523.67 584.08 524.92 582.00 525.00 C579.92 525.08 578.17 524.50 577.50 523.00 C576.83 521.50 576.58 517.58 578.00 516.00 Z" fill="#fff" filter="url(#nzK)" opacity="0.35"/>
<path d="M591.00 527.00 C591.83 525.75 595.50 523.92 598.00 523.00 C600.50 522.08 604.33 521.00 606.00 521.50 C607.67 522.00 609.00 524.58 608.00 526.00 C607.00 527.42 602.50 529.25 600.00 530.00 C597.50 530.75 594.50 531.00 593.00 530.50 C591.50 530.00 590.17 528.25 591.00 527.00 Z" fill="#b4c82c" filter="url(#blur05)" />
<path d="M591.00 527.00 C591.83 525.75 595.50 523.92 598.00 523.00 C600.50 522.08 604.33 521.00 606.00 521.50 C607.67 522.00 609.00 524.58 608.00 526.00 C607.00 527.42 602.50 529.25 600.00 530.00 C597.50 530.75 594.50 531.00 593.00 530.50 C591.50 530.00 590.17 528.25 591.00 527.00 Z" fill="#fff" filter="url(#nzK)" opacity="0.25"/>
<circle cx="657.70" cy="553.50" r="1.40" fill="#3af03a" stroke="none" stroke-width="1" />
<line x1="665.00" y1="606.80" x2="681.80" y2="606.80" stroke="#e8e8e8" stroke-width="0.9" />
<line x1="164.49" y1="709.34" x2="223.29" y2="733.64" stroke="#1e1e1e" stroke-width="0.35" />
<line x1="168.88" y1="707.39" x2="227.68" y2="731.69" stroke="#1e1e1e" stroke-width="0.35" />
<line x1="173.27" y1="705.43" x2="232.07" y2="729.73" stroke="#1e1e1e" stroke-width="0.35" />
<line x1="177.66" y1="703.48" x2="236.46" y2="727.78" stroke="#1e1e1e" stroke-width="0.35" />
<line x1="182.04" y1="701.52" x2="240.84" y2="725.82" stroke="#1e1e1e" stroke-width="0.35" />
<line x1="186.43" y1="699.57" x2="245.23" y2="723.87" stroke="#1e1e1e" stroke-width="0.35" />
<line x1="190.82" y1="697.61" x2="249.62" y2="721.91" stroke="#1e1e1e" stroke-width="0.35" />
<line x1="195.21" y1="695.66" x2="254.01" y2="719.96" stroke="#1e1e1e" stroke-width="0.35" />
<line x1="166.63" y1="714.00" x2="206.13" y2="696.40" stroke="#1e1e1e" stroke-width="0.35" />
<line x1="173.17" y1="716.70" x2="212.67" y2="699.10" stroke="#1e1e1e" stroke-width="0.35" />
<line x1="179.70" y1="719.40" x2="219.20" y2="701.80" stroke="#1e1e1e" stroke-width="0.35" />
<line x1="186.23" y1="722.10" x2="225.73" y2="704.50" stroke="#1e1e1e" stroke-width="0.35" />
<line x1="192.77" y1="724.80" x2="232.27" y2="707.20" stroke="#1e1e1e" stroke-width="0.35" />
<line x1="199.30" y1="727.50" x2="238.80" y2="709.90" stroke="#1e1e1e" stroke-width="0.35" />
<line x1="205.83" y1="730.20" x2="245.33" y2="712.60" stroke="#1e1e1e" stroke-width="0.35" />
<line x1="212.37" y1="732.90" x2="251.87" y2="715.30" stroke="#1e1e1e" stroke-width="0.35" />
<line x1="158.59" y1="676.54" x2="164.49" y2="709.34" stroke="#1e1e1e" stroke-width="0.35" />
<line x1="162.98" y1="674.59" x2="168.88" y2="707.39" stroke="#1e1e1e" stroke-width="0.35" />
<line x1="167.37" y1="672.63" x2="173.27" y2="705.43" stroke="#1e1e1e" stroke-width="0.35" />
<line x1="171.76" y1="670.68" x2="177.66" y2="703.48" stroke="#1e1e1e" stroke-width="0.35" />
<line x1="176.14" y1="668.72" x2="182.04" y2="701.52" stroke="#1e1e1e" stroke-width="0.35" />
<line x1="180.53" y1="666.77" x2="186.43" y2="699.57" stroke="#1e1e1e" stroke-width="0.35" />
<line x1="184.92" y1="664.81" x2="190.82" y2="697.61" stroke="#1e1e1e" stroke-width="0.35" />
<line x1="189.31" y1="662.86" x2="195.21" y2="695.66" stroke="#1e1e1e" stroke-width="0.35" />
<line x1="155.38" y1="685.06" x2="194.88" y2="667.46" stroke="#1e1e1e" stroke-width="0.35" />
<line x1="156.56" y1="691.62" x2="196.06" y2="674.02" stroke="#1e1e1e" stroke-width="0.35" />
<line x1="157.74" y1="698.18" x2="197.24" y2="680.58" stroke="#1e1e1e" stroke-width="0.35" />
<line x1="158.92" y1="704.74" x2="198.42" y2="687.14" stroke="#1e1e1e" stroke-width="0.35" />
<line x1="199.67" y1="662.02" x2="205.57" y2="694.82" stroke="#1e1e1e" stroke-width="0.35" />
<line x1="205.63" y1="663.14" x2="211.53" y2="695.94" stroke="#1e1e1e" stroke-width="0.35" />
<line x1="211.60" y1="664.27" x2="217.50" y2="697.07" stroke="#1e1e1e" stroke-width="0.35" />
<line x1="217.57" y1="665.39" x2="223.47" y2="698.19" stroke="#1e1e1e" stroke-width="0.35" />
<line x1="223.53" y1="666.51" x2="229.43" y2="699.31" stroke="#1e1e1e" stroke-width="0.35" />
<line x1="229.50" y1="667.63" x2="235.40" y2="700.43" stroke="#1e1e1e" stroke-width="0.35" />
<line x1="235.47" y1="668.76" x2="241.37" y2="701.56" stroke="#1e1e1e" stroke-width="0.35" />
<line x1="241.43" y1="669.88" x2="247.33" y2="702.68" stroke="#1e1e1e" stroke-width="0.35" />
<line x1="194.88" y1="667.46" x2="248.58" y2="677.56" stroke="#1e1e1e" stroke-width="0.35" />
<line x1="196.06" y1="674.02" x2="249.76" y2="684.12" stroke="#1e1e1e" stroke-width="0.35" />
<line x1="197.24" y1="680.58" x2="250.94" y2="690.68" stroke="#1e1e1e" stroke-width="0.35" />
<line x1="198.42" y1="687.14" x2="252.12" y2="697.24" stroke="#1e1e1e" stroke-width="0.35" />
<polyline points="160.1,711.3 199.6,693.7 243.0,703.0" fill="none" stroke="#8c8c8c" stroke-width="0.4" opacity="0.7"/>
<polyline points="193.7,660.9 199.6,693.7" fill="none" stroke="#8c8c8c" stroke-width="0.4" opacity="0.7"/>
<polyline points="154.2,678.5 193.7,660.9 247.4,671.0 208.0,690.0 154.2,678.5" fill="none" stroke="#8c8c8c" stroke-width="0.5" opacity="1"/>
<polyline points="154.2,678.5 160.1,711.3 218.9,735.6 243.0,703.0 247.4,671.0" fill="none" stroke="#8c8c8c" stroke-width="0.5" opacity="1"/>
<polyline points="208.0,690.0 218.9,735.6" fill="none" stroke="#8c8c8c" stroke-width="0.5" opacity="1"/>
<path d="M181.10 686.10 C181.67 683.30 183.20 681.73 185.30 680.20 C187.40 678.67 190.35 677.73 193.70 676.90 C197.05 676.07 201.48 675.20 205.40 675.20 C209.32 675.20 214.12 675.78 217.20 676.90 C220.28 678.02 221.80 679.67 223.90 681.90 C226.00 684.13 228.27 687.50 229.80 690.30 C231.33 693.10 232.97 695.90 233.10 698.70 C233.23 701.50 232.13 704.87 230.60 707.10 C229.07 709.33 226.42 710.57 223.90 712.10 C221.38 713.63 218.58 715.60 215.50 716.30 C212.42 717.00 208.75 717.00 205.40 716.30 C202.05 715.60 198.47 713.92 195.40 712.10 C192.33 710.28 189.25 707.92 187.00 705.40 C184.75 702.88 182.88 700.22 181.90 697.00 C180.92 693.78 180.53 688.90 181.10 686.10 Z" fill="url(#wbB)" filter="url(#blur05)" />
<path d="M181.10 686.10 C181.67 683.30 183.20 681.73 185.30 680.20 C187.40 678.67 190.35 677.73 193.70 676.90 C197.05 676.07 201.48 675.20 205.40 675.20 C209.32 675.20 214.12 675.78 217.20 676.90 C220.28 678.02 221.80 679.67 223.90 681.90 C226.00 684.13 228.27 687.50 229.80 690.30 C231.33 693.10 232.97 695.90 233.10 698.70 C233.23 701.50 232.13 704.87 230.60 707.10 C229.07 709.33 226.42 710.57 223.90 712.10 C221.38 713.63 218.58 715.60 215.50 716.30 C212.42 717.00 208.75 717.00 205.40 716.30 C202.05 715.60 198.47 713.92 195.40 712.10 C192.33 710.28 189.25 707.92 187.00 705.40 C184.75 702.88 182.88 700.22 181.90 697.00 C180.92 693.78 180.53 688.90 181.10 686.10 Z" fill="#fff" filter="url(#nzW2)" opacity="0.45"/>
<path d="M181.10 686.10 C181.67 683.30 183.20 681.73 185.30 680.20 C187.40 678.67 190.35 677.73 193.70 676.90 C197.05 676.07 201.48 675.20 205.40 675.20 C209.32 675.20 214.12 675.78 217.20 676.90 C220.28 678.02 221.80 679.67 223.90 681.90 C226.00 684.13 228.27 687.50 229.80 690.30 C231.33 693.10 232.97 695.90 233.10 698.70 C233.23 701.50 232.13 704.87 230.60 707.10 C229.07 709.33 226.42 710.57 223.90 712.10 C221.38 713.63 218.58 715.60 215.50 716.30 C212.42 717.00 208.75 717.00 205.40 716.30 C202.05 715.60 198.47 713.92 195.40 712.10 C192.33 710.28 189.25 707.92 187.00 705.40 C184.75 702.88 182.88 700.22 181.90 697.00 C180.92 693.78 180.53 688.90 181.10 686.10 Z" fill="#fff" filter="url(#nzB)" opacity="0.25"/>
<path d="M181.5 697 Q180.5 689 183 684 Q186 679.5 191 677.5" fill="none" stroke="#2ed02e" stroke-width="2.0" filter="url(#blur05)"/>
<path d="M232.5 694 Q234 701 231 706.5 Q226 711.5 219 714.5 Q212 716.8 206 716.8" fill="none" stroke="#2ed02e" stroke-width="2.0" filter="url(#blur05)"/>
<line x1="147.50" y1="756.00" x2="157.10" y2="756.00" stroke="#e8e8e8" stroke-width="0.9" />
<line x1="263.02" y1="678.98" x2="285.12" y2="698.98" stroke="#1e1e1e" stroke-width="0.35" />
<line x1="268.04" y1="677.36" x2="290.14" y2="697.36" stroke="#1e1e1e" stroke-width="0.35" />
<line x1="273.06" y1="675.74" x2="295.16" y2="695.74" stroke="#1e1e1e" stroke-width="0.35" />
<line x1="278.08" y1="674.12" x2="300.18" y2="694.12" stroke="#1e1e1e" stroke-width="0.35" />
<line x1="262.42" y1="684.60" x2="287.52" y2="676.50" stroke="#1e1e1e" stroke-width="0.35" />
<line x1="266.84" y1="688.60" x2="291.94" y2="680.50" stroke="#1e1e1e" stroke-width="0.35" />
<line x1="271.26" y1="692.60" x2="296.36" y2="684.50" stroke="#1e1e1e" stroke-width="0.35" />
<line x1="275.68" y1="696.60" x2="300.78" y2="688.50" stroke="#1e1e1e" stroke-width="0.35" />
<line x1="262.32" y1="663.58" x2="263.02" y2="678.98" stroke="#1e1e1e" stroke-width="0.35" />
<line x1="267.34" y1="661.96" x2="268.04" y2="677.36" stroke="#1e1e1e" stroke-width="0.35" />
<line x1="272.36" y1="660.34" x2="273.06" y2="675.74" stroke="#1e1e1e" stroke-width="0.35" />
<line x1="277.38" y1="658.72" x2="278.08" y2="674.12" stroke="#1e1e1e" stroke-width="0.35" />
<line x1="257.44" y1="668.28" x2="282.54" y2="660.18" stroke="#1e1e1e" stroke-width="0.35" />
<line x1="257.58" y1="671.36" x2="282.68" y2="663.26" stroke="#1e1e1e" stroke-width="0.35" />
<line x1="257.72" y1="674.44" x2="282.82" y2="666.34" stroke="#1e1e1e" stroke-width="0.35" />
<line x1="257.86" y1="677.52" x2="282.96" y2="669.42" stroke="#1e1e1e" stroke-width="0.35" />
<line x1="287.26" y1="659.46" x2="287.96" y2="674.86" stroke="#1e1e1e" stroke-width="0.35" />
<line x1="292.12" y1="661.82" x2="292.82" y2="677.22" stroke="#1e1e1e" stroke-width="0.35" />
<line x1="296.98" y1="664.18" x2="297.68" y2="679.58" stroke="#1e1e1e" stroke-width="0.35" />
<line x1="301.84" y1="666.54" x2="302.54" y2="681.94" stroke="#1e1e1e" stroke-width="0.35" />
<line x1="282.54" y1="660.18" x2="306.84" y2="671.98" stroke="#1e1e1e" stroke-width="0.35" />
<line x1="282.68" y1="663.26" x2="306.98" y2="675.06" stroke="#1e1e1e" stroke-width="0.35" />
<line x1="282.82" y1="666.34" x2="307.12" y2="678.14" stroke="#1e1e1e" stroke-width="0.35" />
<line x1="282.96" y1="669.42" x2="307.26" y2="681.22" stroke="#1e1e1e" stroke-width="0.35" />
<polyline points="258.0,680.6 283.1,672.5 306.7,683.6" fill="none" stroke="#8a8a8a" stroke-width="0.36000000000000004" opacity="0.7"/>
<polyline points="282.4,657.1 283.1,672.5" fill="none" stroke="#8a8a8a" stroke-width="0.36000000000000004" opacity="0.7"/>
<polyline points="257.3,665.2 282.4,657.1 306.7,668.9 280.1,676.9 257.3,665.2" fill="none" stroke="#8a8a8a" stroke-width="0.45" opacity="1"/>
<polyline points="257.3,665.2 258.0,680.6 280.1,700.6 306.7,683.6 306.7,668.9" fill="none" stroke="#8a8a8a" stroke-width="0.45" opacity="1"/>
<polyline points="280.1,676.9 280.1,700.6" fill="none" stroke="#8a8a8a" stroke-width="0.45" opacity="1"/>
<path d="M294.55 670.58 C294.89 671.45 295.02 672.63 294.37 673.53 C293.72 674.43 291.96 675.22 290.65 675.98 C289.33 676.73 288.07 677.55 286.50 678.07 C284.92 678.59 282.83 679.10 281.18 679.09 C279.54 679.08 278.02 678.45 276.61 678.01 C275.20 677.58 273.65 677.18 272.75 676.48 C271.84 675.79 271.37 674.79 271.20 673.86 C271.02 672.92 270.90 671.73 271.70 670.88 C272.50 670.02 274.64 669.40 276.00 668.74 C277.36 668.09 278.40 667.53 279.87 666.94 C281.34 666.35 283.20 665.37 284.84 665.23 C286.47 665.10 288.43 665.61 289.68 666.12 C290.93 666.64 291.52 667.56 292.33 668.30 C293.14 669.04 294.21 669.70 294.55 670.58 Z" fill="#0a4a0a" stroke="#22c022" stroke-width="2.4" filter="url(#blur05)"/>
<line x1="263.02" y1="732.68" x2="285.12" y2="752.68" stroke="#1e1e1e" stroke-width="0.35" />
<line x1="268.04" y1="731.06" x2="290.14" y2="751.06" stroke="#1e1e1e" stroke-width="0.35" />
<line x1="273.06" y1="729.44" x2="295.16" y2="749.44" stroke="#1e1e1e" stroke-width="0.35" />
<line x1="278.08" y1="727.82" x2="300.18" y2="747.82" stroke="#1e1e1e" stroke-width="0.35" />
<line x1="262.42" y1="738.30" x2="287.52" y2="730.20" stroke="#1e1e1e" stroke-width="0.35" />
<line x1="266.84" y1="742.30" x2="291.94" y2="734.20" stroke="#1e1e1e" stroke-width="0.35" />
<line x1="271.26" y1="746.30" x2="296.36" y2="738.20" stroke="#1e1e1e" stroke-width="0.35" />
<line x1="275.68" y1="750.30" x2="300.78" y2="742.20" stroke="#1e1e1e" stroke-width="0.35" />
<line x1="262.32" y1="717.28" x2="263.02" y2="732.68" stroke="#1e1e1e" stroke-width="0.35" />
<line x1="267.34" y1="715.66" x2="268.04" y2="731.06" stroke="#1e1e1e" stroke-width="0.35" />
<line x1="272.36" y1="714.04" x2="273.06" y2="729.44" stroke="#1e1e1e" stroke-width="0.35" />
<line x1="277.38" y1="712.42" x2="278.08" y2="727.82" stroke="#1e1e1e" stroke-width="0.35" />
<line x1="257.44" y1="721.98" x2="282.54" y2="713.88" stroke="#1e1e1e" stroke-width="0.35" />
<line x1="257.58" y1="725.06" x2="282.68" y2="716.96" stroke="#1e1e1e" stroke-width="0.35" />
<line x1="257.72" y1="728.14" x2="282.82" y2="720.04" stroke="#1e1e1e" stroke-width="0.35" />
<line x1="257.86" y1="731.22" x2="282.96" y2="723.12" stroke="#1e1e1e" stroke-width="0.35" />
<line x1="287.26" y1="713.16" x2="287.96" y2="728.56" stroke="#1e1e1e" stroke-width="0.35" />
<line x1="292.12" y1="715.52" x2="292.82" y2="730.92" stroke="#1e1e1e" stroke-width="0.35" />
<line x1="296.98" y1="717.88" x2="297.68" y2="733.28" stroke="#1e1e1e" stroke-width="0.35" />
<line x1="301.84" y1="720.24" x2="302.54" y2="735.64" stroke="#1e1e1e" stroke-width="0.35" />
<line x1="282.54" y1="713.88" x2="306.84" y2="725.68" stroke="#1e1e1e" stroke-width="0.35" />
<line x1="282.68" y1="716.96" x2="306.98" y2="728.76" stroke="#1e1e1e" stroke-width="0.35" />
<line x1="282.82" y1="720.04" x2="307.12" y2="731.84" stroke="#1e1e1e" stroke-width="0.35" />
<line x1="282.96" y1="723.12" x2="307.26" y2="734.92" stroke="#1e1e1e" stroke-width="0.35" />
<polyline points="258.0,734.3 283.1,726.2 306.7,737.3" fill="none" stroke="#8a8a8a" stroke-width="0.36000000000000004" opacity="0.7"/>
<polyline points="282.4,710.8 283.1,726.2" fill="none" stroke="#8a8a8a" stroke-width="0.36000000000000004" opacity="0.7"/>
<polyline points="257.3,718.9 282.4,710.8 306.7,722.6 280.1,730.6 257.3,718.9" fill="none" stroke="#8a8a8a" stroke-width="0.45" opacity="1"/>
<polyline points="257.3,718.9 258.0,734.3 280.1,754.3 306.7,737.3 306.7,722.6" fill="none" stroke="#8a8a8a" stroke-width="0.45" opacity="1"/>
<polyline points="280.1,730.6 280.1,754.3" fill="none" stroke="#8a8a8a" stroke-width="0.45" opacity="1"/>
<path d="M295.22 724.18 C295.06 725.15 293.53 726.17 292.79 727.12 C292.06 728.08 291.89 729.15 290.82 729.91 C289.75 730.67 287.97 731.19 286.37 731.71 C284.77 732.23 282.80 733.03 281.21 733.03 C279.61 733.03 278.12 732.20 276.81 731.70 C275.50 731.20 274.20 730.73 273.32 730.03 C272.44 729.34 271.64 728.42 271.54 727.51 C271.43 726.61 272.18 725.59 272.69 724.61 C273.21 723.63 273.52 722.44 274.63 721.61 C275.74 720.78 277.68 720.06 279.36 719.63 C281.05 719.21 283.15 718.93 284.72 719.08 C286.29 719.22 287.27 720.11 288.78 720.48 C290.28 720.86 292.67 720.69 293.74 721.31 C294.82 721.93 295.38 723.21 295.22 724.18 Z" fill="#4a0606" stroke="#b81212" stroke-width="2.2" filter="url(#blur05)"/>
<line x1="307.60" y1="652.00" x2="307.60" y2="759.00" stroke="#262626" stroke-width="0.6" />
<line x1="255.50" y1="704.00" x2="259.00" y2="704.00" stroke="#e8e8e8" stroke-width="0.9" />
<line x1="255.50" y1="757.50" x2="259.00" y2="757.50" stroke="#e8e8e8" stroke-width="0.9" />
<path d="M309.90 720.10 C310.08 716.20 310.45 712.50 312.20 708.40 C313.95 704.30 317.08 698.82 320.40 695.50 C323.72 692.18 327.82 690.43 332.10 688.50 C336.38 686.57 342.60 686.03 346.10 683.90 C349.60 681.77 349.98 678.03 353.10 675.70 C356.22 673.37 360.13 671.07 364.80 669.90 C369.47 668.73 376.03 668.12 381.10 668.70 C386.17 669.28 391.30 670.68 395.20 673.40 C399.10 676.12 402.37 681.12 404.50 685.00 C406.63 688.88 407.80 692.42 408.00 696.70 C408.20 700.98 407.45 706.42 405.70 710.70 C403.95 714.98 400.43 718.88 397.50 722.40 C394.57 725.92 390.83 727.90 388.10 731.80 C385.37 735.70 384.60 742.10 381.10 745.80 C377.60 749.50 372.55 752.25 367.10 754.00 C361.65 755.75 354.62 756.50 348.40 756.30 C342.18 756.10 334.85 754.95 329.80 752.80 C324.75 750.65 321.22 746.90 318.10 743.40 C314.98 739.90 312.47 735.68 311.10 731.80 C309.73 727.92 309.72 724.00 309.90 720.10 Z" fill="url(#orB2)" filter="url(#blur05)" />
<path d="M309.90 720.10 C310.08 716.20 310.45 712.50 312.20 708.40 C313.95 704.30 317.08 698.82 320.40 695.50 C323.72 692.18 327.82 690.43 332.10 688.50 C336.38 686.57 342.60 686.03 346.10 683.90 C349.60 681.77 349.98 678.03 353.10 675.70 C356.22 673.37 360.13 671.07 364.80 669.90 C369.47 668.73 376.03 668.12 381.10 668.70 C386.17 669.28 391.30 670.68 395.20 673.40 C399.10 676.12 402.37 681.12 404.50 685.00 C406.63 688.88 407.80 692.42 408.00 696.70 C408.20 700.98 407.45 706.42 405.70 710.70 C403.95 714.98 400.43 718.88 397.50 722.40 C394.57 725.92 390.83 727.90 388.10 731.80 C385.37 735.70 384.60 742.10 381.10 745.80 C377.60 749.50 372.55 752.25 367.10 754.00 C361.65 755.75 354.62 756.50 348.40 756.30 C342.18 756.10 334.85 754.95 329.80 752.80 C324.75 750.65 321.22 746.90 318.10 743.40 C314.98 739.90 312.47 735.68 311.10 731.80 C309.73 727.92 309.72 724.00 309.90 720.10 Z" fill="#fff" filter="url(#nzK2)" opacity="0.5"/>
<path d="M309.90 720.10 C310.08 716.20 310.45 712.50 312.20 708.40 C313.95 704.30 317.08 698.82 320.40 695.50 C323.72 692.18 327.82 690.43 332.10 688.50 C336.38 686.57 342.60 686.03 346.10 683.90 C349.60 681.77 349.98 678.03 353.10 675.70 C356.22 673.37 360.13 671.07 364.80 669.90 C369.47 668.73 376.03 668.12 381.10 668.70 C386.17 669.28 391.30 670.68 395.20 673.40 C399.10 676.12 402.37 681.12 404.50 685.00 C406.63 688.88 407.80 692.42 408.00 696.70 C408.20 700.98 407.45 706.42 405.70 710.70 C403.95 714.98 400.43 718.88 397.50 722.40 C394.57 725.92 390.83 727.90 388.10 731.80 C385.37 735.70 384.60 742.10 381.10 745.80 C377.60 749.50 372.55 752.25 367.10 754.00 C361.65 755.75 354.62 756.50 348.40 756.30 C342.18 756.10 334.85 754.95 329.80 752.80 C324.75 750.65 321.22 746.90 318.10 743.40 C314.98 739.90 312.47 735.68 311.10 731.80 C309.73 727.92 309.72 724.00 309.90 720.10 Z" fill="#fff" filter="url(#nzY)" opacity="0.55"/>
<path d="M309.90 720.10 C310.08 716.20 310.45 712.50 312.20 708.40 C313.95 704.30 317.08 698.82 320.40 695.50 C323.72 692.18 327.82 690.43 332.10 688.50 C336.38 686.57 342.60 686.03 346.10 683.90 C349.60 681.77 349.98 678.03 353.10 675.70 C356.22 673.37 360.13 671.07 364.80 669.90 C369.47 668.73 376.03 668.12 381.10 668.70 C386.17 669.28 391.30 670.68 395.20 673.40 C399.10 676.12 402.37 681.12 404.50 685.00 C406.63 688.88 407.80 692.42 408.00 696.70 C408.20 700.98 407.45 706.42 405.70 710.70 C403.95 714.98 400.43 718.88 397.50 722.40 C394.57 725.92 390.83 727.90 388.10 731.80 C385.37 735.70 384.60 742.10 381.10 745.80 C377.60 749.50 372.55 752.25 367.10 754.00 C361.65 755.75 354.62 756.50 348.40 756.30 C342.18 756.10 334.85 754.95 329.80 752.80 C324.75 750.65 321.22 746.90 318.10 743.40 C314.98 739.90 312.47 735.68 311.10 731.80 C309.73 727.92 309.72 724.00 309.90 720.10 Z" fill="#fff" filter="url(#nzR)" opacity="0.25"/>
<path d="M313 712 Q316 700 322 694 Q327 690 333 688" stroke="#2ee02e" stroke-width="1.8" fill="none" opacity="0.9"/>
<path d="M310.5 718 Q309.5 725 311.5 731" stroke="#3af03a" stroke-width="2.2" fill="none"/>
<path d="M400 679 Q406 686 408 697 Q408 704 406 709" stroke="#2ee02e" stroke-width="1.8" fill="none"/>
<path d="M383 741 Q380 748 376 751" stroke="#2ee02e" stroke-width="1.5" fill="none"/>
<line x1="309.00" y1="756.50" x2="321.00" y2="756.50" stroke="#e8e8e8" stroke-width="0.9" />
<line x1="442.01" y1="718.11" x2="476.51" y2="751.01" stroke="#1e1e1e" stroke-width="0.35" />
<line x1="446.92" y1="715.52" x2="481.42" y2="748.42" stroke="#1e1e1e" stroke-width="0.35" />
<line x1="451.83" y1="712.93" x2="486.33" y2="745.83" stroke="#1e1e1e" stroke-width="0.35" />
<line x1="456.74" y1="710.34" x2="491.24" y2="743.24" stroke="#1e1e1e" stroke-width="0.35" />
<line x1="461.66" y1="707.76" x2="496.16" y2="740.66" stroke="#1e1e1e" stroke-width="0.35" />
<line x1="466.57" y1="705.17" x2="501.07" y2="738.07" stroke="#1e1e1e" stroke-width="0.35" />
<line x1="471.48" y1="702.58" x2="505.98" y2="735.48" stroke="#1e1e1e" stroke-width="0.35" />
<line x1="476.39" y1="699.99" x2="510.89" y2="732.89" stroke="#1e1e1e" stroke-width="0.35" />
<line x1="440.93" y1="724.36" x2="485.13" y2="701.06" stroke="#1e1e1e" stroke-width="0.35" />
<line x1="444.77" y1="728.01" x2="488.97" y2="704.71" stroke="#1e1e1e" stroke-width="0.35" />
<line x1="448.60" y1="731.67" x2="492.80" y2="708.37" stroke="#1e1e1e" stroke-width="0.35" />
<line x1="452.43" y1="735.32" x2="496.63" y2="712.02" stroke="#1e1e1e" stroke-width="0.35" />
<line x1="456.27" y1="738.98" x2="500.47" y2="715.68" stroke="#1e1e1e" stroke-width="0.35" />
<line x1="460.10" y1="742.63" x2="504.30" y2="719.33" stroke="#1e1e1e" stroke-width="0.35" />
<line x1="463.93" y1="746.29" x2="508.13" y2="722.99" stroke="#1e1e1e" stroke-width="0.35" />
<line x1="467.77" y1="749.94" x2="511.97" y2="726.64" stroke="#1e1e1e" stroke-width="0.35" />
<line x1="431.51" y1="689.21" x2="442.01" y2="718.11" stroke="#1e1e1e" stroke-width="0.35" />
<line x1="436.42" y1="686.62" x2="446.92" y2="715.52" stroke="#1e1e1e" stroke-width="0.35" />
<line x1="441.33" y1="684.03" x2="451.83" y2="712.93" stroke="#1e1e1e" stroke-width="0.35" />
<line x1="446.24" y1="681.44" x2="456.74" y2="710.34" stroke="#1e1e1e" stroke-width="0.35" />
<line x1="451.16" y1="678.86" x2="461.66" y2="707.76" stroke="#1e1e1e" stroke-width="0.35" />
<line x1="456.07" y1="676.27" x2="466.57" y2="705.17" stroke="#1e1e1e" stroke-width="0.35" />
<line x1="460.98" y1="673.68" x2="471.48" y2="702.58" stroke="#1e1e1e" stroke-width="0.35" />
<line x1="465.89" y1="671.09" x2="476.39" y2="699.99" stroke="#1e1e1e" stroke-width="0.35" />
<line x1="428.70" y1="697.58" x2="472.90" y2="674.28" stroke="#1e1e1e" stroke-width="0.35" />
<line x1="430.80" y1="703.36" x2="475.00" y2="680.06" stroke="#1e1e1e" stroke-width="0.35" />
<line x1="432.90" y1="709.14" x2="477.10" y2="685.84" stroke="#1e1e1e" stroke-width="0.35" />
<line x1="435.00" y1="714.92" x2="479.20" y2="691.62" stroke="#1e1e1e" stroke-width="0.35" />
<line x1="475.80" y1="670.81" x2="486.30" y2="699.71" stroke="#1e1e1e" stroke-width="0.35" />
<line x1="480.80" y1="673.12" x2="491.30" y2="702.02" stroke="#1e1e1e" stroke-width="0.35" />
<line x1="485.80" y1="675.43" x2="496.30" y2="704.33" stroke="#1e1e1e" stroke-width="0.35" />
<line x1="490.80" y1="677.74" x2="501.30" y2="706.64" stroke="#1e1e1e" stroke-width="0.35" />
<line x1="495.80" y1="680.06" x2="506.30" y2="708.96" stroke="#1e1e1e" stroke-width="0.35" />
<line x1="500.80" y1="682.37" x2="511.30" y2="711.27" stroke="#1e1e1e" stroke-width="0.35" />
<line x1="505.80" y1="684.68" x2="516.30" y2="713.58" stroke="#1e1e1e" stroke-width="0.35" />
<line x1="510.80" y1="686.99" x2="521.30" y2="715.89" stroke="#1e1e1e" stroke-width="0.35" />
<line x1="472.90" y1="674.28" x2="517.90" y2="695.08" stroke="#1e1e1e" stroke-width="0.35" />
<line x1="475.00" y1="680.06" x2="520.00" y2="700.86" stroke="#1e1e1e" stroke-width="0.35" />
<line x1="477.10" y1="685.84" x2="522.10" y2="706.64" stroke="#1e1e1e" stroke-width="0.35" />
<line x1="479.20" y1="691.62" x2="524.20" y2="712.42" stroke="#1e1e1e" stroke-width="0.35" />
<polyline points="437.1,720.7 481.3,697.4 509.4,725.5" fill="none" stroke="#8c8c8c" stroke-width="0.4" opacity="0.7"/>
<polyline points="470.8,668.5 481.3,697.4" fill="none" stroke="#8c8c8c" stroke-width="0.4" opacity="0.7"/>
<polyline points="426.6,691.8 470.8,668.5 515.8,689.3 470.8,711.0 426.6,691.8" fill="none" stroke="#8c8c8c" stroke-width="0.5" opacity="1"/>
<polyline points="426.6,691.8 437.1,720.7 471.6,753.6 509.4,725.5 515.8,689.3" fill="none" stroke="#8c8c8c" stroke-width="0.5" opacity="1"/>
<polyline points="470.8,711.0 471.6,753.6" fill="none" stroke="#8c8c8c" stroke-width="0.5" opacity="1"/>
<path d="M452.00 703.00 C452.83 699.83 453.67 696.83 456.00 695.00 C458.33 693.17 462.33 692.42 466.00 692.00 C469.67 691.58 474.17 692.00 478.00 692.50 C481.83 693.00 486.00 693.42 489.00 695.00 C492.00 696.58 494.67 698.83 496.00 702.00 C497.33 705.17 497.67 710.33 497.00 714.00 C496.33 717.67 494.17 721.17 492.00 724.00 C489.83 726.83 487.00 728.67 484.00 731.00 C481.00 733.33 477.67 736.33 474.00 738.00 C470.33 739.67 465.67 740.83 462.00 741.00 C458.33 741.17 454.00 740.33 452.00 739.00 C450.00 737.67 449.67 735.50 450.00 733.00 C450.33 730.50 453.83 727.17 454.00 724.00 C454.17 720.83 451.33 717.50 451.00 714.00 C450.67 710.50 451.17 706.17 452.00 703.00 Z" fill="url(#wbB2)" filter="url(#blur05)" />
<path d="M452.00 703.00 C452.83 699.83 453.67 696.83 456.00 695.00 C458.33 693.17 462.33 692.42 466.00 692.00 C469.67 691.58 474.17 692.00 478.00 692.50 C481.83 693.00 486.00 693.42 489.00 695.00 C492.00 696.58 494.67 698.83 496.00 702.00 C497.33 705.17 497.67 710.33 497.00 714.00 C496.33 717.67 494.17 721.17 492.00 724.00 C489.83 726.83 487.00 728.67 484.00 731.00 C481.00 733.33 477.67 736.33 474.00 738.00 C470.33 739.67 465.67 740.83 462.00 741.00 C458.33 741.17 454.00 740.33 452.00 739.00 C450.00 737.67 449.67 735.50 450.00 733.00 C450.33 730.50 453.83 727.17 454.00 724.00 C454.17 720.83 451.33 717.50 451.00 714.00 C450.67 710.50 451.17 706.17 452.00 703.00 Z" fill="#fff" filter="url(#nzW2)" opacity="0.4"/>
<path d="M452.00 703.00 C452.83 699.83 453.67 696.83 456.00 695.00 C458.33 693.17 462.33 692.42 466.00 692.00 C469.67 691.58 474.17 692.00 478.00 692.50 C481.83 693.00 486.00 693.42 489.00 695.00 C492.00 696.58 494.67 698.83 496.00 702.00 C497.33 705.17 497.67 710.33 497.00 714.00 C496.33 717.67 494.17 721.17 492.00 724.00 C489.83 726.83 487.00 728.67 484.00 731.00 C481.00 733.33 477.67 736.33 474.00 738.00 C470.33 739.67 465.67 740.83 462.00 741.00 C458.33 741.17 454.00 740.33 452.00 739.00 C450.00 737.67 449.67 735.50 450.00 733.00 C450.33 730.50 453.83 727.17 454.00 724.00 C454.17 720.83 451.33 717.50 451.00 714.00 C450.67 710.50 451.17 706.17 452.00 703.00 Z" fill="#fff" filter="url(#nzP)" opacity="0.35"/>
<path d="M452.00 703.00 C452.83 699.83 453.67 696.83 456.00 695.00 C458.33 693.17 462.33 692.42 466.00 692.00 C469.67 691.58 474.17 692.00 478.00 692.50 C481.83 693.00 486.00 693.42 489.00 695.00 C492.00 696.58 494.67 698.83 496.00 702.00 C497.33 705.17 497.67 710.33 497.00 714.00 C496.33 717.67 494.17 721.17 492.00 724.00 C489.83 726.83 487.00 728.67 484.00 731.00 C481.00 733.33 477.67 736.33 474.00 738.00 C470.33 739.67 465.67 740.83 462.00 741.00 C458.33 741.17 454.00 740.33 452.00 739.00 C450.00 737.67 449.67 735.50 450.00 733.00 C450.33 730.50 453.83 727.17 454.00 724.00 C454.17 720.83 451.33 717.50 451.00 714.00 C450.67 710.50 451.17 706.17 452.00 703.00 Z" fill="#fff" filter="url(#nzB)" opacity="0.15"/>
<circle cx="474.50" cy="730.50" r="1.30" fill="#e02020" stroke="none" stroke-width="1" />
<circle cx="487.50" cy="718.00" r="1.00" fill="#e02020" stroke="none" stroke-width="1" />
<circle cx="446.40" cy="705.50" r="0.90" fill="#4040ff" stroke="none" stroke-width="1" />
<line x1="416.60" y1="756.00" x2="426.20" y2="756.00" stroke="#e8e8e8" stroke-width="0.9" />
<line x1="535.52" y1="685.74" x2="554.82" y2="699.74" stroke="#1e1e1e" stroke-width="0.35" />
<line x1="540.04" y1="683.48" x2="559.34" y2="697.48" stroke="#1e1e1e" stroke-width="0.35" />
<line x1="544.56" y1="681.22" x2="563.86" y2="695.22" stroke="#1e1e1e" stroke-width="0.35" />
<line x1="549.08" y1="678.96" x2="568.38" y2="692.96" stroke="#1e1e1e" stroke-width="0.35" />
<line x1="534.86" y1="690.80" x2="557.46" y2="679.50" stroke="#1e1e1e" stroke-width="0.35" />
<line x1="538.72" y1="693.60" x2="561.32" y2="682.30" stroke="#1e1e1e" stroke-width="0.35" />
<line x1="542.58" y1="696.40" x2="565.18" y2="685.10" stroke="#1e1e1e" stroke-width="0.35" />
<line x1="546.44" y1="699.20" x2="569.04" y2="687.90" stroke="#1e1e1e" stroke-width="0.35" />
<line x1="532.22" y1="668.74" x2="535.52" y2="685.74" stroke="#1e1e1e" stroke-width="0.35" />
<line x1="536.74" y1="666.48" x2="540.04" y2="683.48" stroke="#1e1e1e" stroke-width="0.35" />
<line x1="541.26" y1="664.22" x2="544.56" y2="681.22" stroke="#1e1e1e" stroke-width="0.35" />
<line x1="545.78" y1="661.96" x2="549.08" y2="678.96" stroke="#1e1e1e" stroke-width="0.35" />
<line x1="528.36" y1="674.40" x2="550.96" y2="663.10" stroke="#1e1e1e" stroke-width="0.35" />
<line x1="529.02" y1="677.80" x2="551.62" y2="666.50" stroke="#1e1e1e" stroke-width="0.35" />
<line x1="529.68" y1="681.20" x2="552.28" y2="669.90" stroke="#1e1e1e" stroke-width="0.35" />
<line x1="530.34" y1="684.60" x2="552.94" y2="673.30" stroke="#1e1e1e" stroke-width="0.35" />
<line x1="554.80" y1="661.82" x2="558.10" y2="678.82" stroke="#1e1e1e" stroke-width="0.35" />
<line x1="559.30" y1="663.94" x2="562.60" y2="680.94" stroke="#1e1e1e" stroke-width="0.35" />
<line x1="563.80" y1="666.06" x2="567.10" y2="683.06" stroke="#1e1e1e" stroke-width="0.35" />
<line x1="568.30" y1="668.18" x2="571.60" y2="685.18" stroke="#1e1e1e" stroke-width="0.35" />
<line x1="550.96" y1="663.10" x2="573.46" y2="673.70" stroke="#1e1e1e" stroke-width="0.35" />
<line x1="551.62" y1="666.50" x2="574.12" y2="677.10" stroke="#1e1e1e" stroke-width="0.35" />
<line x1="552.28" y1="669.90" x2="574.78" y2="680.50" stroke="#1e1e1e" stroke-width="0.35" />
<line x1="552.94" y1="673.30" x2="575.44" y2="683.90" stroke="#1e1e1e" stroke-width="0.35" />
<polyline points="531.0,688.0 553.6,676.7 570.0,687.0" fill="none" stroke="#8a8a8a" stroke-width="0.36000000000000004" opacity="0.7"/>
<polyline points="550.3,659.7 553.6,676.7" fill="none" stroke="#8a8a8a" stroke-width="0.36000000000000004" opacity="0.7"/>
<polyline points="527.7,671.0 550.3,659.7 572.8,670.3 550.3,683.5 527.7,671.0" fill="none" stroke="#8a8a8a" stroke-width="0.45" opacity="1"/>
<polyline points="527.7,671.0 531.0,688.0 550.3,702.0 570.0,687.0 572.8,670.3" fill="none" stroke="#8a8a8a" stroke-width="0.45" opacity="1"/>
<polyline points="550.3,683.5 550.3,702.0" fill="none" stroke="#8a8a8a" stroke-width="0.45" opacity="1"/>
<path d="M543.50 674.00 C544.08 672.00 546.92 671.87 549.00 671.50 C551.08 671.13 553.92 670.88 556.00 671.80 C558.08 672.72 561.00 675.13 561.50 677.00 C562.00 678.87 560.58 681.50 559.00 683.00 C557.42 684.50 554.25 685.92 552.00 686.00 C549.75 686.08 546.92 685.50 545.50 683.50 C544.08 681.50 542.92 676.00 543.50 674.00 Z" fill="url(#gB2)" filter="url(#blur05)" />
<path d="M543.50 674.00 C544.08 672.00 546.92 671.87 549.00 671.50 C551.08 671.13 553.92 670.88 556.00 671.80 C558.08 672.72 561.00 675.13 561.50 677.00 C562.00 678.87 560.58 681.50 559.00 683.00 C557.42 684.50 554.25 685.92 552.00 686.00 C549.75 686.08 546.92 685.50 545.50 683.50 C544.08 681.50 542.92 676.00 543.50 674.00 Z" fill="#fff" filter="url(#nzK)" opacity="0.35"/>
<line x1="535.52" y1="740.04" x2="554.82" y2="754.04" stroke="#1e1e1e" stroke-width="0.35" />
<line x1="540.04" y1="737.78" x2="559.34" y2="751.78" stroke="#1e1e1e" stroke-width="0.35" />
<line x1="544.56" y1="735.52" x2="563.86" y2="749.52" stroke="#1e1e1e" stroke-width="0.35" />
<line x1="549.08" y1="733.26" x2="568.38" y2="747.26" stroke="#1e1e1e" stroke-width="0.35" />
<line x1="534.86" y1="745.10" x2="557.46" y2="733.80" stroke="#1e1e1e" stroke-width="0.35" />
<line x1="538.72" y1="747.90" x2="561.32" y2="736.60" stroke="#1e1e1e" stroke-width="0.35" />
<line x1="542.58" y1="750.70" x2="565.18" y2="739.40" stroke="#1e1e1e" stroke-width="0.35" />
<line x1="546.44" y1="753.50" x2="569.04" y2="742.20" stroke="#1e1e1e" stroke-width="0.35" />
<line x1="532.22" y1="723.04" x2="535.52" y2="740.04" stroke="#1e1e1e" stroke-width="0.35" />
<line x1="536.74" y1="720.78" x2="540.04" y2="737.78" stroke="#1e1e1e" stroke-width="0.35" />
<line x1="541.26" y1="718.52" x2="544.56" y2="735.52" stroke="#1e1e1e" stroke-width="0.35" />
<line x1="545.78" y1="716.26" x2="549.08" y2="733.26" stroke="#1e1e1e" stroke-width="0.35" />
<line x1="528.36" y1="728.70" x2="550.96" y2="717.40" stroke="#1e1e1e" stroke-width="0.35" />
<line x1="529.02" y1="732.10" x2="551.62" y2="720.80" stroke="#1e1e1e" stroke-width="0.35" />
<line x1="529.68" y1="735.50" x2="552.28" y2="724.20" stroke="#1e1e1e" stroke-width="0.35" />
<line x1="530.34" y1="738.90" x2="552.94" y2="727.60" stroke="#1e1e1e" stroke-width="0.35" />
<line x1="554.80" y1="716.12" x2="558.10" y2="733.12" stroke="#1e1e1e" stroke-width="0.35" />
<line x1="559.30" y1="718.24" x2="562.60" y2="735.24" stroke="#1e1e1e" stroke-width="0.35" />
<line x1="563.80" y1="720.36" x2="567.10" y2="737.36" stroke="#1e1e1e" stroke-width="0.35" />
<line x1="568.30" y1="722.48" x2="571.60" y2="739.48" stroke="#1e1e1e" stroke-width="0.35" />
<line x1="550.96" y1="717.40" x2="573.46" y2="728.00" stroke="#1e1e1e" stroke-width="0.35" />
<line x1="551.62" y1="720.80" x2="574.12" y2="731.40" stroke="#1e1e1e" stroke-width="0.35" />
<line x1="552.28" y1="724.20" x2="574.78" y2="734.80" stroke="#1e1e1e" stroke-width="0.35" />
<line x1="552.94" y1="727.60" x2="575.44" y2="738.20" stroke="#1e1e1e" stroke-width="0.35" />
<polyline points="531.0,742.3 553.6,731.0 570.0,741.3" fill="none" stroke="#8a8a8a" stroke-width="0.36000000000000004" opacity="0.7"/>
<polyline points="550.3,714.0 553.6,731.0" fill="none" stroke="#8a8a8a" stroke-width="0.36000000000000004" opacity="0.7"/>
<polyline points="527.7,725.3 550.3,714.0 572.8,724.6 550.3,737.8 527.7,725.3" fill="none" stroke="#8a8a8a" stroke-width="0.45" opacity="1"/>
<polyline points="527.7,725.3 531.0,742.3 550.3,756.3 570.0,741.3 572.8,724.6" fill="none" stroke="#8a8a8a" stroke-width="0.45" opacity="1"/>
<polyline points="550.3,737.8 550.3,756.3" fill="none" stroke="#8a8a8a" stroke-width="0.45" opacity="1"/>
<path d="M543.50 728.50 C544.08 726.58 546.92 726.37 549.00 726.00 C551.08 725.63 553.92 725.38 556.00 726.30 C558.08 727.22 561.00 729.72 561.50 731.50 C562.00 733.28 560.58 735.67 559.00 737.00 C557.42 738.33 554.25 739.42 552.00 739.50 C549.75 739.58 546.92 739.33 545.50 737.50 C544.08 735.67 542.92 730.42 543.50 728.50 Z" fill="url(#rB2)" filter="url(#blur05)" />
<path d="M543.50 728.50 C544.08 726.58 546.92 726.37 549.00 726.00 C551.08 725.63 553.92 725.38 556.00 726.30 C558.08 727.22 561.00 729.72 561.50 731.50 C562.00 733.28 560.58 735.67 559.00 737.00 C557.42 738.33 554.25 739.42 552.00 739.50 C549.75 739.58 546.92 739.33 545.50 737.50 C544.08 735.67 542.92 730.42 543.50 728.50 Z" fill="#fff" filter="url(#nzK)" opacity="0.35"/>
<line x1="575.90" y1="652.00" x2="575.90" y2="759.00" stroke="#262626" stroke-width="0.6" />
<line x1="523.80" y1="703.50" x2="527.30" y2="703.50" stroke="#e8e8e8" stroke-width="0.9" />
<line x1="523.80" y1="757.50" x2="527.30" y2="757.50" stroke="#e8e8e8" stroke-width="0.9" />
<path d="M585.00 707.80 C585.22 703.78 587.48 701.22 589.90 698.20 C592.32 695.18 595.90 692.32 599.50 689.70 C603.10 687.08 607.48 684.50 611.50 682.50 C615.52 680.50 620.27 678.95 623.60 677.70 C626.93 676.45 629.57 676.20 631.50 675.00 C633.43 673.80 633.95 670.87 635.20 670.50 C636.45 670.13 637.32 671.60 639.00 672.80 C640.68 674.00 642.25 675.48 645.30 677.70 C648.35 679.92 653.90 683.08 657.30 686.10 C660.70 689.12 663.90 692.18 665.70 695.80 C667.50 699.42 668.10 703.38 668.10 707.80 C668.10 712.22 667.10 717.88 665.70 722.30 C664.30 726.72 662.30 730.70 659.70 734.30 C657.10 737.90 654.12 741.68 650.10 743.90 C646.08 746.12 640.42 746.98 635.60 747.60 C630.78 748.22 626.02 748.22 621.20 747.60 C616.38 746.98 611.12 746.12 606.70 743.90 C602.28 741.68 597.72 737.90 594.70 734.30 C591.68 730.70 590.22 726.72 588.60 722.30 C586.98 717.88 584.78 711.82 585.00 707.80 Z" fill="url(#ygB)" filter="url(#blur05)" />
<path d="M585.00 707.80 C585.22 703.78 587.48 701.22 589.90 698.20 C592.32 695.18 595.90 692.32 599.50 689.70 C603.10 687.08 607.48 684.50 611.50 682.50 C615.52 680.50 620.27 678.95 623.60 677.70 C626.93 676.45 629.57 676.20 631.50 675.00 C633.43 673.80 633.95 670.87 635.20 670.50 C636.45 670.13 637.32 671.60 639.00 672.80 C640.68 674.00 642.25 675.48 645.30 677.70 C648.35 679.92 653.90 683.08 657.30 686.10 C660.70 689.12 663.90 692.18 665.70 695.80 C667.50 699.42 668.10 703.38 668.10 707.80 C668.10 712.22 667.10 717.88 665.70 722.30 C664.30 726.72 662.30 730.70 659.70 734.30 C657.10 737.90 654.12 741.68 650.10 743.90 C646.08 746.12 640.42 746.98 635.60 747.60 C630.78 748.22 626.02 748.22 621.20 747.60 C616.38 746.98 611.12 746.12 606.70 743.90 C602.28 741.68 597.72 737.90 594.70 734.30 C591.68 730.70 590.22 726.72 588.60 722.30 C586.98 717.88 584.78 711.82 585.00 707.80 Z" fill="#fff" filter="url(#nzK2)" opacity="0.4"/>
<path d="M585.00 707.80 C585.22 703.78 587.48 701.22 589.90 698.20 C592.32 695.18 595.90 692.32 599.50 689.70 C603.10 687.08 607.48 684.50 611.50 682.50 C615.52 680.50 620.27 678.95 623.60 677.70 C626.93 676.45 629.57 676.20 631.50 675.00 C633.43 673.80 633.95 670.87 635.20 670.50 C636.45 670.13 637.32 671.60 639.00 672.80 C640.68 674.00 642.25 675.48 645.30 677.70 C648.35 679.92 653.90 683.08 657.30 686.10 C660.70 689.12 663.90 692.18 665.70 695.80 C667.50 699.42 668.10 703.38 668.10 707.80 C668.10 712.22 667.10 717.88 665.70 722.30 C664.30 726.72 662.30 730.70 659.70 734.30 C657.10 737.90 654.12 741.68 650.10 743.90 C646.08 746.12 640.42 746.98 635.60 747.60 C630.78 748.22 626.02 748.22 621.20 747.60 C616.38 746.98 611.12 746.12 606.70 743.90 C602.28 741.68 597.72 737.90 594.70 734.30 C591.68 730.70 590.22 726.72 588.60 722.30 C586.98 717.88 584.78 711.82 585.00 707.80 Z" fill="#fff" filter="url(#nzG)" opacity="0.4"/>
<path d="M585.00 707.80 C585.22 703.78 587.48 701.22 589.90 698.20 C592.32 695.18 595.90 692.32 599.50 689.70 C603.10 687.08 607.48 684.50 611.50 682.50 C615.52 680.50 620.27 678.95 623.60 677.70 C626.93 676.45 629.57 676.20 631.50 675.00 C633.43 673.80 633.95 670.87 635.20 670.50 C636.45 670.13 637.32 671.60 639.00 672.80 C640.68 674.00 642.25 675.48 645.30 677.70 C648.35 679.92 653.90 683.08 657.30 686.10 C660.70 689.12 663.90 692.18 665.70 695.80 C667.50 699.42 668.10 703.38 668.10 707.80 C668.10 712.22 667.10 717.88 665.70 722.30 C664.30 726.72 662.30 730.70 659.70 734.30 C657.10 737.90 654.12 741.68 650.10 743.90 C646.08 746.12 640.42 746.98 635.60 747.60 C630.78 748.22 626.02 748.22 621.20 747.60 C616.38 746.98 611.12 746.12 606.70 743.90 C602.28 741.68 597.72 737.90 594.70 734.30 C591.68 730.70 590.22 726.72 588.60 722.30 C586.98 717.88 584.78 711.82 585.00 707.80 Z" fill="#fff" filter="url(#nzYG)" opacity="0.5"/>
<ellipse cx="622" cy="686" rx="9" ry="5" fill="#7a4a14" opacity="0.6" filter="url(#blur1)"/>
<line x1="577.80" y1="756.00" x2="594.70" y2="756.00" stroke="#e8e8e8" stroke-width="0.9" />
</svg>
</body></html>
